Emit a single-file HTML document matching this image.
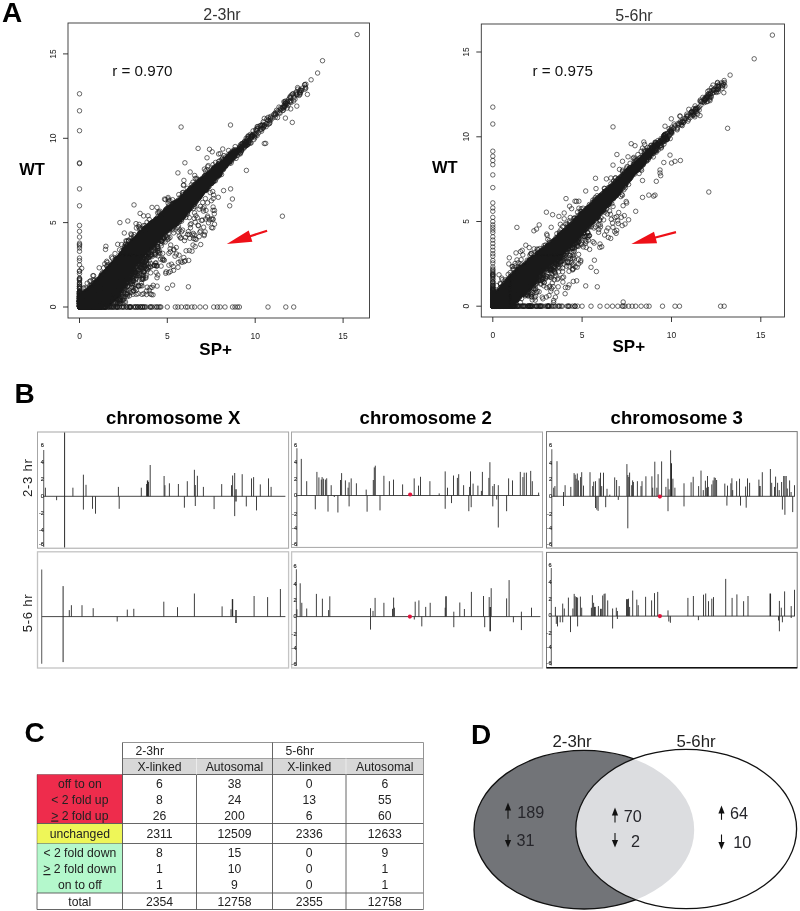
<!DOCTYPE html>
<html><head><meta charset="utf-8"><title>Figure</title>
<style>
html,body{margin:0;padding:0;background:#fff;}
svg{display:block;font-family:"Liberation Sans",sans-serif;}
.b{font-weight:bold;}
</style></head><body>
<svg width="800" height="911" viewBox="0 0 800 911">
<rect width="800" height="911" fill="#fff"/>
<g opacity="0.999">
<defs><marker id="m" markerUnits="userSpaceOnUse" markerWidth="6" markerHeight="6" refX="3" refY="3" overflow="visible"><circle cx="3" cy="3" r="2.25" fill="none" stroke="#1a1a1a" stroke-width="0.65"/></marker><clipPath id="cr"><ellipse cx="686.2" cy="829" rx="110.4" ry="79.6"/></clipPath></defs>
<text class="b" x="1.9" y="21.9" font-size="28" fill="#000">A</text>
<g id="plot-L">
<polygon fill="#080808" points="79.5,293.4 81.9,291.7 84.2,290.1 86.6,288.4 89.0,286.6 91.3,284.2 93.7,281.9 96.1,279.1 98.4,276.2 100.8,273.3 103.2,270.7 105.5,268.2 107.9,265.6 110.3,263.0 112.7,260.4 115.0,257.9 117.4,255.3 119.8,252.8 122.1,250.1 124.5,247.3 126.9,244.5 129.2,242.0 131.6,239.7 134.0,237.3 136.3,234.9 138.7,232.5 141.1,230.3 143.4,228.3 145.8,226.3 148.2,224.2 150.5,222.2 152.9,220.2 155.3,218.2 157.6,216.2 160.0,214.2 162.4,211.9 164.8,209.6 167.1,207.3 169.5,205.5 171.9,203.9 174.2,202.2 176.6,200.5 179.0,198.8 181.3,196.7 183.7,194.3 186.1,191.9 188.4,189.5 190.8,187.1 193.2,185.0 195.5,182.9 197.9,180.9 200.3,178.8 202.6,176.8 205.0,174.7 207.4,172.7 209.7,170.7 212.1,168.6 214.5,166.6 216.9,164.6 219.2,162.5 221.6,160.3 224.0,158.0 226.3,155.7 228.7,153.4 231.1,152.1 233.4,150.9 235.8,149.7 238.2,148.5 240.5,147.2 242.9,145.9 242.9,145.9 240.5,149.2 238.2,152.4 235.8,155.7 233.4,158.8 231.1,161.9 228.7,164.9 226.3,167.5 224.0,170.2 221.6,173.0 219.2,175.7 216.9,178.6 214.5,181.3 212.1,183.9 209.7,186.5 207.4,189.1 205.0,191.7 202.6,194.5 200.3,197.4 197.9,200.3 195.5,203.1 193.2,205.9 190.8,208.9 188.4,212.0 186.1,215.0 183.7,217.8 181.3,220.6 179.0,222.9 176.6,224.8 174.2,226.7 171.9,228.5 169.5,230.4 167.1,232.3 164.8,234.2 162.4,236.7 160.0,239.6 157.6,242.3 155.3,244.6 152.9,246.9 150.5,249.5 148.2,252.1 145.8,254.7 143.4,257.0 141.1,259.3 138.7,262.0 136.3,264.8 134.0,267.7 131.6,270.6 129.2,273.6 126.9,278.2 124.5,284.2 122.1,291.3 119.8,296.3 117.4,298.7 115.0,301.0 112.7,303.3 110.3,305.7 107.9,307.0 105.5,307.0 103.2,307.0 100.8,307.0 98.4,307.0 96.1,307.0 93.7,307.0 91.3,307.0 89.0,307.0 86.6,307.0 84.2,307.0 81.9,307.0 79.5,307.0"/>
<polyline fill="none" stroke="none" marker-start="url(#m)" marker-mid="url(#m)" marker-end="url(#m)" points="168.9,215.0 214.3,178.3 190.8,200.8 111.6,284.3 122.4,270.4 208.6,176.5 80.1,307.0 198.3,197.3 194.2,187.4 146.4,247.6 122.8,279.1 119.3,276.0 115.9,276.9 143.1,247.9 151.7,242.3 158.7,236.4 296.2,91.9 193.5,204.6 168.5,220.7 281.5,108.7 110.2,298.9 102.3,272.8 167.1,211.7 85.7,297.5 84.5,291.9 153.1,227.5 146.2,240.0 220.0,160.8 169.5,226.1 153.0,230.2 150.6,223.4 114.8,286.2 81.1,297.5 106.9,304.3 178.5,201.0 108.1,282.2 132.3,253.6 79.9,294.7 199.9,190.0 101.5,282.7 117.7,244.3 210.1,179.5 152.4,233.9 203.1,184.8 171.0,208.5 185.7,197.0 92.5,300.3 156.9,228.8 152.1,244.1 208.1,174.3 131.1,246.4 165.1,210.7 87.9,297.9 134.9,259.2 125.7,279.3 100.9,307.0 197.5,190.5 133.7,248.0 260.2,130.1 163.9,226.5 166.1,231.2 170.8,207.7 176.3,205.3 101.0,307.0 142.5,247.4 113.7,277.4 137.0,250.6 93.2,280.2 246.5,142.6 110.2,272.9 175.6,207.7 122.4,275.4 208.7,174.5 174.3,215.3 98.2,286.1 202.7,192.3 230.6,155.4 216.1,171.1 161.0,224.4 100.2,298.8 107.0,291.5 223.6,166.1 158.5,231.2 105.3,307.0 211.0,177.4 171.3,211.7 161.0,215.4 133.3,256.7 138.3,252.7 113.7,270.9 84.8,307.0 209.2,174.5 146.4,228.5 157.8,217.0 125.5,266.3 187.1,209.2 83.0,294.6 132.7,267.7 83.7,307.0 97.0,288.4 245.8,142.0 173.6,212.9 140.7,243.7 154.4,239.0 208.4,187.3 128.7,241.3 164.0,216.1 177.3,223.1 130.3,251.9 153.8,238.5 189.1,203.2 217.6,167.2 101.0,284.9 225.7,162.1 80.1,307.0 187.3,205.4 196.5,197.3 99.0,300.5 139.4,243.6 197.3,193.3 81.4,307.0 169.4,208.5 193.5,199.4 152.9,225.7 183.4,209.8 111.8,287.6 107.8,271.7 131.4,252.4 105.1,296.0 129.0,262.9 232.2,155.1 161.5,235.4 128.1,244.5 118.3,265.6 234.4,156.8 143.1,240.9 263.0,127.8 153.2,241.8 154.0,236.3 214.1,176.7 185.8,193.8 162.6,217.5 140.5,241.7 209.6,175.9 138.4,243.1 221.8,163.5 89.2,306.3 141.0,243.0 153.8,225.5 233.7,151.7 115.3,265.8 195.7,200.2 176.3,204.7 182.1,209.9 169.6,218.7 250.3,134.4 127.0,265.0 136.4,262.5 108.5,299.8 86.6,307.0 109.9,305.9 219.5,169.5 201.8,178.6 95.5,299.3 165.9,209.6 148.0,238.1 164.6,222.9 173.8,225.6 123.3,283.3 240.8,148.3 146.1,242.5 169.4,210.3 170.4,219.3 105.7,283.2 88.2,307.0 138.3,237.6 189.0,195.4 197.3,198.9 184.0,198.5 95.6,305.0 218.8,165.3 195.0,187.4 209.5,172.8 154.4,241.8 219.5,165.9 86.1,307.0 83.7,297.3 82.3,307.0 115.6,263.7 115.0,269.1 106.2,287.9 160.6,225.1 85.0,305.8 164.0,213.6 103.2,296.9 176.5,204.7 82.4,307.0 123.9,270.3 227.7,159.7 156.5,239.5 196.6,198.5 173.7,209.1 166.9,226.7 106.8,286.2 161.7,220.6 85.1,307.0 195.0,202.6 239.8,147.0 204.5,189.1 86.6,307.0 127.9,271.6 124.9,261.3 95.5,284.6 169.2,218.0 194.3,200.2 124.3,250.6 206.3,178.1 194.2,192.8 97.9,299.2 189.4,200.0 210.7,180.2 107.6,289.4 161.6,230.4 170.9,207.0 166.7,223.8 93.2,307.0 174.1,211.1 169.9,214.8 198.8,195.0 195.3,187.2 126.3,276.3 182.8,194.6 207.2,178.3 213.2,181.1 102.5,286.6 83.2,303.1 172.6,212.6 110.1,299.7 160.1,235.4 230.6,153.4 133.7,255.5 115.6,262.0 144.8,237.6 173.5,224.1 93.9,296.9 133.9,243.8 98.5,288.0 174.3,214.6 200.0,192.4 133.4,246.7 132.6,243.8 156.7,239.3 110.2,288.0 114.8,291.0 126.6,246.1 144.9,225.6 91.1,307.0 187.3,188.4 162.3,232.2 122.3,262.6 90.5,306.0 188.8,191.7 98.2,287.7 98.5,298.2 98.1,302.5 91.0,298.5 216.8,172.4 118.0,260.9 123.3,279.0 200.4,187.1 168.2,227.8 106.2,274.2 141.7,238.0 211.0,173.1 133.2,249.6 181.2,200.3 93.3,291.4 183.6,207.8 190.9,195.2 199.1,194.5 176.0,207.5 132.5,258.5 88.6,307.0 153.7,244.5 188.0,191.7 106.7,292.4 117.5,272.5 156.2,240.2 186.6,195.2 214.1,170.9 97.4,303.5 105.8,300.7 194.6,189.3 171.7,226.5 182.7,200.8 299.3,95.4 228.0,159.4 202.3,192.4 191.0,192.1 136.0,247.3 171.2,221.1 105.8,283.5 188.3,200.4 188.0,195.7 182.7,214.0 143.1,237.7 133.6,251.1 139.5,247.0 84.2,295.6 202.6,184.0 157.1,227.7 134.9,261.7 157.9,229.9 182.8,197.4 134.0,252.5 200.0,180.1 220.8,165.4 134.9,249.3 99.1,290.4 188.4,196.5 290.5,101.5 100.6,283.4 181.5,214.3 199.1,197.2 221.1,166.1 97.1,302.5 92.5,307.0 279.0,107.1 96.1,282.4 104.7,307.0 161.8,233.0 143.3,247.6 186.9,203.2 106.7,261.3 219.2,168.0 110.5,290.4 189.7,201.1 89.1,299.1 147.2,248.5 84.0,307.0 124.3,256.6 124.1,271.2 182.5,196.8 144.6,230.4 87.5,305.8 295.9,93.0 212.1,175.4 219.7,174.3 114.7,273.3 135.8,253.6 111.9,265.7 97.3,305.0 84.1,307.0 151.5,237.6 97.0,292.5 104.6,295.8 205.8,178.7 148.8,244.7 105.7,302.4 175.4,211.9 117.5,281.7 154.9,226.0 119.9,275.9 153.3,224.7 169.4,216.0 156.2,229.7 136.1,250.2 193.2,192.7 208.6,178.4 105.1,301.8 98.9,307.0 95.6,307.0 261.6,129.3 229.1,158.5 112.4,290.6 248.5,142.9 109.2,288.9 151.9,224.6 150.6,237.8 219.3,171.5 85.2,307.0 124.6,249.0 165.3,226.0 88.9,307.0 113.3,262.1 146.0,243.1 210.3,172.7 188.5,208.9 199.7,194.7 188.5,193.9 180.8,206.0 203.6,191.2 177.0,212.5 184.8,204.9 122.6,253.0 103.4,275.1 187.8,207.6 103.1,281.5 220.7,166.9 164.9,222.7 126.6,247.9 227.0,163.5 101.6,293.9 153.1,230.4 92.5,298.9 244.2,142.3 161.8,230.4 195.3,194.3 119.8,268.6 195.0,187.8 180.1,213.8 171.6,224.6 233.5,150.2 141.5,246.4 138.9,245.6 178.5,226.0 200.8,185.0 127.4,251.6 175.3,213.2 109.3,267.8 158.4,238.7 189.7,191.2 88.7,305.6 183.7,214.2 81.6,307.0 238.6,150.6 146.5,238.9 138.0,256.5 182.6,206.1 154.4,226.8 184.1,214.1 91.5,307.0 160.0,234.4 159.3,229.4 225.2,163.8 85.1,293.4 144.3,244.7 169.8,208.9 158.3,239.7 90.0,304.0 164.4,215.1 111.2,285.5 107.4,298.9 209.8,180.7 107.7,285.4 144.5,229.6 186.9,208.1 180.7,218.4 158.7,222.1 195.9,191.0 146.1,244.2 168.3,221.4 197.9,193.7 176.5,211.3 171.3,208.2 137.6,254.0 159.4,217.8 136.1,239.0 186.0,203.7 133.9,259.5 146.2,249.5 187.7,207.9 151.5,241.1 127.8,254.2 199.3,189.7 134.0,242.8 202.7,202.5 192.3,191.1 143.5,249.2 181.5,212.9 84.3,304.6 135.2,255.0 205.8,184.8 162.4,221.1 159.3,226.2 174.6,214.4 176.5,218.4 163.0,216.2 139.6,242.6 105.7,291.4 121.3,288.3 121.3,273.5 141.1,243.0 305.0,89.2 129.9,264.8 143.5,233.8 132.6,260.0 162.7,232.2 232.1,159.6 212.2,179.0 133.4,245.9 117.6,263.2 211.1,182.7 150.1,223.8 177.6,202.9 89.9,307.0 207.1,180.2 124.2,246.4 150.2,245.2 107.8,277.2 139.6,254.2 199.5,194.5 199.5,189.1 147.2,244.3 189.6,199.0 145.0,250.2 132.9,249.0 157.6,232.2 108.2,283.2 124.7,255.6 180.6,206.8 190.0,206.9 87.5,307.0 184.4,202.6 197.7,179.7 143.2,243.2 88.3,307.0 177.2,213.1 114.7,284.1 171.6,216.0 133.3,257.1 170.7,216.5 116.4,274.0 147.7,240.8 154.6,231.1 169.8,220.3 108.5,277.4 241.4,147.8 120.8,262.1 123.2,267.6 116.1,295.3 89.1,289.0 140.0,239.4 190.2,205.6 181.0,210.7 107.4,299.3 99.0,285.5 125.4,255.2 189.6,190.6 149.3,233.0 222.0,164.0 173.4,208.0 168.3,221.5 189.5,194.6 186.9,208.5 128.6,260.1 116.2,274.0 142.1,249.4 149.5,236.4 99.7,294.8 142.6,231.9 171.0,214.5 98.8,296.7 99.2,295.7 104.3,299.9 120.0,280.4 241.1,147.9 83.1,304.8 105.7,278.5 103.0,283.6 147.3,246.8 81.5,303.9 145.0,236.9 102.7,281.3 118.0,293.8 193.4,198.0 105.8,283.1 167.8,217.7 137.6,256.7 139.2,254.3 197.6,187.8 102.4,304.1 222.2,168.3 213.3,176.8 175.1,209.8 86.5,307.0 174.4,216.2 165.4,230.8 190.2,203.6 110.0,278.9 235.2,146.6 211.5,170.3 95.8,289.4 124.5,269.0 84.0,307.0 200.1,181.4 219.4,165.7 283.4,110.0 167.1,213.9 174.8,211.0 176.6,209.1 161.1,228.0 234.6,149.9 166.5,226.3 127.5,248.1 152.9,244.1 82.1,307.0 183.1,201.9 178.8,212.8 139.7,242.8 204.0,179.0 187.7,197.8 127.6,262.9 90.5,307.0 98.3,293.0 105.8,299.1 122.9,287.0 143.5,235.2 223.7,164.9 119.3,273.3 214.6,170.2 176.9,207.4 204.4,188.9 137.2,260.7 79.9,307.0 192.5,195.5 114.6,262.7 99.8,288.1 194.6,196.9 177.7,209.7 109.8,299.3 117.7,272.7 228.1,158.4 117.9,273.8 180.0,208.1 97.9,292.1 197.2,189.1 96.2,307.0 153.3,233.0 84.4,304.8 158.2,240.1 203.0,189.0 91.5,307.0 118.7,268.5 189.1,209.0 166.5,228.6 124.2,281.2 169.5,228.2 144.5,232.1 206.2,187.5 121.4,277.7 188.0,208.4 170.5,222.1 185.5,196.4 133.6,248.6 183.2,208.6 179.4,216.3 134.9,250.9 83.2,301.4 242.1,144.3 181.6,198.1 108.7,286.0 184.1,209.3 119.3,278.4 146.6,242.1 205.7,175.3 143.6,241.6 120.6,262.0 123.2,262.2 90.4,300.3 110.8,275.4 118.2,269.9 104.2,277.7 88.4,307.0 146.1,246.3 110.1,296.0 185.2,206.2 221.8,168.0 118.5,277.9 161.4,225.2 152.0,223.0 90.1,307.0 97.3,303.1 211.2,178.3 147.3,234.1 195.5,195.6 88.9,290.1 164.6,231.0 206.8,188.9 207.2,174.9 80.2,301.4 154.1,231.5 132.2,261.1 188.4,195.0 89.9,303.4 117.3,294.2 196.8,197.8 146.7,244.1 144.3,255.0 247.2,138.6 125.2,266.0 85.4,307.0 135.6,249.6 101.4,287.9 91.1,307.0 160.7,215.7 235.3,151.5 162.4,228.9 172.1,219.6 125.7,258.1 161.2,217.9 187.2,192.8 163.8,218.1 195.1,194.8 158.2,225.7 107.8,288.4 162.9,223.1 149.7,226.6 103.2,307.0 168.1,230.6 197.6,184.9 98.7,289.9 157.5,236.9 184.5,202.5 137.1,256.2 118.1,283.4 132.7,244.4 157.0,225.1 177.8,217.1 159.5,227.9 94.7,295.9 197.7,190.1 222.2,164.6 93.9,306.5 115.1,274.0 104.3,281.8 203.5,187.8 217.9,171.1 85.7,307.0 127.0,267.2 107.0,297.8 146.7,245.3 221.5,163.7 89.4,307.0 103.9,295.4 149.2,245.2 154.5,228.5 186.2,211.8 142.1,247.7 99.6,278.2 130.0,258.1 266.1,126.6 187.0,206.4 96.1,295.6 196.1,195.1 123.9,251.0 191.7,187.8 81.2,305.7 208.1,184.7 102.6,282.2 144.7,233.4 174.2,210.9 152.1,227.4 103.1,290.5 99.3,302.9 120.1,285.3 86.9,307.0 110.4,288.4 98.0,307.0 146.0,246.7 130.5,254.6 163.5,224.4 119.6,307.0 84.2,292.8 126.8,273.6 187.6,210.5 116.0,283.8 137.3,252.7 187.6,206.8 137.6,255.2 211.7,180.5 220.3,166.3 123.9,254.6 184.8,209.0 115.6,285.3 99.4,288.1 142.1,249.0 165.7,221.4 226.6,162.8 100.3,300.3 181.4,219.5 147.5,237.4 98.3,298.0 251.6,136.7 179.1,202.0 97.8,293.1 216.6,167.5 94.2,307.0 92.7,295.1 126.9,256.6 227.5,160.6 84.1,307.0 220.3,167.1 167.0,220.4 89.0,305.8 160.8,229.3 145.1,228.4 160.2,226.8 185.0,213.8 176.6,223.3 300.4,92.8 101.8,301.5 196.9,190.7 138.3,257.7 192.0,196.6 212.9,172.3 288.3,99.7 117.5,266.3 144.3,250.6 229.6,160.0 231.0,155.7 132.8,254.6 228.5,158.7 137.5,251.1 133.1,252.0 187.8,203.5 146.9,246.8 143.6,245.6 134.7,249.4 141.4,240.8 99.4,293.4 88.1,307.0 187.5,202.2 160.3,234.1 175.6,219.4 195.1,188.2 112.4,263.8 112.9,266.8 119.2,285.8 122.9,271.7 188.5,203.5 133.0,243.9 125.7,278.0 170.5,222.3 106.1,297.8 94.6,294.9 179.3,206.7 187.8,207.3 121.8,269.7 170.5,212.3 84.3,307.0 137.3,248.6 162.2,221.6 115.7,262.0 129.3,249.1 166.7,222.2 163.9,223.9 101.5,289.0 180.6,205.9 90.8,307.0 248.3,142.5 108.4,281.4 115.7,262.3 108.1,275.3 287.2,108.0 120.4,265.9 166.1,221.4 285.3,103.6 233.3,154.9 85.5,307.0 154.1,228.2 165.5,223.1 180.0,217.2 127.5,258.3 126.4,258.6 80.0,307.0 84.4,307.0 158.2,220.9 90.3,302.5 108.4,287.9 127.1,252.4 89.5,307.0 83.8,307.0 223.3,166.4 141.7,241.8 108.7,295.7 180.9,201.7 80.7,298.1 114.5,277.5 240.4,153.8 214.4,167.7 170.5,216.5 92.7,307.0 124.9,247.5 83.4,294.3 110.8,266.6 83.0,307.0 97.5,307.0 170.1,210.1 93.8,307.0 101.7,286.4 215.8,171.7 127.4,266.7 127.1,255.0 91.8,307.0 194.0,192.2 176.3,204.3 157.8,227.4 167.9,209.5 93.8,297.7 116.7,286.9 163.0,227.1 234.5,155.4 197.6,193.3 171.2,225.5 153.7,223.7 81.6,307.0 212.6,179.3 89.0,307.0 97.9,281.2 178.7,218.4 196.7,195.3 192.5,198.3 144.2,232.6 104.7,303.9 84.4,307.0 204.0,177.0 258.6,132.8 114.4,272.7 207.0,187.3 137.1,255.0 124.0,252.3 151.8,235.0 80.6,302.9 142.8,250.2 108.0,273.6 181.5,198.9 151.4,240.2 207.6,183.7 214.1,175.7 124.8,276.2 119.6,277.3 228.0,157.8 151.6,230.9 93.2,307.0 86.0,307.0 284.8,102.0 162.4,222.7 87.2,295.9 152.6,245.1 151.6,232.6 141.8,240.6 233.9,153.4 232.6,158.4 97.3,307.0 101.1,284.8 137.8,245.2 200.6,187.2 168.7,210.9 183.9,200.7 161.9,223.7 109.5,272.3 197.7,192.7 81.4,307.0 179.5,219.2 107.2,271.2 146.9,230.5 254.8,137.8 156.6,236.4 87.5,306.2 140.8,249.8 174.0,218.0 87.5,307.0 115.6,274.7 82.0,307.0 156.8,219.7 134.0,245.3 151.5,244.4 121.8,269.1 173.5,213.8 104.2,297.6 216.9,172.9 239.9,153.1 150.0,242.9 146.1,234.9 205.6,189.3 120.9,277.5 195.2,184.2 120.5,271.5 182.5,202.3 127.2,252.5 165.7,232.3 222.9,168.3 87.2,307.0 195.9,190.8 157.0,225.3 133.7,242.8 129.6,252.5 89.3,304.5 116.4,274.1 168.7,219.0 93.4,303.2 175.3,210.6 241.6,149.9 263.7,126.7 212.3,181.5 195.8,192.1 104.9,294.0 248.8,136.8 108.4,295.6 207.6,182.2 209.6,183.1 168.5,212.2 154.1,238.2 108.1,281.4 153.8,232.4 121.0,254.4 97.4,307.0 97.7,297.4 194.9,187.8 221.7,159.4 99.7,295.3 81.3,307.0 117.2,258.6 98.6,307.0 106.4,300.5 163.0,222.7 139.9,241.0 140.9,251.1 108.8,298.4 174.6,210.8 120.9,257.6 136.6,244.8 145.8,241.3 216.2,166.1 114.7,290.3 182.3,217.4 123.7,284.7 213.6,175.6 135.8,254.4 151.8,223.4 209.4,174.8 175.8,216.3 92.9,307.0 99.0,307.0 285.5,103.4 83.6,307.0 122.5,286.6 239.0,148.3 81.5,307.0 102.5,285.3 110.0,270.5 91.8,307.0 147.0,232.6 164.3,213.7 125.0,277.9 94.9,299.4 196.5,186.3 195.4,191.1 159.9,211.2 99.1,307.0 157.0,232.7 169.6,225.4 140.7,242.6 206.5,186.1 135.3,249.7 152.6,237.7 95.7,296.9 160.1,220.1 189.3,196.1 184.1,215.0 116.2,271.4 288.1,105.2 182.5,216.2 140.1,248.0 138.8,259.8 191.3,197.0 104.6,283.1 171.0,222.4 182.4,210.0 153.4,243.8 208.5,178.1 146.5,239.9 146.0,252.8 120.2,263.6 220.7,171.2 124.7,282.1 179.0,204.1 138.0,242.3 226.5,163.7 232.1,157.9 83.7,295.6 294.0,97.6 166.0,212.6 90.0,285.3 150.6,225.5 86.5,307.0 158.0,224.2 106.0,281.8 132.1,258.5 123.0,271.1 165.7,230.0 198.5,196.3 226.9,162.5 126.5,254.7 161.0,215.9 80.2,307.0 132.7,261.7 240.3,145.0 96.4,297.2 207.8,182.5 172.9,220.1 121.5,268.7 191.1,198.2 120.8,272.2 213.7,176.9 91.2,304.7 96.4,297.4 186.9,208.6 143.7,234.4 100.5,278.5 152.9,237.9 121.9,260.1 158.1,222.9 185.9,205.7 205.0,187.0 87.8,304.2 164.2,214.0 269.3,121.1 145.3,250.0 189.8,199.4 93.3,303.8 208.6,178.9 162.8,219.8 212.0,178.8 192.6,197.2 207.6,181.4 87.6,301.7 181.9,207.5 107.6,287.2 117.5,269.3 125.9,248.2 164.1,232.7 169.3,213.1 224.9,164.2 81.2,307.0 107.1,295.3 131.2,249.4 197.8,190.0 158.2,230.8 152.7,225.4 188.4,198.6 173.2,224.6 120.9,283.7 91.9,289.1 145.6,238.7 210.1,175.3 165.1,218.5 87.0,307.0 142.4,251.6 134.5,270.1 162.8,221.6 163.5,231.6 234.0,151.2 127.8,254.1 137.8,248.8 167.3,225.7 211.6,176.2 180.5,210.3 146.8,241.2 197.2,190.1 148.9,239.8 242.6,143.4 119.9,267.5 97.6,288.1 200.0,180.3 122.0,260.2 203.2,182.6 166.7,225.8 152.3,233.8 91.9,295.6 192.4,186.6 88.8,299.2 244.0,147.3 209.4,177.0 122.8,283.9 97.7,302.1 211.4,177.5 148.1,234.3 97.3,292.4 150.8,238.5 114.7,265.7 137.8,257.1 171.1,222.6 219.4,171.5 194.8,202.8 102.5,283.8 147.8,234.8 149.9,238.7 282.7,108.1 91.8,307.0 152.6,234.9 219.1,166.4 136.5,258.6 116.9,279.6 159.0,232.0 125.2,266.2 223.3,162.5 91.5,307.0 109.0,278.7 91.4,307.0 181.4,202.3 121.4,277.0 215.1,172.9 213.4,175.6 226.9,158.6 116.1,274.3 79.5,302.5 134.9,254.7 241.8,147.9 188.9,200.8 87.9,302.1 180.0,202.5 220.0,169.9 246.3,145.2 182.0,207.3 206.3,184.4 202.1,193.5 130.7,257.7 93.6,306.8 183.6,205.6 99.0,301.9 134.4,259.4 296.8,94.5 159.6,227.6 154.1,243.8 232.1,155.8 120.1,286.7 305.9,84.2 218.4,173.2 131.5,268.4 126.3,270.8 97.5,298.5 219.5,167.6 106.0,292.5 80.7,296.9 212.5,172.3 165.1,229.9 175.6,219.5 184.4,213.8 85.5,307.0 92.5,303.3 151.0,234.8 86.6,307.0 151.6,225.3 184.9,202.4 173.6,232.9 167.7,214.7 86.0,306.3 113.3,288.6 214.4,180.6 97.0,301.7 155.8,220.9 86.6,307.0 228.0,157.1 104.0,293.3 138.1,259.6 157.7,233.2 182.3,202.0 227.3,157.6 184.9,209.0 129.1,264.3 90.2,307.0 180.7,202.5 251.4,135.5 81.8,307.0 190.6,196.6 104.6,298.6 145.3,235.9 154.3,234.4 167.4,212.2 282.8,110.5 177.9,218.5 135.6,252.0 181.8,209.7 146.2,239.9 138.6,258.7 131.8,260.8 150.1,232.2 119.7,268.6 114.1,272.0 100.7,304.6 142.5,248.5 121.4,282.2 201.2,180.6 203.3,182.8 128.6,249.6 168.1,228.3 215.6,173.7 130.8,248.1 158.9,221.6 142.9,251.7 172.5,223.0 239.6,149.0 99.2,307.0 244.2,143.9 174.8,219.8 194.0,194.4 170.4,211.0 207.9,174.1 126.1,270.6 180.8,217.6 117.2,263.5 152.3,235.6 177.0,201.2 108.2,287.3 88.1,293.3 193.2,194.0 196.2,198.0 174.8,214.8 125.4,262.7 173.7,211.7 91.4,300.3 174.3,223.2 161.9,232.5 167.8,229.3 143.4,245.0 111.6,272.0 183.4,212.0 145.9,230.6 186.2,201.6 131.6,259.7 92.0,307.0 157.1,230.0 168.6,226.3 221.5,174.5 211.9,176.2 87.6,307.0 190.2,200.8 116.8,283.4 179.3,208.2 133.8,253.7 125.5,265.7 149.3,242.1 155.4,239.6 178.9,219.0 170.8,211.2 176.6,214.3 134.4,255.0 176.4,212.1 128.9,259.3 166.4,228.5 145.2,233.8 160.0,230.7 81.9,307.0 150.8,243.4 110.9,275.2 134.7,259.3 90.0,290.4 173.5,215.4 213.3,177.7 130.2,269.8 94.4,307.0 168.2,216.3 97.6,307.0 212.8,175.0 96.9,282.4 131.2,249.0 150.3,248.0 96.3,307.0 125.0,250.0 118.8,286.0 181.6,202.4 275.2,113.1 131.4,265.1 193.2,197.1 99.5,286.0 162.5,232.6 141.4,249.3 120.7,262.8 198.4,185.9 186.3,195.0 98.6,291.0 121.3,273.5 198.0,190.4 289.3,101.3 167.0,213.1 208.2,177.5 270.5,116.5 185.5,196.8 171.8,208.5 111.1,283.4 132.5,267.9 168.7,221.3 223.1,163.6 122.6,264.4 136.0,255.3 82.6,299.5 179.2,207.7 142.9,236.5 194.3,194.8 112.9,280.4 173.9,216.5 175.8,213.8 145.9,227.2 106.4,277.7 137.1,254.8 186.1,196.4 106.5,270.9 92.3,288.6 145.7,238.8 113.0,285.5 194.8,200.6 197.6,195.2 230.8,155.4 201.7,183.0 172.1,220.2 106.2,302.3 198.6,189.9 183.7,209.7 186.4,209.1 179.3,211.3 199.9,194.5 122.1,275.3 175.7,206.0 153.5,229.5 127.8,260.3 126.2,257.8 101.7,307.0 149.8,236.0 132.2,259.0 139.8,255.7 204.0,186.8 177.0,207.3 176.8,213.8 270.1,118.9 110.6,284.5 152.1,241.4 92.6,300.1 135.7,258.3 233.4,152.5 91.7,302.7 188.0,199.9 206.8,186.7 152.3,230.5 194.3,195.8 142.6,235.0 130.0,245.9 151.8,234.0 107.3,301.0 123.4,266.9 123.1,277.6 280.2,110.1 127.4,251.9 112.2,281.6 228.3,155.1 99.2,290.4 244.6,144.0 204.3,189.6 172.1,216.6 140.7,254.6 107.6,305.9 94.6,296.5 94.2,282.8 129.4,266.5 137.7,236.3 222.2,163.1 156.2,225.7 285.3,105.1 182.7,211.2 100.3,298.9 158.7,218.4 102.2,280.9 85.0,305.1 230.1,155.4 127.8,250.9 106.5,285.3 94.0,299.3 172.8,217.8 145.5,247.0 81.1,307.0 181.8,202.0 116.2,292.6 191.5,197.7 149.4,247.3 156.1,227.8 144.9,239.5 176.2,217.7 284.0,105.6 194.3,195.6 89.3,296.7 150.3,249.1 112.9,270.5 94.1,305.8 107.3,286.0 114.9,287.5 239.6,146.9 186.1,197.4 204.3,183.7 179.5,219.8 124.6,269.4 135.4,244.2 142.5,246.7 121.4,280.0 139.8,247.7 190.1,199.5 90.2,294.0 119.0,279.0 148.0,231.0 176.3,214.2 171.9,214.6 183.2,211.2 94.5,298.1 105.3,298.0 123.6,255.4 119.7,285.6 187.7,200.0 291.3,95.2 177.3,215.6 84.1,300.6 122.0,282.3 195.2,191.9 222.4,163.4 164.6,212.6 129.4,246.0 130.3,260.3 170.1,207.8 206.6,184.8 128.2,266.3 106.7,282.9 79.8,307.0 99.1,280.5 203.9,189.3 168.9,218.4 285.3,101.1 89.3,307.0 131.8,240.9 194.0,185.3 174.1,210.2 88.9,291.1 136.9,248.4 170.7,217.7 177.9,210.9 144.1,250.5 106.3,303.0 244.7,144.0 146.2,231.8 182.2,210.0 156.0,223.4 90.9,292.3 113.3,295.6 88.4,307.0 106.7,280.1 108.1,282.9 138.8,241.4 125.5,279.7 131.3,255.6 197.6,183.8 82.4,307.0 94.2,304.9 196.0,196.3 155.9,233.5 142.3,251.7 117.7,273.5 157.1,238.4 111.1,276.5 205.4,185.4 198.8,182.5 125.5,275.1 82.9,307.0 211.9,183.3 122.2,279.6 173.5,214.2 205.3,182.1 194.4,196.3 206.2,187.4 149.5,228.6 202.2,192.7 145.5,235.6 117.2,290.2 148.3,227.1 127.4,260.7 189.4,200.1 200.2,190.5 99.6,297.1 102.9,277.4 134.3,256.6 145.8,242.9 237.1,151.7 229.1,159.4 245.7,145.9 183.9,211.7 176.4,214.5 118.1,278.6 132.8,253.0 79.8,306.3 200.4,182.7 118.9,269.3 90.7,307.0 124.6,260.5 125.7,250.6 183.1,215.9 80.2,307.0 112.3,278.2 214.1,167.2 204.7,175.7 169.5,210.6 159.5,235.7 111.3,283.4 208.9,180.3 188.5,191.9 152.9,242.5 102.5,290.6 110.3,303.1 133.7,245.8 126.8,260.0 88.1,293.6 137.6,261.4 143.7,237.5 120.5,267.7 134.4,252.8 127.0,258.3 133.4,254.1 168.1,203.1 150.6,232.0 107.7,297.4 193.9,194.0 152.9,231.3 145.1,230.3 181.6,208.6 187.2,210.0 203.5,178.6 196.6,200.9 175.2,221.5 182.7,213.4 101.9,280.1 179.6,208.7 115.8,277.0 116.3,288.7 96.6,307.0 136.2,250.8 82.2,307.0 173.5,223.7 186.6,197.6 190.7,197.3 97.8,307.0 171.2,210.2 201.4,188.3 84.5,306.0 107.1,302.7 117.7,260.6 145.6,246.2 104.0,285.3 156.6,230.9 128.7,267.9 173.2,204.7 155.5,230.6 177.7,201.6 114.7,265.3 180.7,212.0 184.6,203.7 182.8,217.3 89.2,297.9 231.2,159.2 162.0,220.3 118.4,263.3 141.6,245.1 153.5,235.9 153.6,235.2 114.9,279.8 117.3,272.8 131.5,265.3 191.6,203.1 142.1,252.5 84.9,298.5 144.2,228.8 108.2,283.5 81.2,307.0 257.5,128.3 121.5,287.0 156.4,234.6 130.7,260.3 87.0,306.8 215.3,172.4 226.6,161.9 106.1,307.0 139.3,242.3 132.9,267.0 103.3,286.2 174.2,206.7 191.8,190.6 188.3,192.1 176.1,209.7 81.9,299.0 112.3,286.2 153.1,231.1 180.1,208.9 134.7,253.3 143.7,243.7 201.9,182.9 82.8,307.0 117.9,263.0 120.9,281.6 290.1,97.9 112.0,288.6 86.1,296.2 139.0,248.9 172.4,207.8 101.4,275.0 201.7,181.7 107.5,269.0 180.3,213.2 102.6,296.8 210.5,179.0 108.2,299.3 184.2,199.3 201.5,193.9 115.9,267.2 92.7,302.5 163.4,215.0 150.9,232.5 148.1,226.7 191.6,196.7 145.7,247.8 150.6,225.1 149.2,238.2 144.5,232.6 137.5,245.8 102.4,301.7 121.7,290.4 117.3,264.5 114.9,273.1 191.9,198.0 95.7,299.3 108.8,274.5 154.8,238.5 124.2,269.5 113.8,296.9 132.9,239.8 151.3,242.2 176.0,202.3 251.1,142.9 204.2,181.3 141.0,252.0 144.1,242.2 138.9,260.6 113.6,274.7 234.2,157.4 89.2,293.9 108.7,272.9 174.2,207.7 163.8,232.7 119.3,259.8 227.1,160.4 138.0,237.8 164.8,212.5 92.4,307.0 212.7,177.0 94.1,300.9 135.8,247.6 211.4,180.9 230.7,155.4 216.1,170.8 199.5,189.1 112.8,296.3 83.9,298.7 144.1,242.1 88.4,307.0 240.2,152.7 80.6,307.0 126.0,267.0 108.5,273.1 81.3,307.0 150.9,227.4 90.3,296.4 215.0,173.8 177.9,219.8 132.4,253.3 202.1,187.6 194.2,187.4 126.2,262.6 203.1,183.7 224.2,165.2 168.2,212.2 129.8,248.7 215.2,169.4 229.7,156.7 129.1,271.8 91.7,293.4 207.3,178.6 174.6,218.3 112.6,278.6 160.6,230.6 123.5,260.2 220.7,170.2 128.4,260.4 107.5,275.3 85.6,297.2 128.5,271.3 282.6,107.3 110.7,277.8 145.0,243.3 250.9,138.0 80.3,307.0 121.7,264.7 198.3,181.4 93.1,307.0 223.8,167.5 200.7,194.3 99.9,291.9 164.2,225.8 159.0,226.6 178.8,218.2 123.3,272.1 134.4,254.4 113.9,292.1 121.2,276.0 104.6,289.4 216.2,178.4 211.8,177.0 131.0,256.6 178.7,206.3 149.6,232.8 119.6,276.0 129.5,262.1 244.0,148.1 128.3,272.0 162.3,222.1 230.7,155.0 122.0,269.0 196.2,194.1 95.7,299.3 184.4,199.6 195.8,196.0 201.3,185.0 254.7,136.5 181.2,212.6 257.8,126.7 119.3,269.0 154.1,222.2 110.1,267.0 91.4,307.0 142.3,261.2 182.5,205.2 191.2,197.0 81.8,307.0 229.4,155.8 114.8,267.5 121.2,263.2 200.3,183.1 213.5,177.7 184.9,201.9 127.1,248.9 145.7,237.9 200.7,182.5 130.6,252.4 195.6,186.3 191.8,195.4 146.5,245.3 214.1,172.9 134.5,248.9 186.8,197.9 171.0,219.2 126.8,253.6 155.6,236.0 166.2,229.2 156.3,219.3 95.2,284.6 287.1,102.0 245.3,144.8 84.8,307.0 230.3,159.7 155.5,234.8 97.4,293.7 198.2,188.3 141.4,255.0 181.6,206.9 199.4,186.0 156.5,218.6 86.5,307.0 198.5,187.9 178.8,208.6 217.9,173.4 118.1,279.1 192.3,193.9 208.5,180.3 130.3,253.6 138.1,247.6 127.2,275.0 80.2,307.0 112.6,287.0 126.9,259.5 94.9,304.5 189.2,199.0 140.6,239.3 160.8,236.9 120.2,293.5 131.0,269.6 187.4,195.9 146.7,232.1 164.8,211.6 139.9,250.8 159.2,230.0 214.3,175.9 117.7,258.6 153.7,231.5 177.8,214.5 91.8,297.1 241.4,151.5 150.8,230.2 114.5,274.1 188.4,231.6 197.3,188.3 169.7,222.3 219.7,170.6 92.1,307.0 155.0,231.2 185.8,194.0 219.9,168.9 171.3,206.5 165.7,210.8 135.0,244.0 161.3,218.5 158.9,222.4 216.4,171.9 199.4,184.0 185.0,198.4 222.2,170.4 88.9,300.5 189.8,208.7 145.8,235.6 187.1,197.6 121.8,267.0 146.3,243.1 198.9,198.1 84.4,306.4 121.1,254.6 149.4,234.1 204.0,187.1 118.1,273.1 198.7,192.1 114.4,269.5 122.8,285.7 158.7,231.5 173.1,226.7 210.1,173.3 209.9,180.8 115.2,268.1 186.2,206.5 170.4,220.8 134.7,252.0 190.8,197.1 214.4,178.1 148.0,232.8 219.7,170.8 97.7,296.2 103.2,297.6 189.0,190.1 123.2,261.7 163.2,232.5 150.6,237.1 100.3,300.4 187.5,197.4 185.6,198.7 100.2,295.7 116.6,271.4 194.8,204.3 218.5,174.4 207.8,186.8 151.3,238.6 132.0,244.4 143.2,247.4 104.7,287.8 150.4,227.7 112.5,297.8 102.6,297.4 133.9,256.3 88.5,304.7 146.8,241.2 179.1,221.8 172.7,212.4 254.9,135.1 211.4,179.8 170.2,208.0 214.4,177.2 143.1,244.6 194.5,196.7 120.1,274.2 154.8,238.0 262.1,125.7 165.2,214.4 152.0,236.4 192.6,191.9 124.1,282.9 200.1,192.9 82.0,307.0 113.5,269.3 104.8,298.4 116.3,270.9 230.9,155.1 82.8,307.0 122.2,297.2 161.7,227.9 180.1,201.8 190.5,194.2 134.3,258.4 110.9,292.1 204.1,187.4 96.9,307.0 88.7,307.0 112.6,266.5 150.0,230.7 229.3,162.3 183.8,207.1 160.2,229.1 154.1,226.6 178.7,202.2 169.1,224.5 127.6,251.8 92.7,307.0 108.2,280.7 191.9,201.1 170.3,218.7 194.2,200.7 85.8,295.1 215.2,175.0 134.1,256.6 223.0,162.4 164.6,219.4 157.8,237.4 197.8,197.6 169.0,217.4 176.0,221.2 102.0,277.6 166.0,224.2 130.5,257.9 90.2,287.5 98.5,289.3 148.1,234.0 117.0,296.1 189.2,197.4 96.9,296.4 81.4,304.5 299.8,90.7 124.2,262.4 152.4,222.5 109.5,287.4 109.3,287.3 137.0,247.6 193.0,187.6 85.0,307.0 201.3,183.8 284.5,106.5 159.5,224.8 131.0,261.8 112.9,296.8 105.6,296.4 125.7,277.8 204.0,181.5 79.9,307.0 192.4,191.1 175.0,224.6 82.1,307.0 89.3,288.2 184.7,208.3 175.8,223.2 124.3,255.7 206.0,186.2 109.5,276.7 140.5,254.6 95.9,296.5 171.9,215.9 91.9,303.4 105.1,299.2 189.3,189.7 151.1,242.7 174.2,215.3 184.5,201.2 166.3,220.9 107.7,289.4 179.5,219.8 96.0,303.0 118.0,273.9 143.6,232.6 95.8,285.1 94.6,307.0 172.8,220.2 185.7,199.3 132.5,246.6 135.2,263.8 109.1,277.0 154.1,224.6 162.5,237.4 225.8,166.1 85.2,305.1 217.4,168.7 285.3,103.1 129.0,247.4 183.4,204.5 199.0,183.3 172.7,205.0 120.8,282.6 168.6,221.6 209.3,181.6 94.7,284.0 148.1,245.2 82.6,304.8 202.7,191.3 191.2,193.6 86.0,303.8 186.2,203.7 178.5,208.1 97.5,296.6 154.6,234.4 178.1,211.9 127.4,247.6 151.6,239.2 255.9,129.4 170.5,224.4 151.3,229.2 88.8,297.1 96.7,283.2 203.8,177.4 185.8,194.5 200.8,187.2 162.2,220.0 161.9,224.4 155.4,220.8 184.7,201.1 126.7,268.1 150.5,241.8 146.7,242.0 174.2,220.5 110.4,270.0 83.0,307.0 92.1,307.0 105.1,284.5 205.1,175.4 182.1,203.0 186.9,201.0 143.0,232.3 94.1,296.7 146.0,237.1 206.3,182.9 152.3,249.8 169.9,216.4 133.0,252.3 100.9,300.5 169.2,211.6 148.9,226.9 128.9,264.5 116.4,274.0 179.1,214.7 124.9,252.3 161.9,222.2 116.6,307.0 187.4,201.4 133.1,259.1 147.9,234.1 223.5,167.0 182.3,203.4 184.9,207.0 128.0,249.1 201.8,186.7 134.6,257.8 280.0,113.2 213.9,174.9 173.8,221.4 200.2,189.6 157.3,239.9 184.4,206.5 97.3,307.0 280.6,107.9 194.7,190.5 99.8,304.5 114.1,279.4 161.8,227.6 188.8,193.7 100.7,302.2 240.3,148.5 128.9,250.0 295.0,99.1 187.2,197.8 148.9,248.7 131.3,268.7 93.2,286.4 92.0,286.0 169.6,218.4 190.4,198.6 217.1,172.9 131.7,261.3 227.4,163.5 121.9,280.7 228.3,156.3 220.5,168.7 101.6,304.8 205.9,189.0 180.2,206.6 180.0,216.1 201.8,188.2 156.3,224.3 152.0,246.4 132.0,243.6 206.8,179.3 215.3,167.9 102.4,293.9 190.2,199.0 118.9,294.5 105.7,276.4 107.6,277.7 161.5,218.5 119.5,300.1 114.1,291.6 93.5,294.9 125.9,263.5 190.5,195.8 82.5,307.0 148.5,243.3 165.7,211.5 86.5,296.9 121.5,279.2 216.8,171.3 293.6,101.0 203.7,186.0 103.7,307.0 189.0,203.9 144.0,232.5 103.8,290.9 148.3,242.5 221.9,165.8 209.4,180.8 135.5,260.6 88.5,295.7 215.2,176.7 275.3,114.8 152.6,229.3 111.7,279.1 157.3,236.1 179.1,207.5 148.5,242.8 129.9,254.6 114.9,271.7 121.9,287.8 86.5,291.2 115.9,273.7 235.0,151.8 80.5,299.5 183.6,216.4 192.9,182.2 137.4,252.5 164.7,227.8 111.0,306.7 175.1,202.9 180.8,203.2 184.6,202.3 149.8,238.1 249.1,142.9 207.0,169.9 161.4,234.9 177.1,207.1 118.8,282.4 230.0,154.7 171.8,219.3 213.7,169.8 120.7,261.8 266.7,119.1 94.5,289.1 155.4,222.3 95.2,307.0 106.6,303.8 189.0,201.8 88.9,307.0 134.2,252.1 106.8,277.9 203.7,182.4 91.2,307.0 127.6,270.3 204.9,181.3 177.8,214.9 180.1,204.8 286.5,104.3 82.7,307.0 174.6,214.1 186.1,204.0 186.6,202.4 181.7,201.9 89.7,303.8 91.4,307.0 190.3,201.6 167.0,222.6 117.0,282.6 80.7,307.0 155.8,233.7 92.3,291.9 186.6,192.5 128.2,252.5 195.9,201.5 93.1,307.0 150.2,228.5 93.7,297.3 191.5,197.0 159.6,219.1 113.0,273.0 242.1,145.9 177.1,216.8 127.6,277.1 204.7,185.1 133.8,245.4 229.5,159.3 122.0,253.8 270.8,120.1 88.3,296.4 184.6,202.5 121.1,264.7 140.1,247.8 170.5,213.6 85.9,304.2 111.4,274.9 94.3,303.8 185.4,209.9 111.1,288.8 150.8,225.8 126.4,260.6 113.2,288.8 226.4,164.8 152.1,236.3 172.6,213.3 180.3,209.4 198.3,192.3 117.1,278.0 90.6,303.1 146.3,247.5 103.7,283.7 82.3,307.0 220.8,167.9 169.2,214.7 138.7,256.6 98.9,287.4 188.5,210.6 155.7,227.5 104.4,283.7 266.4,123.6 233.7,152.0 223.4,168.0 199.3,183.4 155.5,234.0 122.4,274.6 172.8,207.6 101.1,278.7 167.8,222.9 88.8,294.8 81.3,307.0 181.9,200.5 128.5,255.9 179.3,200.6 191.4,184.8 200.9,180.3 167.6,225.3 203.0,181.5 173.8,218.0 223.4,166.2 214.2,175.5 85.6,302.9 117.7,269.4 135.1,243.8 115.5,280.8 104.7,292.9 208.6,179.5 83.0,307.0 105.4,288.3 188.4,205.5 111.4,280.9 116.4,291.2 246.1,140.8 188.8,204.0 143.7,244.8 98.9,285.7 117.9,279.0 264.4,125.6 193.2,203.2 89.4,307.0 180.6,213.0 133.3,247.4 182.5,212.2 121.7,259.3 98.0,294.3 82.2,307.0 121.7,274.1 205.8,185.2 212.8,170.3 177.3,208.3 186.5,197.2 107.3,286.0 130.1,269.9 214.8,168.7 275.3,117.2 142.9,233.2 190.8,207.7 225.7,161.5 299.8,93.0 121.8,266.6 173.1,208.5 135.3,264.3 146.0,241.0 145.6,242.4 119.3,269.9 82.1,301.2 189.3,201.8 179.1,208.0 201.9,187.0 101.3,307.0 113.3,293.1 164.8,221.0 227.0,163.1 147.0,246.5 108.2,269.3 164.6,227.6 237.9,155.2 207.4,178.6 214.7,170.5 138.2,250.9 117.0,276.1 207.9,178.6 192.7,195.8 204.0,180.7 135.4,243.4 120.4,260.7 113.8,281.7 207.9,177.0 220.7,171.3 132.0,241.7 208.8,176.4 134.0,260.0 143.6,237.7 160.5,217.3 111.1,300.4 117.7,267.6 117.6,278.5 116.6,275.1 153.2,235.9 93.8,293.7 191.5,198.8 104.4,292.3 143.0,232.5 171.3,217.1 99.2,307.0 138.0,239.6 160.1,224.0 158.2,232.8 213.1,177.7 192.2,203.4 96.7,300.7 200.5,192.8 158.1,224.6 176.5,202.6 102.3,300.5 147.0,245.7 179.7,214.2 194.3,187.0 195.7,199.6 110.5,292.2 200.4,182.3 160.8,226.0 175.2,212.1 204.0,186.8 137.5,239.6 220.8,168.5 210.3,175.3 196.0,199.7 133.8,251.6 155.1,237.5 104.2,284.6 188.3,207.9 212.7,175.9 102.4,296.2 186.1,211.6 178.8,204.3 84.6,302.5 219.9,166.0 148.0,240.4 117.9,291.5 83.7,307.0 191.7,198.2 127.8,255.6 152.9,235.6 107.3,277.4 166.3,223.6 136.3,247.1 195.8,195.6 174.8,213.8 182.8,199.8 115.4,272.1 88.5,307.0 210.0,176.0 226.6,159.0 171.6,223.6 221.5,164.3 180.6,199.9 166.2,209.1 139.4,238.9 130.3,271.9 149.5,245.1 111.3,283.6 140.7,257.0 152.1,239.7 83.9,303.0 135.8,247.2 120.1,256.7 170.2,221.7 196.7,193.4 167.4,215.1 174.5,219.9 167.3,225.2 116.1,259.1 133.3,257.6 202.6,179.5 231.2,153.5 105.3,273.8 80.9,307.0 240.9,149.0 205.6,189.7 166.4,216.6 197.6,193.8 164.5,226.0 216.3,166.3 114.2,281.4 143.0,249.0 175.5,205.3 110.3,272.6 181.8,216.9 117.0,284.4 181.1,198.3 195.4,193.0 140.2,246.7 284.1,106.6 169.8,210.5 187.8,202.0 82.3,295.3 95.5,307.0 181.3,212.1 229.8,161.5 169.4,229.1 218.7,163.7 87.9,307.0 212.9,176.5 209.4,178.0 169.5,228.2 140.9,232.7 180.4,217.7 114.3,285.5 175.0,220.6 178.8,203.7 156.7,223.2 116.6,260.9 79.7,307.0 107.4,275.9 200.6,188.4 109.8,300.4 90.0,300.7 114.7,271.4 153.8,229.0 163.4,227.6 209.4,174.7 204.6,185.6 247.3,144.9 211.1,173.8 143.9,243.9 99.7,285.4 236.7,151.3 112.2,282.6 168.5,206.1 117.3,288.9 197.6,185.2 108.1,296.2 139.7,241.5 110.9,267.8 205.8,187.1 168.1,225.5 169.8,222.2 124.4,257.4 104.7,283.5 205.1,181.1 189.0,206.0 184.6,201.6 300.2,89.9 159.5,228.3 105.0,289.7 166.7,219.7 120.5,262.1 152.9,234.7 145.2,239.4 160.1,220.9 221.4,166.3 196.4,199.9 138.9,241.6 197.6,188.1 205.8,186.0 190.5,194.7 158.4,236.4 214.8,174.3 149.9,229.3 94.6,280.3 118.4,262.9 173.6,212.4 133.7,236.8 140.0,232.6 137.0,253.5 106.9,300.8 92.8,298.7 86.4,305.6 175.7,207.9 125.8,248.5 144.8,242.5 226.4,162.3 169.2,210.0 196.5,197.2 188.7,197.8 235.4,154.3 89.0,307.0 134.4,246.7 233.0,157.0 145.9,239.7 232.1,156.7 105.9,286.3 88.0,307.0 213.8,176.4 138.3,244.8 152.2,228.7 226.8,161.4 110.8,283.9 246.8,145.2 136.2,256.8 114.8,270.3 112.9,268.0 153.7,244.8 146.3,249.6 211.5,183.3 86.7,307.0 85.7,307.0 101.3,275.7 166.2,218.5 191.7,190.5 148.1,232.1 167.3,227.0 171.4,214.3 82.1,307.0 114.7,269.3 301.7,90.5 126.8,256.9 231.5,161.1 149.9,235.1 111.3,285.2 79.7,307.0 110.6,279.3 125.4,254.9 142.3,233.2 143.4,240.6 157.9,231.9 147.3,229.8 84.1,307.0 117.6,265.9 241.4,150.0 83.3,307.0 184.5,195.9 147.6,243.7 180.7,211.3 127.0,272.7 132.4,241.2 153.4,228.4 217.7,167.5 126.4,261.2 91.7,307.0 84.9,307.0 210.4,176.4 124.3,270.3 96.5,303.4 164.8,226.2 202.7,184.6 165.3,224.6 101.1,275.3 137.5,241.2 117.6,274.5 81.8,307.0 244.5,141.4 145.2,240.9 98.7,285.6 211.2,180.6 272.5,118.0 197.4,196.7 115.7,277.7 106.7,266.1 154.6,236.0 163.0,227.8 209.7,181.3 245.9,143.4 217.9,171.5 128.4,255.8 163.3,228.8 97.1,293.5 153.7,236.2 89.5,307.0 95.3,307.0 96.9,307.0 122.6,281.9 123.8,270.1 180.4,197.3 90.3,307.0 95.3,295.8 173.4,216.7 175.8,212.5 181.2,200.0 182.6,217.1 174.4,213.6 158.6,231.0 185.6,193.2 91.1,297.7 109.7,278.5 185.6,209.2 107.0,279.9 155.4,223.3 116.7,293.1 141.2,228.8 200.7,191.1 174.0,207.2 143.2,232.2 118.6,265.7 195.5,197.8 173.5,212.3 142.4,243.7 207.7,180.3 178.6,209.1 263.3,121.8 174.6,219.7 215.0,175.5 158.2,236.5 181.1,210.6 202.2,189.6 92.3,301.0 147.3,241.2 166.1,220.1 87.7,302.7 192.9,203.5 181.9,203.5 226.8,159.8 132.7,264.7 146.6,230.3 218.4,169.7 138.3,249.4 200.7,191.4 139.8,246.3 127.8,268.6 119.1,284.8 110.0,293.3 141.2,251.2 102.5,277.1 199.5,188.0 253.8,139.6 93.3,306.6 87.2,307.0 79.9,307.0 225.2,164.2 90.0,302.8 176.8,207.0 122.9,255.1 107.8,278.4 114.7,266.7 178.2,204.7 82.0,307.0 206.7,186.8 160.7,231.9 113.1,282.8 109.2,287.2 173.2,219.4 169.5,214.8 125.0,264.1 127.2,273.7 145.8,238.6 218.0,165.8 156.5,234.1 201.8,189.1 171.2,213.6 159.9,226.8 149.5,245.0 176.9,212.2 149.8,248.0 183.4,204.4 105.5,306.8 125.6,248.4 208.5,178.7 136.0,257.3 202.3,187.7 227.5,157.7 162.3,224.2 94.0,287.9 187.9,205.3 174.8,216.4 121.0,263.4 206.3,185.0 148.5,238.0 87.6,302.3 89.1,306.5 112.1,269.4 166.8,219.0 197.3,197.3 93.6,307.0 82.6,307.0 168.6,222.0 138.0,238.8 142.7,252.8 198.2,188.3 220.6,170.1 245.9,143.9 191.3,202.9 79.9,306.2 100.9,294.6 163.5,219.0 236.4,150.7 91.1,288.9 153.2,231.1 136.2,259.6 137.7,254.1 117.9,289.3 118.2,265.9 113.5,290.9 94.2,299.3 158.8,229.8 143.3,246.3 181.5,200.3 171.1,216.5 234.8,155.0 128.0,269.0 210.6,180.6 134.5,248.0 174.0,210.8 195.5,190.2 136.2,247.3 143.3,237.1 169.8,212.0 95.3,297.5 155.6,238.3 93.0,297.4 111.6,279.2 168.6,227.0 251.0,136.2 305.8,88.1 116.7,298.3 100.3,301.2 153.7,230.8 142.6,237.7 133.7,252.4 189.6,190.1 181.1,206.5 159.9,218.2 168.4,226.4 162.7,230.0 176.4,206.5 223.6,169.3 231.5,154.6 261.5,131.2 205.6,179.6 94.4,307.0 144.1,234.7 191.7,203.5 121.6,244.6 166.3,230.9 87.3,307.0 108.6,271.5 136.7,260.6 89.4,295.8 140.2,246.0 112.4,278.2 206.1,175.6 125.1,264.2 133.9,241.0 195.0,196.0 159.6,229.6 86.6,307.0 110.6,273.1 166.9,219.5 107.9,296.3 115.0,293.3 168.6,224.1 150.2,235.0 117.9,271.0 159.5,230.3 170.2,210.5 85.0,307.0 118.6,281.6 123.5,252.3 209.8,180.0 86.7,303.2 129.1,247.3 107.3,305.2 179.0,210.5 196.6,190.4 87.6,307.0 206.4,185.4 179.1,218.0 110.5,295.3 219.6,171.1 121.4,278.2 192.8,193.0 90.1,305.7 144.7,239.2 151.8,237.1 214.1,170.7 201.1,185.1 157.7,223.9 86.8,306.9 141.0,250.5 133.2,257.8 296.2,94.0 176.9,215.1 137.4,248.3 131.6,245.5 189.5,191.0 93.1,287.1 197.6,186.3 175.5,210.7 141.7,248.2 181.1,213.1 136.4,228.0 99.9,299.1 139.1,238.1 86.7,307.0 91.9,307.0 142.3,238.6 199.0,194.1 108.6,295.8 151.1,244.6 260.6,128.9 199.4,185.6 215.5,172.6 176.1,224.0 163.8,217.0 162.7,213.2 165.5,221.9 146.0,246.7 131.0,268.8 113.6,281.9 88.7,307.0 132.3,264.3 189.9,196.3 158.6,236.1 102.9,275.3 197.1,196.3 85.3,307.0 224.8,166.0 172.8,220.3 159.1,230.4 138.5,247.3 199.0,195.8 80.4,300.5 81.7,307.0 153.9,230.9 121.9,277.3 136.9,240.2 156.3,227.7 85.7,300.9 268.0,124.4 176.5,211.2 93.6,307.0 185.2,214.3 155.7,242.2 177.8,208.7 185.1,199.7 286.9,103.9 96.3,307.0 297.9,89.1 147.7,230.8 108.2,289.4 132.9,244.7 131.6,262.7 213.8,175.0 154.5,233.2 88.9,307.0 181.8,207.9 150.7,232.3 197.2,194.5 86.0,300.8 206.7,183.7 213.2,169.5 80.6,307.0 147.7,236.6 96.8,304.1 155.2,232.6 92.2,307.0 211.7,179.0 105.7,279.4 175.1,209.1 173.0,209.0 125.3,277.0 110.1,307.0 219.4,168.5 85.1,304.6 115.8,266.1 126.2,262.6 163.1,221.8 132.3,249.9 95.3,300.8 161.1,217.6 183.1,198.8 180.4,204.0 149.5,234.6 123.3,268.4 80.9,307.0 155.7,237.3 169.4,225.7 142.6,244.7 239.2,150.9 108.4,277.6 197.1,192.4 182.4,203.1 214.8,175.6 222.5,160.9 113.3,281.0 221.5,165.4 137.2,244.0 176.7,207.9 234.9,154.7 164.7,224.4 162.9,219.8 89.5,307.0 164.9,215.4 113.9,269.4 135.0,246.1 133.5,246.7 252.4,135.7 170.8,220.7 183.2,206.2 104.1,279.7 123.0,264.9 209.5,176.4 96.6,296.9 235.0,153.7 140.6,237.1 135.2,244.4 153.1,233.3 142.9,235.6 146.8,247.3 140.1,234.0 179.9,210.1 119.0,282.3 103.2,273.1 141.6,243.5 92.0,306.8 143.5,246.1 150.2,237.9 192.1,203.7 95.0,289.4 136.2,248.9 191.5,207.2 127.8,265.2 201.0,190.2 182.3,215.1 85.4,307.0 134.6,246.3 189.3,199.6 154.8,235.9 175.8,219.2 283.9,101.8 176.1,218.9 157.6,234.4 202.9,188.2 141.0,237.3 80.9,307.0 118.4,274.0 164.6,224.8 232.3,152.1 166.4,221.4 120.0,287.2 291.0,102.5 136.7,237.3 112.0,282.8 158.6,237.0 128.7,266.9 95.4,307.0 181.5,199.4 178.4,211.8 251.0,137.3 99.0,284.2 218.0,166.7 194.2,195.6 115.6,271.9 148.0,249.7 169.7,209.4 124.5,251.2 94.8,307.0 201.2,184.0 103.0,300.3 149.7,230.3 142.1,253.3 215.8,168.2 159.5,218.9 140.2,235.1 257.2,126.6 129.9,245.0 183.5,215.3 112.9,288.5 187.9,191.4 187.0,193.0 199.6,185.5 148.8,241.8 111.2,274.9 169.9,210.1 217.9,167.9 123.8,254.7 82.3,307.0 105.9,303.5 225.5,162.0 80.3,307.0 87.1,307.0 93.5,290.3 212.9,169.8 134.3,260.1 178.5,201.9 180.5,202.1 141.6,244.3 184.3,206.4 145.5,229.9 157.0,222.1 123.3,256.0 79.7,303.6 164.4,213.6 117.4,275.9 118.8,274.9 209.8,183.5 131.2,270.3 94.0,303.4 169.7,228.5 156.5,237.2 87.6,307.0 129.4,259.5 166.9,216.5 119.5,275.9 275.0,113.3 194.5,191.4 151.6,237.8 219.5,165.5 84.4,294.2 111.6,289.9 219.3,169.6 152.3,227.3 103.8,286.1 161.1,217.6 184.0,205.1 165.8,220.0 86.0,288.0 84.6,305.6 137.7,246.6 81.7,268.3 91.4,304.1 171.4,216.4 142.2,241.5 91.6,307.0 209.2,175.7 132.2,251.1 210.8,179.6 166.7,224.7 168.3,210.0 140.1,244.0 175.7,203.3 114.3,277.9 116.3,260.6 208.9,175.8 108.6,270.6 134.7,257.4 186.1,192.8 126.7,268.0 131.8,261.0 217.6,169.3 109.0,282.1 113.9,266.1 211.6,183.2 118.8,295.3 126.7,260.0 210.5,176.9 125.4,260.4 299.8,92.2 198.3,198.8 203.0,185.7 111.7,272.8 110.5,283.2 187.2,202.8 199.3,184.9 111.6,288.4 108.9,303.6 114.3,291.5 99.1,292.9 139.7,238.5 151.4,236.5 169.4,213.6 87.3,293.7 106.9,278.3 96.2,307.0 118.1,285.5 106.0,300.7 226.8,162.0 132.9,259.5 99.3,298.0 174.9,202.3 251.9,136.7 193.8,203.0 172.2,218.8 133.6,266.1 137.2,251.7 122.7,271.9 195.7,196.3 195.2,192.3 149.5,229.5 206.1,177.5 172.8,220.7 177.6,209.1 117.9,283.0 114.0,290.3 112.0,281.9 218.6,173.4 194.7,195.8 214.8,176.4 198.6,184.4 195.5,189.9 141.9,233.1 189.2,206.2 103.3,279.0 173.3,211.2 85.5,307.0 244.6,143.1 209.9,173.4 103.0,294.4 189.7,206.3 198.8,196.3 85.4,307.0 160.5,231.5 139.6,256.2 168.0,216.1 211.6,178.2 183.0,212.0 109.6,277.8 158.9,230.0 159.9,221.2 81.0,307.0 98.3,298.9 130.9,233.9 104.9,295.2 113.4,270.6 176.2,208.4 240.8,148.7 145.0,254.3 171.9,222.8 188.6,205.7 175.8,219.7 173.5,210.5 79.6,307.0 207.8,186.1 102.5,296.8 105.2,290.4 152.4,243.3 163.5,220.0 187.7,198.2 121.3,284.9 230.8,158.6 169.4,223.6 202.5,187.6 147.7,236.9 89.6,307.0 81.1,307.0 171.1,216.9 140.4,251.5 142.5,242.2 126.1,276.8 104.9,287.8 147.2,234.7 115.9,260.0 213.1,178.8 105.0,276.6 246.3,143.0 205.8,190.1 134.3,244.8 190.3,188.8 162.6,224.1 146.1,235.7 196.7,188.1 200.0,180.4 108.3,291.6 216.7,176.5 84.0,307.0 80.2,307.0 148.7,246.0 122.6,253.4 139.9,232.9 148.0,236.7 146.5,240.0 217.2,176.0 220.3,173.7 129.0,260.3 120.6,277.1 173.1,216.9 107.8,264.8 136.8,259.9 182.2,211.0 80.2,306.8 190.2,201.9 184.5,207.1 134.9,259.5 114.9,279.2 156.8,236.2 121.7,270.8 198.3,193.2 164.0,223.4 123.3,271.2 196.0,194.0 166.4,220.0 98.3,288.6 138.7,250.4 149.5,235.4 230.5,157.8 125.3,252.2 143.6,240.2 257.2,135.4 140.4,234.3 199.4,197.2 93.3,289.5 135.8,245.5 105.7,287.7 211.0,174.2 158.6,227.5 110.7,276.0 92.6,304.8 139.7,229.3 93.2,299.9 148.9,238.5 183.8,207.6 123.9,283.8 103.4,307.0 131.2,256.0 103.2,305.8 202.5,182.6 93.2,307.0 185.5,204.5 127.2,259.6 183.7,195.8 190.0,192.0 98.7,289.2 187.8,197.7 231.0,163.1 160.6,226.3 171.8,219.0 125.6,274.4 104.4,282.5 186.0,207.1 198.2,198.6 108.9,289.9 95.6,307.0 129.9,258.1 169.1,213.9 131.7,266.3 243.0,143.4 193.3,197.5 219.7,166.4 165.3,218.1 187.7,196.7 233.8,152.8 84.5,301.7 161.7,220.4 106.2,293.4 193.9,198.7 112.7,268.7 185.6,205.8 127.0,249.3 172.7,204.2 176.7,222.9 217.5,171.2 208.3,179.0 142.1,241.1 178.1,200.3 105.5,279.1 93.4,290.8 181.7,214.8 216.9,173.6 186.4,200.2 153.4,221.8 169.6,221.1 184.0,197.5 160.9,225.4 131.4,253.9 203.8,187.6 132.3,244.0 216.0,176.5 194.6,197.6 193.5,197.4 200.6,183.4 276.5,110.3 283.6,108.0 151.2,228.4 133.4,263.1 184.4,206.3 246.5,141.3 169.7,225.6 83.1,307.0 84.9,307.0 145.9,248.0 192.7,201.4 211.8,177.7 133.1,257.9 153.5,244.9 152.9,225.8 92.9,298.1 79.5,307.0 154.4,232.1 151.6,242.9 206.4,186.2 105.4,281.4 204.2,182.8 118.2,258.0 156.6,236.3 180.7,203.5 100.2,279.1 231.4,155.8 238.2,150.4 248.6,140.6 79.7,307.0 171.6,219.6 175.5,211.6 210.0,181.5 108.2,283.0 97.2,300.9 196.3,191.4 116.9,286.7 88.8,289.5 92.6,290.0 171.8,226.9 156.2,240.4 186.6,199.8 195.9,186.4 79.8,295.5 225.5,159.2 210.0,178.7 225.6,157.0 189.7,197.1 134.4,252.5 114.9,298.0 218.6,169.6 139.6,246.2 149.3,233.1 179.4,210.2 178.0,209.6 178.7,210.9 168.7,218.8 152.3,246.3 189.4,194.9 136.1,263.1 117.0,270.9 217.5,175.3 202.9,187.2 182.2,199.0 103.5,293.0 85.9,294.7 221.7,166.6 229.7,158.6 118.4,263.7 169.6,214.4 82.0,307.0 135.8,239.8 180.2,204.9 131.1,257.8 195.9,197.2 218.7,163.9 99.0,307.0 178.0,205.5 133.3,240.7 104.4,293.1 129.4,247.3 148.4,226.6 213.9,168.2 189.2,202.1 80.1,307.0 87.5,305.6 292.5,94.4 159.1,229.4 166.8,218.2 129.9,247.7 200.2,187.4 159.2,231.6 164.3,223.8 115.1,266.0 190.9,195.1 110.1,295.8 99.0,303.6 165.0,220.3 200.3,195.2 121.4,264.5 122.7,258.9 100.8,286.1 165.8,222.7 190.0,195.1 97.4,279.5 156.1,222.4 156.7,226.7 94.7,299.3 155.4,225.4 118.3,281.9 107.9,282.0 273.5,114.7 92.3,307.0 128.6,273.1 168.0,208.6 137.4,249.2 81.9,307.0 207.0,179.1 113.7,277.8 138.4,241.8 217.4,167.2 248.2,135.8 219.3,175.2 138.3,248.2 186.0,203.1 203.4,188.9 107.6,280.4 248.1,136.5 93.9,300.8 173.6,225.1 113.6,299.9 110.2,303.2 99.0,285.2 229.3,158.2 97.8,295.6 218.6,171.1 103.1,276.1 126.6,246.4 109.7,287.3 279.1,112.7 92.7,286.1 205.9,186.8 122.4,262.9 234.5,155.6 186.9,212.9 117.2,289.7 152.4,240.8 102.5,297.2 137.7,248.9 83.2,303.4 177.0,213.2 164.4,224.4 118.3,295.0 81.3,307.0 228.0,160.7 97.3,287.6 126.3,269.5 83.0,294.7 134.3,260.0 136.9,240.9 155.8,233.8 125.8,267.8 115.2,285.8 192.4,190.3 119.3,284.5 127.0,268.0 149.7,237.6 118.6,278.0 183.5,216.8 91.4,305.3 125.7,253.1 139.7,239.3 116.4,293.1 201.7,187.3 130.1,253.1 139.6,242.7 146.5,251.6 199.9,191.8 110.7,283.5 199.7,185.5 232.4,154.6 117.5,258.8 103.6,294.2 192.8,202.8 124.2,276.7 112.0,278.2 90.6,307.0 167.3,208.2 227.1,158.7 210.3,177.0 163.7,231.8 142.2,237.0 256.6,131.0 174.0,205.1 237.0,155.2 178.0,211.9 179.2,205.6 179.8,214.6 97.4,296.4 115.6,294.9 88.8,307.0 225.3,164.7 294.0,96.2 166.1,210.6 101.7,303.9 97.2,293.9 143.3,242.8 135.4,239.8 107.4,301.4 92.2,307.0 172.1,212.1 193.4,196.6 88.4,307.0 123.7,275.6 122.4,267.2 157.1,226.9 166.0,222.7 138.2,246.0 206.9,188.2 135.4,248.3 122.8,279.0 189.4,199.0 202.1,184.2 209.5,183.8 103.6,277.8 107.6,274.2 145.7,239.6 246.2,142.6 168.3,220.0 168.7,223.5 126.2,253.4 285.0,106.5 105.5,280.3 159.5,227.2 176.1,213.3 196.4,190.6 197.0,185.0 134.8,249.2 118.2,280.0 261.9,125.2 158.6,221.5 119.8,262.7 99.2,267.8 195.2,184.4 203.4,185.5 161.0,223.3 134.4,239.5 173.9,203.3 262.5,124.3 162.2,214.2 192.6,195.3 210.5,177.6 187.9,209.4 149.1,233.7 104.9,273.6 179.2,210.0 200.2,188.1 242.1,147.0 101.2,290.5 95.7,302.7 170.5,218.2 199.4,188.8 90.3,305.3 167.4,212.7 117.5,279.0 305.4,87.1 131.2,244.8 91.1,304.0 191.9,198.7 122.5,255.1 139.4,252.6 98.1,295.1 126.8,268.8 98.5,279.8 116.3,274.5 162.3,229.3 122.2,265.9 175.0,214.5 215.3,171.5 162.0,220.7 83.5,307.0 239.6,149.3 107.7,287.2 129.0,249.6 154.8,239.2 168.0,211.3 128.4,252.3 142.5,246.3 169.2,207.2 144.9,239.1 120.0,273.9 138.2,246.9 134.5,256.4 121.2,271.5 165.4,230.6 152.8,231.1 138.3,252.0 181.0,213.4 196.8,193.1 172.3,215.6 128.3,251.8 227.0,162.5 94.3,302.4 195.6,188.4 139.7,241.1 136.2,250.7 202.4,182.1 173.3,205.2 253.1,130.9 209.6,176.8 96.0,307.0 151.5,238.8 189.5,192.6 91.2,307.0 157.1,236.9 290.1,97.5 113.6,278.0 96.1,282.3 120.8,254.2 128.7,245.8 120.3,262.7 141.3,246.0 200.5,191.6 153.5,224.0 163.8,221.9 95.0,292.7 88.7,307.0 233.8,157.1 129.1,256.2 231.8,156.6 127.5,275.2 171.0,222.8 174.2,210.9 92.3,307.0 89.5,296.8 142.7,253.2 97.6,287.1 121.8,268.7 107.4,295.4 124.2,250.5 144.7,231.4 124.0,278.9 127.4,269.3 149.0,225.4 177.2,216.9 85.4,307.0 301.1,90.4 141.1,241.0 221.9,168.2 80.4,307.0 87.6,307.0 93.6,300.7 218.6,174.6 138.4,234.8 203.0,185.3 178.9,207.0 92.0,302.4 131.2,262.8 126.9,276.2 144.3,238.8 187.4,214.3 91.4,289.7 223.1,164.5 147.7,235.7 131.8,243.9 179.3,220.1 119.0,284.0 181.5,204.2 139.0,258.1 147.9,247.1 106.5,276.7 108.5,270.1 206.0,183.0 162.0,224.7 139.9,255.0 190.6,198.8 218.4,175.2 102.1,294.1 302.3,88.2 81.4,303.2 167.3,211.3 117.2,293.6 115.5,287.1 150.3,228.5 165.9,223.3 142.0,243.4 181.7,199.9 233.4,154.5 103.6,283.3 113.4,268.3 166.7,225.8 138.2,261.0 124.6,272.3 151.7,225.0 179.2,217.8 217.4,175.3 228.8,158.2 198.0,191.7 129.0,259.0 211.0,176.1 181.1,206.1 104.4,294.0 235.1,154.3 114.8,273.0 177.1,208.4 178.9,203.4 217.3,173.5 174.9,209.1 268.2,120.4 87.9,300.9 84.8,306.6 107.4,271.3 161.8,223.4 140.1,246.0 91.2,296.7 108.3,293.8 162.4,232.6 137.0,248.2 188.9,207.5 146.3,252.6 209.5,176.5 188.2,205.1 150.2,228.2 130.7,252.1 110.0,277.5 121.2,267.8 130.3,259.6 131.1,264.4 105.0,292.5 147.2,227.6 95.4,285.2 207.5,183.3 158.2,225.9 93.0,295.8 126.3,250.1 116.0,281.8 101.8,279.0 148.2,242.6 105.6,296.8 101.1,300.5 180.0,206.1 140.9,236.3 175.7,213.1 146.7,228.0 151.6,237.3 123.9,279.2 140.5,232.6 148.3,236.5 128.4,247.4 199.2,196.0 114.7,271.6 111.0,290.4 128.7,249.6 192.3,198.9 203.2,189.2 160.3,215.5 131.1,253.8 172.3,212.4 199.3,194.3 114.2,269.0 175.0,215.4 181.1,206.0 135.3,252.1 100.1,303.9 166.4,220.7 109.5,293.6 132.1,257.0 157.4,231.0 241.9,150.0 100.4,293.9 89.9,307.0 156.6,241.1 229.8,159.6 86.0,292.6 171.4,225.7 83.3,307.0 158.3,224.3 96.5,305.5 173.8,218.1 131.1,246.9 173.2,207.9 116.4,289.2 90.1,296.0 105.4,302.9 118.6,288.4 103.0,301.6 107.8,282.1 157.3,225.9 142.1,256.1 199.1,191.8 150.7,244.1 156.7,232.1 181.1,206.3 204.4,169.1 163.2,219.5 84.7,299.9 145.2,228.3 84.0,303.9 166.0,228.8 88.7,300.9 156.7,232.3 100.9,296.4 204.8,188.4 92.9,307.0 173.9,203.9 180.2,205.8 118.8,290.2 164.3,228.0 126.6,264.7 116.5,261.4 116.6,268.2 81.7,307.0 175.8,208.2 89.7,293.3 107.6,272.2 91.8,285.1 195.4,189.3 155.2,225.8 146.3,227.1 163.0,219.2 196.1,194.5 168.8,214.5 152.9,229.8 124.2,285.1 153.4,235.8 277.5,117.6 161.0,225.6 147.7,234.3 212.0,173.6 87.2,283.2 88.4,307.0 192.9,198.0 229.3,163.4 86.7,307.0 82.8,293.7 80.8,295.5 162.0,224.4 99.1,304.0 159.8,234.1 174.5,214.7 81.6,296.3 207.8,186.7 115.6,278.4 158.7,218.8 130.1,260.1 128.6,260.5 137.2,248.6 79.9,307.0 140.8,257.2 117.4,291.3 130.6,269.2 102.7,290.1 127.4,253.6 179.6,202.7 269.5,123.6 107.6,294.2 207.1,185.5 167.5,216.7 93.9,307.0 81.5,307.0 211.0,181.7 112.9,285.9 94.6,287.8 173.3,225.0 180.6,207.5 213.7,168.7 151.1,235.7 124.1,257.6 125.0,266.1 108.7,285.8 170.4,225.5 229.4,159.5 91.5,300.5 134.8,248.6 129.8,265.9 90.9,307.0 164.6,232.0 267.9,120.1 119.0,276.3 183.6,209.4 215.2,173.4 118.2,292.3 220.6,169.0 186.6,206.4 171.9,220.8 107.2,298.7 119.1,260.5 93.9,290.9 213.9,175.4 196.2,196.8 91.8,307.0 155.5,241.4 109.9,272.4 189.2,197.0 161.5,224.2 230.9,158.4 183.6,205.3 93.8,307.0 132.8,263.2 161.9,232.2 218.4,164.5 132.5,252.2 106.3,296.7 120.0,269.2 114.9,269.0 101.5,295.7 128.7,264.8 115.1,290.1 152.5,237.1 213.5,181.5 235.8,149.9 102.2,288.2 161.0,219.9 175.9,220.4 101.2,299.8 155.6,231.6 108.0,298.6 131.5,261.1 125.8,257.1 197.2,184.7 112.9,288.4 156.8,234.9 163.3,220.1 126.6,246.4 224.2,166.1 127.0,261.5 126.1,276.5 178.6,212.7 149.3,235.0 183.2,211.4 101.3,282.1 100.6,297.4 184.8,212.1 135.0,259.0 205.1,190.1 112.8,289.0 113.8,294.9 206.4,175.9 131.2,264.5 95.1,305.0 110.9,285.9 189.8,206.0 117.4,265.6 159.0,228.5 200.8,189.2 166.8,231.0 187.3,212.2 257.4,128.8 122.3,268.2 209.2,180.5 158.3,218.5 108.2,276.6 98.3,284.5 126.4,262.6 99.1,282.0 190.1,192.5 159.2,218.4 85.7,299.7 209.7,183.3 164.8,225.3 142.8,237.8 99.6,295.2 146.7,239.4 220.1,166.0 163.1,219.0 145.2,230.4 166.5,223.4 158.3,234.8 168.7,212.7 107.9,292.4 100.7,307.0 81.2,294.1 200.2,186.6 79.8,307.0 116.1,258.5 163.2,229.4 151.0,223.5 215.4,180.8 109.9,290.5 95.7,281.7 102.4,302.0 150.7,229.8 121.1,259.3 144.6,248.5 177.9,220.2 125.4,260.0 174.7,221.9 82.2,307.0 157.6,236.5 217.0,166.2 226.0,164.9 161.3,224.4 268.1,117.4 113.1,290.9 122.0,268.3 143.6,244.0 152.3,222.1 198.0,194.1 143.5,246.8 86.3,307.0 179.7,221.5 111.3,290.6 210.6,179.1 109.8,296.7 121.8,262.2 99.0,297.7 122.7,266.4 165.5,199.6 117.7,275.3 86.3,307.0 163.4,229.4 184.7,196.4 95.0,307.0 140.2,233.3 89.2,301.5 81.8,303.6 133.0,255.1 120.4,273.2 209.0,184.7 81.3,307.0 172.0,217.9 184.5,198.1 139.1,248.1 151.1,245.8 114.8,263.6 115.5,281.2 87.0,295.2 216.6,173.6 83.5,307.0 99.0,290.6 183.1,199.9 144.9,241.4 152.7,238.5 121.6,272.1 102.5,281.9 194.5,189.7 97.1,281.2 121.8,250.7 187.1,197.2 122.1,276.3 234.0,153.7 104.5,272.4 155.0,231.8 156.5,235.0 151.1,227.5 190.6,197.5 86.0,302.9 157.6,227.3 193.0,189.0 86.6,302.1 157.7,237.8 142.5,255.4 137.3,237.6 156.4,219.4 168.9,221.0 180.2,203.2 214.6,171.7 173.4,206.5 304.7,84.8 174.6,219.6 117.9,284.4 100.5,300.2 89.5,299.4 117.8,284.1 96.5,298.1 177.3,206.8 178.2,203.2 167.1,225.1 134.2,261.9 145.8,248.9 116.6,277.0 220.5,169.4 81.7,307.0 125.3,271.9 161.4,214.1 105.3,276.3 204.5,183.0 148.2,232.8 132.5,259.5 88.4,306.0 119.7,270.0 163.9,221.8 119.7,284.8 85.9,297.0 162.4,220.6 122.9,254.0 203.0,185.7 178.5,211.2 182.7,199.9 212.5,170.9 196.4,189.3 126.6,270.7 160.9,217.8 116.5,291.4 108.3,275.5 108.9,291.1 95.3,296.8 113.6,267.0 111.6,266.1 175.7,212.9 115.4,280.5 86.1,292.3 139.8,237.5 108.2,290.9 178.1,205.5 111.1,277.9 159.2,228.7 104.6,303.8 148.5,244.9 207.2,182.6 122.8,284.8 154.9,233.1 142.2,250.8 89.4,307.0 82.3,307.0 202.2,185.6 128.1,259.2 177.7,212.9 138.5,253.7 201.4,188.0 107.3,300.3 148.7,225.4 157.9,227.9 193.6,197.3 83.6,307.0 131.3,248.0 147.5,231.4 163.7,230.3 99.7,303.1 157.3,230.5 178.7,209.1 184.4,195.9 111.5,279.3 142.5,239.7 122.1,257.8 134.9,256.0 131.4,264.7 230.7,154.9 81.3,307.0 232.0,157.6 84.1,305.4 90.5,295.6 108.9,304.2 120.5,259.2 205.2,179.8 202.0,179.5 226.1,162.3 135.2,258.5 81.7,307.0 169.0,207.6 214.8,172.1 94.8,303.7 199.5,190.5 79.6,304.0 184.3,203.5 150.1,242.4 217.3,171.3 208.9,172.3 86.0,307.0 150.8,235.6 114.1,296.2 142.3,253.0 88.9,300.1 131.0,259.6 137.9,243.7 79.9,307.0 147.4,231.4 213.6,174.8 88.1,307.0 230.6,152.9 149.5,225.6 109.6,278.8 247.7,139.0 147.2,239.9 142.0,247.9 133.3,243.3 210.4,180.7 98.0,307.0 109.5,300.4 120.0,289.8 88.3,307.0 202.5,183.9 149.4,235.3 165.6,218.0 211.3,181.5 150.3,241.5 119.0,290.5 155.5,221.3 151.1,238.9 122.2,265.5 112.6,282.3 130.6,250.5 184.7,203.3 103.1,291.5 297.6,87.6 113.1,271.4 118.4,291.1 97.0,302.6 135.5,260.8 132.7,243.2 177.1,214.9 214.0,169.6 114.9,285.8 196.3,183.5 123.6,257.9 137.7,255.7 97.8,307.0 213.1,177.8 132.9,257.4 179.8,206.4 83.2,296.2 179.3,216.3 111.8,278.4 144.1,255.4 175.9,215.9 103.8,299.1 154.9,237.3 201.0,186.8 102.8,289.5 146.4,240.2 105.8,273.9 99.9,307.0 149.6,237.0 144.8,240.5 171.6,220.5 205.2,182.1 180.6,210.6 127.6,252.5 149.0,231.5 175.9,215.4 201.5,187.1 177.2,213.9 151.4,233.4 98.5,287.7 207.4,180.8 119.7,284.8 137.4,238.0 211.1,183.6 109.1,282.1 219.0,174.5 112.2,284.7 91.9,300.0 153.0,243.2 193.9,191.5 137.0,255.6 202.3,190.8 136.2,254.6 197.2,183.4 95.5,282.2 120.0,259.5 96.9,285.6 185.3,212.9 146.7,240.1 173.3,214.2 113.5,273.5 184.6,202.9 290.1,96.6 90.7,307.0 125.1,249.4 207.7,180.1 204.0,181.2 208.3,178.2 111.8,272.7 160.1,225.9 91.7,307.0 141.1,236.4 161.9,220.2 116.4,269.4 139.9,259.2 131.8,252.6 91.5,291.9 89.2,291.0 191.6,193.9 79.8,307.0 274.9,115.0 214.3,170.1 277.6,111.3 192.3,199.4 79.7,300.0 96.0,299.8 125.0,271.6 105.4,291.6 88.0,295.4 219.9,173.5 217.9,176.7 189.4,208.6 115.6,277.0 204.1,179.1 198.0,197.1 125.7,274.1 97.7,306.4 98.8,287.7 138.0,241.3 200.3,186.7 90.3,297.1 140.9,257.3 130.2,265.1 213.0,181.7 101.3,289.8 173.3,221.8 125.7,256.4 172.0,210.4 198.5,184.4 198.9,191.4 202.8,191.1 121.3,283.6 118.9,267.9 97.0,302.9 116.0,281.2 96.5,305.2 192.1,187.5 86.2,307.0 106.8,284.1 193.1,197.4 189.6,207.5 252.6,135.8 134.3,243.1 85.8,306.9 196.1,195.4 120.4,276.8 190.4,197.7 82.2,296.6 84.4,307.0 165.1,226.0 177.4,203.4 159.9,227.1 155.6,238.9 164.9,225.2 98.1,288.0 88.5,303.6 129.4,261.3 157.9,235.1 115.0,285.3 105.0,291.6 143.3,230.4 138.1,254.4 117.9,271.3 223.3,167.8 229.7,161.4 86.1,294.2 148.2,227.0 113.4,279.7 127.5,269.8 83.5,306.3 90.9,299.1 84.2,303.1 97.4,307.0 172.4,219.5 90.6,294.5 211.5,178.3 195.1,194.7 118.0,279.1 178.5,219.2 234.3,153.0 96.0,282.8 159.6,235.6 146.1,233.1 123.8,268.9 120.6,264.0 91.8,307.0 172.1,221.8 107.7,279.9 139.9,254.3 223.7,167.6 129.3,262.5 124.7,278.2 225.3,165.3 163.0,232.6 161.1,222.2 111.2,283.9 171.2,214.4 133.7,247.2 157.3,223.4 136.4,263.8 91.0,295.7 209.5,174.3 178.5,211.5 238.5,152.4 123.3,278.3 119.7,258.4 98.8,288.6 123.2,265.1 126.0,273.0 105.7,292.2 117.3,266.9 121.5,268.6 205.3,184.7 143.3,252.6 198.1,187.6 86.5,307.0 106.4,278.0 234.8,154.7 86.6,300.2 89.3,296.2 153.6,233.9 120.9,271.7 107.2,279.5 166.6,214.4 166.6,225.2 106.3,294.5 156.6,233.5 144.5,247.2 203.0,191.3 89.2,307.0 112.8,285.6 160.3,230.2 84.2,307.0 202.8,190.7 246.8,141.4 126.4,250.9 190.6,195.2 115.1,291.7 232.2,154.6 109.7,300.7 80.2,307.0 89.2,307.0 145.1,235.1 84.9,307.0 263.0,128.3 169.8,213.9 160.9,239.6 169.1,228.0 139.3,259.9 211.4,175.5 181.5,202.1 141.0,235.1 120.1,271.7 100.1,294.0 124.5,265.0 130.0,251.5 90.9,307.0 222.6,169.1 116.3,259.0 156.8,225.0 88.9,307.0 158.5,227.0 171.9,211.9 90.8,293.1 255.5,133.6 102.8,280.5 117.0,266.2 184.9,201.4 127.6,273.5 209.3,179.2 113.5,282.2 124.4,255.7 178.6,219.9 205.7,182.7 210.9,180.0 120.7,274.3 155.5,219.4 138.2,240.3 176.2,204.3 112.0,269.1 201.6,194.1 181.6,203.5 104.4,274.1 124.4,257.1 127.5,267.6 224.4,166.2 144.7,237.5 167.7,216.1 224.7,165.1 136.2,252.5 231.2,158.0 121.2,276.8 81.2,298.7 94.1,303.3 178.6,201.8 134.0,245.0 200.6,191.1 155.7,232.5 177.6,204.9 129.9,244.6 163.5,218.5 179.4,209.7 133.4,253.1 149.7,239.1 202.4,184.3 224.1,163.0 129.6,253.5 89.0,307.0 202.2,188.2 143.5,249.1 247.9,144.5 188.8,202.6 132.1,264.1 203.7,186.6 157.9,229.8 181.6,221.1 211.2,171.6 162.5,227.3 231.8,158.4 136.5,251.5 133.6,246.9 171.1,218.6 137.4,252.5 180.7,209.3 155.5,227.8 185.7,210.3 199.1,191.6 160.7,223.4 219.1,175.3 191.6,201.8 205.1,184.2 82.2,307.0 81.6,307.0 170.3,225.8 127.1,272.1 208.5,184.6 135.5,239.2 186.0,204.9 114.6,271.4 169.6,211.8 215.2,173.3 206.1,187.1 131.9,252.7 148.4,237.7 156.1,225.0 128.7,264.3 148.7,250.1 243.5,145.7 210.0,183.2 124.4,280.7 177.4,214.9 232.4,153.4 131.3,268.0 203.4,181.2 194.2,199.6 211.6,172.9 91.5,307.0 221.9,166.8 264.1,125.8 114.0,296.3 170.1,228.5 92.3,307.0 165.7,210.6 180.9,212.2 186.2,205.7 205.1,181.5 121.4,291.8 96.0,296.0 197.6,194.2 83.1,307.0 112.8,276.0 113.3,274.5 190.7,206.4 142.7,245.0 201.3,191.9 175.1,218.2 202.3,189.4 192.4,198.4 210.1,178.2 118.9,283.4 130.3,270.2 169.4,221.2 162.9,225.8 191.1,194.0 196.1,188.9 123.1,272.5 96.7,291.9 185.6,195.6 177.8,210.7 119.1,278.1 87.5,298.4 82.7,307.0 114.9,262.5 118.6,279.3 109.1,296.7 86.6,307.0 103.8,307.0 129.5,251.8 92.6,297.8 109.0,292.7 142.1,248.7 203.3,185.5 208.1,180.9 137.4,254.1 97.4,307.0 118.0,268.9 176.1,217.3 137.7,244.6 161.1,218.9 184.9,198.9 173.8,211.4 205.6,185.0 91.7,307.0 121.9,259.0 84.3,296.0 154.0,221.4 167.4,213.7 115.8,294.7 87.3,307.0 145.8,249.6 103.4,283.0 107.3,299.7 134.0,244.9 230.7,157.6 131.0,247.6 181.0,211.1 132.7,263.6 137.4,243.3 99.5,285.9 105.8,272.4 190.0,200.7 140.9,254.7 120.3,255.7 277.1,112.8 209.6,174.6 117.3,273.2 141.6,235.7 160.6,232.9 103.2,295.5 140.6,246.1 120.1,260.6 196.4,188.4 92.9,295.9 287.1,101.8 113.1,264.2 126.8,275.5 90.2,302.8 218.7,172.6 199.6,181.5 89.1,300.6 155.1,234.1 135.3,251.8 166.2,230.3 127.5,265.3 237.1,151.5 110.6,299.8 198.1,185.5 117.7,282.6 172.4,216.6 140.7,248.2 154.7,228.1 154.2,221.9 169.1,212.4 89.1,307.0 87.9,305.5 249.6,141.0 115.6,279.0 130.5,268.2 113.7,274.3 171.9,213.8 269.8,122.7 137.1,248.7 125.4,248.7 129.5,261.8 83.3,301.1 92.3,307.0 86.3,293.1 125.8,268.7 270.8,117.7 99.6,298.5 158.0,230.7 109.1,295.3 84.7,305.2 201.2,190.4 97.6,286.4 98.7,300.7 197.6,187.6 114.3,285.0 107.9,268.7 229.8,159.9 107.2,286.8 200.2,196.0 123.3,262.8 160.4,220.3 123.9,260.2 128.0,256.6 225.3,160.8 217.2,169.3 104.4,307.0 183.2,211.8 99.4,287.1 122.3,280.6 89.5,306.5 172.2,215.0 183.5,208.3 186.3,200.8 190.6,202.0 135.9,263.3 104.8,279.6 80.0,307.0 142.5,245.3 225.6,166.3 143.7,232.1 167.6,213.3 219.9,172.6 206.2,184.5 185.4,195.2 164.2,220.1 112.6,269.0 186.7,201.8 139.2,252.1 180.6,208.4 111.4,290.2 228.7,162.0 102.9,290.9 193.2,205.1 212.5,180.8 101.2,307.0 206.7,179.2 171.7,217.7 165.9,224.0 115.8,270.2 126.4,260.2 113.1,267.2 142.6,242.1 172.2,224.5 183.8,184.8 180.5,202.1 129.1,257.1 127.5,250.5 188.9,208.8 253.1,136.1 111.1,276.4 138.5,238.4 118.9,271.0 254.1,133.8 81.7,303.5 213.0,172.3 189.5,209.3 126.9,264.7 176.9,220.7 132.3,262.1 170.6,224.8 140.3,251.6 219.3,166.5 144.9,242.6 196.8,194.5 161.9,215.8 132.7,256.8 245.4,146.1 107.4,286.4 217.3,171.4 264.6,125.0 203.5,187.2 166.8,228.4 168.6,227.9 223.8,159.9 141.4,245.9 198.9,193.7 190.6,190.2 205.4,183.1 142.5,246.6 172.9,203.9 92.6,307.0 89.7,307.0 94.8,286.6 184.7,204.2 130.3,263.5 217.3,167.8 90.7,288.3 104.1,297.1 201.1,188.8 139.3,236.0 111.0,286.6 191.6,198.9 113.0,272.7 252.6,134.7 118.8,268.7 205.4,190.2 148.1,236.5 226.4,162.7 121.8,265.6 222.7,158.1 122.8,265.1 143.6,243.3 170.0,212.9 158.8,229.7 175.5,213.2 179.1,209.5 117.8,280.8 80.6,307.0 183.0,196.7 165.4,219.7 160.1,217.0 150.4,234.1 223.8,164.1 121.9,267.5 218.4,167.4 103.4,285.5 178.9,211.8 229.1,156.5 101.5,306.6 189.9,190.9 118.5,283.3 87.8,294.1 141.2,233.7 179.5,208.9 120.0,288.0 233.4,155.1 79.7,307.0 117.7,285.1 128.3,249.0 132.5,257.4 122.3,269.5 82.4,307.0 109.5,301.0 116.9,276.7 175.7,208.6 133.4,241.4 182.9,197.8 142.8,249.9 128.2,269.9 102.2,293.4 112.1,286.1 215.4,167.9 144.6,247.9 124.3,233.0 110.7,279.2 209.3,186.2 180.3,218.5 178.9,212.8 195.5,188.5 114.0,280.4 184.1,198.4 89.6,307.0 174.6,207.2 125.5,266.1 174.2,206.3 111.9,297.1 130.0,255.8 175.4,222.8 228.2,160.1 128.2,263.3 103.6,289.2 97.2,295.7 175.6,211.9 213.5,177.6 81.8,294.5 128.8,255.8 103.6,295.2 236.0,158.4 98.3,289.9 89.2,303.2 189.6,206.5 304.7,84.6 190.5,188.3 95.8,293.6 137.8,254.0 153.9,234.3 214.7,174.0 187.4,196.6 88.0,299.5 144.3,244.4 191.2,190.6 157.2,238.4 174.9,203.4 246.1,138.3 260.1,126.0 201.2,182.7 161.3,245.8 123.4,250.4 102.3,298.9 103.4,304.5 171.1,218.4 190.3,198.0 205.4,184.9 219.0,171.9 120.6,290.9 127.3,260.1 107.5,300.1 157.3,221.7 231.5,154.8 188.0,200.0 142.0,232.4 102.2,298.4 202.3,179.2 214.0,175.9 189.6,193.4 121.2,273.4 135.3,262.5 163.0,219.4 220.2,165.7 114.2,299.0 139.5,250.6 88.0,301.5 79.8,305.2 114.2,268.1 196.2,188.3 176.1,215.4 147.7,233.0 138.1,245.4 117.3,296.3 189.3,199.2 149.3,235.3 89.4,307.0 169.2,217.7 290.9,100.7 89.8,281.3 300.0,94.3 93.6,304.8 123.5,266.1 256.7,134.2 250.9,138.1 105.8,297.0 182.6,203.1 167.2,217.9 136.4,257.7 192.0,196.2 170.3,224.5 111.6,276.9 149.6,245.1 181.0,219.4 168.4,216.5 157.2,225.6 185.0,194.4 98.7,296.6 85.5,298.2 84.1,307.0 168.3,208.1 141.6,236.8 201.0,180.1 250.3,143.1 95.4,307.0 133.7,251.6 139.5,234.5 157.7,224.9 217.7,170.3 165.3,216.1 123.1,259.7 174.4,212.4 126.5,262.8 158.9,224.1 93.5,307.0 160.2,231.4 147.9,233.2 171.9,223.9 160.6,237.0 161.4,225.4 185.0,200.9 98.5,307.0 187.1,203.8 168.7,224.3 178.0,207.8 136.6,243.4 91.6,292.9 221.6,166.2 199.3,189.9 256.1,130.1 145.3,240.2 211.2,175.9 208.1,178.7 158.2,231.3 215.2,177.6 197.2,183.5 94.1,294.9 98.6,289.3 137.7,244.8 155.7,230.2 172.9,214.7 160.2,236.7 209.2,183.4 194.8,195.6 94.1,297.2 128.0,248.2 211.9,174.6 187.6,205.4 81.6,307.0 169.2,220.2 97.5,282.6 151.5,232.5 293.1,93.6 90.2,295.8 198.7,193.9 148.7,242.5 260.3,125.5 205.6,178.4 88.7,307.0 171.5,220.6 205.8,180.0 119.4,279.5 180.4,212.1 115.8,279.3 108.8,275.6 127.0,259.5 121.4,266.5 241.7,143.7 113.1,269.8 140.2,252.1 149.0,233.6 178.4,217.0 248.6,140.8 167.3,221.5 205.8,190.6 98.2,281.6 174.1,223.3 104.1,299.9 208.1,177.3 164.7,223.6 98.9,290.4 203.7,185.7 154.6,243.9 149.0,229.7 91.0,307.0 216.9,171.9 153.0,241.0 206.6,182.6 90.2,305.4 176.8,210.9 133.2,246.9 156.3,230.6 168.8,217.6 199.1,194.3 222.0,165.4 103.3,299.1 205.6,184.4 96.1,291.1 80.9,307.0 122.5,273.1 120.2,271.6 190.0,198.3 159.7,232.5 135.0,248.2 193.1,198.8 226.6,159.4 171.3,211.8 172.9,215.1 206.0,185.6 121.3,264.1 297.1,94.9 104.6,295.6 85.9,307.0 198.7,193.0 104.4,284.5 127.4,256.4 152.9,225.6 95.3,304.7 140.1,249.2 130.1,253.2 91.7,307.0 165.8,213.7 144.0,228.6 102.3,307.0 192.7,196.5 138.1,241.8 83.1,307.0 209.9,175.6 138.0,240.2 92.5,296.1 120.8,292.4 115.9,293.4 85.7,299.5 126.8,244.6 103.5,298.8 110.0,265.6 176.0,223.0 102.1,280.7 82.5,307.0 105.0,296.9 121.7,281.2 103.0,276.5 165.0,222.7 210.0,182.7 200.0,196.1 146.8,229.9 192.3,197.1 193.1,192.5 170.3,216.1 195.1,184.9 133.6,262.6 186.6,196.0 154.3,221.0 185.2,206.2 185.3,197.1 88.8,301.7 200.6,195.6 84.6,303.8 140.6,250.9 164.1,217.4 198.7,184.5 87.6,307.0 175.6,224.6 128.8,270.6 85.3,307.0 127.0,255.9 171.2,213.1 91.3,307.0 203.3,183.1 85.5,307.0 113.6,287.7 126.6,271.3 88.6,304.8 222.8,168.3 245.0,144.8 216.4,172.4 107.9,289.7 200.5,180.5 127.8,265.9 120.8,263.7 178.2,204.6 91.6,285.7 80.2,302.6 224.7,161.6 130.1,267.7 193.8,191.9 140.4,240.5 92.7,307.0 147.4,240.4 103.9,280.1 91.0,304.3 82.1,302.5 136.8,252.7 116.4,286.0 127.5,255.3 241.1,146.6 199.8,192.4 180.5,213.4 114.3,282.3 186.8,208.0 179.4,203.6 155.0,238.0 113.6,283.3 109.2,269.9 139.5,227.2 119.0,259.3 211.2,176.6 79.5,293.6 79.5,300.6 79.5,301.4 79.5,278.6 79.5,303.5 79.5,303.2 79.5,305.2 79.5,293.3 79.5,298.2 79.5,297.7 79.5,298.8 79.5,305.9 79.5,301.5 79.5,302.9 79.5,300.7 79.5,300.3 79.5,306.1 79.5,298.2 79.5,306.2 79.5,296.0 79.5,292.0 79.5,291.4 79.5,298.2 79.5,293.1 79.5,296.8 79.5,305.6 79.5,303.0 79.5,306.8 79.5,292.5 79.5,292.8 79.5,303.4 79.5,301.8 79.5,296.3 79.5,286.5 79.5,297.1 79.5,297.1 79.5,306.5 79.5,299.6 79.5,303.9 79.5,303.8 79.5,291.5 79.5,300.5 79.5,306.8 79.5,303.2 79.5,301.3 79.5,303.1 79.5,306.3 79.5,301.7 79.5,304.8 79.5,300.2 79.5,298.5 79.5,301.8 79.5,300.5 79.5,300.6 79.5,302.0 79.5,306.9 79.5,283.2 79.5,299.2 79.5,301.7 79.5,301.6 79.5,298.0 79.5,303.9 79.5,298.1 79.5,301.1 79.5,291.6 79.5,295.1 79.5,295.3 79.5,291.8 79.5,294.6 79.5,301.4 79.5,288.5 79.5,303.1 79.5,305.2 79.5,294.6 79.5,293.5 79.5,306.0 79.5,303.0 79.5,302.6 79.5,306.5 79.5,298.5 79.5,299.3 79.5,306.4 79.5,295.6 79.5,292.6 79.5,298.3 79.5,301.9 79.5,299.7 79.5,280.7 79.5,305.0 79.5,305.6 79.5,301.2 79.5,294.6 79.5,301.4 79.5,301.6 79.5,300.2 79.5,297.7 79.5,300.9 79.5,305.0 79.5,293.5 79.5,296.8 79.5,305.8 79.5,305.8 79.5,300.2 79.5,303.1 79.5,296.7 79.5,297.8 79.5,296.4 79.5,304.4 79.5,304.8 79.5,296.4 79.5,284.3 79.5,279.8 79.5,286.0 79.5,288.5 79.5,270.9 79.5,286.2 79.5,278.1 79.5,282.9 79.5,288.0 79.5,279.1 79.5,264.9 79.5,273.5 79.5,271.3 98.6,307.0 92.6,307.0 95.2,307.0 134.8,307.0 81.2,307.0 99.4,307.0 109.1,307.0 105.9,307.0 133.3,307.0 142.9,307.0 130.8,307.0 105.5,307.0 99.1,307.0 87.4,307.0 105.2,307.0 89.5,307.0 96.4,307.0 85.7,307.0 101.3,307.0 89.7,307.0 81.5,307.0 113.3,307.0 98.4,307.0 89.1,307.0 115.9,307.0 140.4,307.0 117.6,307.0 95.5,307.0 93.4,307.0 129.4,307.0 100.4,307.0 87.1,307.0 79.9,307.0 126.6,307.0 95.4,307.0 107.8,307.0 87.9,307.0 95.3,307.0 80.5,307.0 97.1,307.0 130.4,307.0 85.7,307.0 96.7,307.0 112.6,307.0 85.1,307.0 88.3,307.0 83.3,307.0 79.6,307.0 83.8,307.0 86.1,307.0 99.6,307.0 82.8,307.0 80.3,307.0 104.3,307.0 80.1,307.0 98.3,307.0 100.3,307.0 81.0,307.0 100.5,307.0 135.7,307.0 100.1,307.0 113.7,307.0 104.6,307.0 92.4,307.0 123.8,307.0 92.7,307.0 84.4,307.0 93.4,307.0 103.0,307.0 81.8,307.0 90.5,307.0 94.2,307.0 92.2,307.0 97.8,307.0 86.7,307.0 111.4,307.0 101.5,307.0 79.7,307.0 85.5,307.0 85.5,307.0 84.7,307.0 114.3,307.0 100.7,307.0 107.9,307.0 105.6,307.0 122.2,307.0 97.0,307.0 80.9,307.0 92.6,307.0 82.1,307.0 150.1,307.0 142.4,307.0 111.7,307.0 128.9,307.0 150.0,307.0 121.8,307.0 137.5,307.0 127.2,307.0 116.8,307.0 156.7,307.0 117.2,307.0 137.7,307.0 138.1,307.0 144.6,307.0 140.4,307.0 143.0,307.0 160.1,307.0 160.9,307.0 140.7,307.0 126.3,307.0 154.7,307.0 146.4,307.0 157.0,307.0 123.7,307.0 109.2,307.0 129.8,307.0 130.6,307.0 135.5,307.0 158.9,307.0 151.3,307.0 152.1,307.0 144.9,307.0 117.6,307.0 119.3,307.0 133.6,290.9 126.6,289.7 141.5,263.0 126.4,283.3 118.1,302.0 136.7,268.1 145.6,261.1 135.4,272.1 129.7,279.4 132.9,280.9 124.9,289.5 135.1,273.0 131.1,283.7 168.6,233.1 159.4,250.8 128.1,277.5 128.0,282.4 135.2,288.6 157.8,242.8 125.5,302.0 157.4,251.6 137.3,269.3 136.4,270.1 139.3,286.1 128.3,279.4 117.6,302.8 148.4,257.9 141.4,283.2 160.7,259.2 157.6,246.7 159.9,253.4 130.4,281.1 132.2,287.4 133.3,281.2 129.3,274.4 140.3,261.8 142.6,279.3 150.8,263.6 122.9,299.7 130.7,278.1 119.7,299.5 128.1,291.0 123.0,300.4 146.2,268.8 119.7,303.3 170.3,251.7 124.0,302.0 127.7,292.8 152.0,287.4 147.5,269.6 154.8,247.5 128.9,275.1 124.8,285.6 143.7,262.3 130.0,275.4 141.7,269.7 122.8,303.6 128.2,278.7 127.6,281.0 134.1,275.7 127.4,281.2 131.9,270.8 129.4,295.8 150.7,254.7 149.2,255.8 125.0,296.4 157.4,243.2 137.9,270.5 141.8,263.2 121.9,297.0 133.7,270.5 120.4,300.2 136.7,275.8 142.2,262.2 138.9,265.3 126.0,293.7 155.4,263.3 151.5,254.5 172.4,228.8 143.3,265.1 145.3,266.8 127.7,294.8 143.4,261.3 140.9,260.5 128.5,278.5 147.0,266.2 135.7,272.1 141.6,279.6 127.3,296.6 168.7,238.5 120.2,298.6 154.6,254.6 156.7,246.4 148.7,252.9 146.5,256.2 120.4,301.0 128.1,281.8 145.9,277.1 151.9,255.2 142.1,261.6 126.0,282.0 123.7,297.1 142.8,259.3 127.0,279.3 147.2,258.2 136.2,274.9 136.4,265.9 162.7,237.1 126.2,294.2 140.0,267.6 155.6,253.7 129.6,275.5 149.3,257.0 129.5,276.6 132.5,272.1 139.0,273.6 142.4,260.5 130.0,282.2 162.7,258.6 133.3,270.0 148.7,267.9 174.0,227.3 153.6,247.5 121.8,294.5 144.4,264.8 128.3,276.0 134.3,269.0 132.1,273.8 143.6,270.9 137.6,273.4 163.7,238.1 133.5,278.6 164.0,237.5 142.0,264.4 149.2,261.1 126.3,282.6 126.2,287.8 131.1,275.6 149.9,266.8 142.5,278.7 148.6,253.3 149.2,252.2 146.6,258.2 132.4,277.1 138.6,270.2 130.1,277.3 142.0,285.9 150.4,256.1 132.3,283.7 123.6,288.0 147.5,257.7 136.3,277.8 148.4,254.3 156.0,262.8 135.8,282.7 146.7,255.9 139.0,269.0 126.6,283.0 134.4,274.2 132.0,271.2 134.8,272.1 130.0,276.1 133.3,276.4 158.0,250.7 133.5,290.7 124.3,298.6 127.5,279.5 163.3,238.8 129.6,273.6 138.0,275.6 162.8,242.1 143.4,275.1 132.8,285.2 144.3,262.4 146.7,268.7 140.7,267.0 127.0,283.8 135.4,275.6 151.0,250.6 123.7,292.7 151.2,251.7 137.9,263.5 114.1,302.7 165.2,235.9 127.3,286.4 125.3,286.0 143.4,266.8 129.9,274.9 144.1,268.0 124.8,288.1 132.2,292.1 156.2,265.4 117.8,298.9 167.5,236.9 141.5,266.1 118.4,300.2 133.7,268.7 131.2,274.8 153.8,250.5 131.7,271.2 115.7,302.9 126.1,283.9 113.5,304.0 131.2,281.7 121.9,294.0 146.5,260.4 138.1,275.6 152.0,256.6 144.0,257.9 155.6,249.2 120.5,303.6 123.6,289.0 146.4,263.4 133.2,278.4 115.7,302.6 146.2,259.7 143.3,277.1 144.8,256.1 136.1,279.0 158.9,252.7 150.2,287.8 142.9,264.7 127.2,279.9 127.8,278.9 145.8,278.1 131.5,287.1 173.1,229.9 142.2,267.7 139.3,265.0 119.5,303.3 146.3,261.0 138.9,270.0 135.5,280.0 170.0,237.5 136.2,294.3 161.9,240.5 114.6,301.9 140.8,264.0 144.6,262.4 158.0,255.9 143.1,269.3 154.9,252.6 161.8,241.4 139.8,275.1 136.5,289.9 130.4,292.5 118.9,297.8 141.2,267.8 165.2,242.0 127.3,294.0 144.8,257.0 133.9,272.4 119.6,301.4 131.0,277.6 127.9,276.6 137.5,264.9 127.5,278.3 148.3,264.0 116.5,304.3 161.1,241.0 127.7,286.3 133.3,280.5 145.1,265.5 189.2,234.3 185.2,260.7 193.0,245.0 192.7,235.1 156.1,272.4 150.2,293.8 157.1,286.1 149.3,290.3 195.2,246.6 141.7,275.0 161.1,266.1 133.1,294.3 153.2,285.3 134.6,285.0 183.8,257.5 190.5,227.8 195.2,222.2 213.6,195.0 212.8,219.1 212.7,191.5 170.1,248.8 157.0,277.7 146.2,275.4 175.0,256.2 173.2,266.5 213.0,210.3 189.9,238.3 157.0,265.7 205.1,231.9 173.9,249.9 138.2,293.7 194.2,218.4 205.4,198.6 166.1,271.8 162.7,253.4 168.9,265.2 133.2,287.4 189.4,250.5 214.5,224.2 184.5,240.6 178.3,262.4 196.1,239.5 151.5,294.6 186.1,250.8 150.6,272.8 160.9,243.7 158.1,248.5 204.2,235.6 154.9,265.4 207.6,216.1 136.9,267.2 182.6,230.1 200.7,244.5 194.5,212.9 146.5,294.5 176.3,247.5 143.8,272.0 157.8,246.5 154.2,265.3 171.4,264.2 201.5,220.4 143.1,271.9 173.8,249.3 178.3,231.9 142.0,294.4 181.5,231.7 203.5,211.1 176.4,254.0 138.0,285.9 178.0,267.3 168.9,253.3 190.2,224.8 188.7,260.4 164.3,260.3 210.2,192.6 157.6,248.6 193.6,238.5 173.6,270.3 179.7,229.9 147.2,287.2 170.7,245.0 157.8,275.0 180.5,238.1 184.3,261.6 156.7,266.3 194.7,206.5 214.5,210.4 140.8,285.6 206.0,210.4 177.8,227.6 182.0,262.4 180.5,261.2 213.2,198.5 146.4,291.2 179.3,236.1 211.4,218.9 212.8,227.9 166.7,237.4 193.3,233.4 204.0,207.1 199.2,236.6 194.7,235.0 165.7,273.3 148.3,267.4 167.7,239.6 205.7,219.0 192.0,251.2 208.5,222.8 179.1,255.2 203.6,227.2 187.5,234.4 185.8,217.4 193.4,208.5 153.0,294.8 197.3,217.7 195.2,239.0 199.1,209.2 153.8,265.3 142.1,277.9 185.5,237.4 189.3,217.6 150.7,267.0 213.1,207.0 143.7,279.0 163.6,259.7 162.6,260.1 144.7,271.4 168.6,272.7 198.1,225.3 200.5,206.4 143.8,293.6 211.5,227.6 209.8,219.9 155.6,255.0 161.5,240.8 207.5,202.8 203.0,208.8 191.0,223.7 143.8,272.2 199.8,232.1 195.9,215.7 138.6,286.0 170.4,271.4 181.1,237.8 164.4,237.7 198.5,225.8 214.3,213.8 149.3,219.5 93.6,275.7 224.0,155.6 103.6,267.9 152.0,207.4 115.0,253.5 168.1,199.0 126.0,240.7 220.3,153.6 128.6,240.7 131.5,234.9 158.8,211.8 125.5,244.0 111.5,257.1 134.1,234.6 169.9,200.5 230.5,125.0 194.7,175.5 215.5,162.5 228.6,150.5 90.8,280.8 168.8,201.1 168.1,197.5 183.9,180.4 218.6,161.4 136.0,223.6 218.6,154.0 104.8,263.8 183.4,185.4 83.9,287.7 195.3,178.4 205.5,170.9 182.4,192.7 207.0,157.8 92.9,275.7 222.7,149.0 131.0,238.3 128.6,240.1 83.6,288.9 208.2,165.6 105.5,249.4 139.2,224.4 143.4,225.7 107.2,262.5 196.7,178.3 172.6,199.7 178.8,194.6 138.5,226.8 159.3,212.9 119.6,249.8 183.3,192.4 147.0,222.2 157.6,212.8 164.5,199.1 126.6,241.4 213.1,164.6 148.1,215.8 157.0,207.4 207.7,166.8 112.4,258.4 357.1,34.5 322.5,60.7 317.6,73.0 311.1,79.8 307.4,94.4 296.8,106.1 290.7,108.9 285.4,118.1 292.3,122.4 264.3,118.4 264.3,143.5 282.4,216.2 181.1,127.0 198.1,148.4 209.5,149.3 212.2,151.8 184.9,162.8 177.9,172.9 190.2,172.0 134.0,204.9 140.1,213.4 143.6,215.9 119.9,222.6 127.8,221.0 105.9,246.3 265.7,143.4 246.4,170.4 230.6,188.9 232.4,199.0 229.7,205.8 207.8,217.6 202.5,220.1 213.0,219.3 200.7,231.1 204.2,234.5 188.4,286.8 172.6,285.1 167.3,288.4 211.3,200.7 218.3,197.3 223.6,190.6 200.0,307.0 205.5,307.0 213.7,307.0 217.4,307.0 220.1,307.0 225.0,307.0 232.5,307.0 235.0,307.0 237.5,307.0 239.4,307.0 268.0,307.0 285.8,307.0 293.7,307.0 167.3,307.0 175.3,307.0 177.9,307.0 181.4,307.0 185.8,307.0 187.6,307.0 191.9,307.0 194.6,307.0 79.5,93.8 79.5,110.8 79.5,130.7 79.5,162.9 79.5,163.6 79.5,188.9 79.5,205.8 79.5,225.5 79.5,231.3 79.5,237.0 79.5,243.2 79.5,244.6 79.5,245.9 79.5,248.0 79.5,251.3 79.5,258.1 79.5,260.6"/>
<rect x="68" y="23" width="301.5" height="295" fill="none" stroke="#333" stroke-width="0.9"/>
<line x1="79.5" y1="318" x2="79.5" y2="323" stroke="#222" stroke-width="0.9"/><text x="79.5" y="338.5" font-size="8.5" text-anchor="middle" fill="#222">0</text><line x1="63" y1="307.0" x2="68" y2="307.0" stroke="#222" stroke-width="0.9"/><text transform="translate(55.5,307.0) rotate(-90)" font-size="8.5" text-anchor="middle" fill="#222">0</text>
<line x1="167.3" y1="318" x2="167.3" y2="323" stroke="#222" stroke-width="0.9"/><text x="167.3" y="338.5" font-size="8.5" text-anchor="middle" fill="#222">5</text><line x1="63" y1="222.6" x2="68" y2="222.6" stroke="#222" stroke-width="0.9"/><text transform="translate(55.5,222.6) rotate(-90)" font-size="8.5" text-anchor="middle" fill="#222">5</text>
<line x1="255.2" y1="318" x2="255.2" y2="323" stroke="#222" stroke-width="0.9"/><text x="255.2" y="338.5" font-size="8.5" text-anchor="middle" fill="#222">10</text><line x1="63" y1="138.3" x2="68" y2="138.3" stroke="#222" stroke-width="0.9"/><text transform="translate(55.5,138.3) rotate(-90)" font-size="8.5" text-anchor="middle" fill="#222">10</text>
<line x1="343.1" y1="318" x2="343.1" y2="323" stroke="#222" stroke-width="0.9"/><text x="343.1" y="338.5" font-size="8.5" text-anchor="middle" fill="#222">15</text><line x1="63" y1="53.9" x2="68" y2="53.9" stroke="#222" stroke-width="0.9"/><text transform="translate(55.5,53.9) rotate(-90)" font-size="8.5" text-anchor="middle" fill="#222">15</text>
<text x="222" y="20" font-size="16" text-anchor="middle" fill="#333">2-3hr</text><text x="112.2" y="75.5" font-size="15.2" fill="#111">r = 0.970</text><text class="b" x="19.3" y="175.1" font-size="16.5" fill="#000">WT</text><text class="b" x="199.3" y="354.6" font-size="17" fill="#000">SP+</text>
<line x1="267.1" y1="230.7" x2="248.7" y2="236.7" stroke="#ee1018" stroke-width="2.2"/><polygon points="226.8,243.9 248.7,230.4 252.4,241.8" fill="#ee1018"/>
</g>
<g id="plot-R">
<polygon fill="#080808" points="492.8,294.0 495.2,291.7 497.6,289.5 500.0,287.2 502.4,284.8 504.8,281.9 507.2,279.0 509.6,276.1 512.0,273.5 514.4,271.3 516.8,269.0 519.2,266.8 521.7,264.8 524.1,262.9 526.5,261.0 528.9,259.0 531.3,257.1 533.7,255.2 536.1,253.3 538.5,251.4 540.9,249.6 543.3,247.8 545.7,245.9 548.1,244.1 550.6,242.2 553.0,240.3 555.4,238.1 557.8,235.9 560.2,233.6 562.6,231.3 565.0,229.0 567.4,226.7 569.8,224.4 572.2,222.1 574.6,219.8 577.0,217.3 579.5,214.9 581.9,212.5 584.3,210.1 586.7,207.8 589.1,205.5 591.5,203.1 593.9,200.8 596.3,198.4 598.7,196.1 601.1,193.9 603.5,191.7 606.0,189.5 608.4,187.4 610.8,185.2 613.2,183.0 615.6,180.8 618.0,178.6 620.4,176.4 622.8,174.1 625.2,171.7 627.6,169.3 630.0,166.9 632.4,164.6 634.9,162.2 637.3,160.0 639.7,157.7 642.1,155.3 644.5,153.0 646.9,151.5 649.3,150.1 651.7,148.6 654.1,147.1 656.5,145.5 658.9,143.8 658.9,143.8 656.5,146.6 654.1,149.6 651.7,152.7 649.3,156.1 646.9,160.3 644.5,164.7 642.1,167.9 639.7,170.2 637.3,172.6 634.9,175.0 632.4,177.4 630.0,179.9 627.6,182.9 625.2,185.8 622.8,188.7 620.4,191.6 618.0,194.3 615.6,197.1 613.2,199.8 610.8,202.6 608.4,205.4 606.0,208.3 603.5,211.2 601.1,214.1 598.7,216.8 596.3,219.2 593.9,221.7 591.5,224.1 589.1,226.6 586.7,229.0 584.3,231.4 581.9,233.9 579.5,236.4 577.0,239.0 574.6,241.5 572.2,244.0 569.8,246.6 567.4,248.9 565.0,251.2 562.6,253.5 560.2,255.7 557.8,258.0 555.4,260.3 553.0,262.3 550.6,264.4 548.1,266.4 545.7,268.4 543.3,270.6 540.9,273.1 538.5,276.1 536.1,280.3 533.7,284.5 531.3,288.1 528.9,290.4 526.5,292.7 524.1,295.1 521.7,297.4 519.2,299.7 516.8,302.0 514.4,304.3 512.0,306.2 509.6,306.2 507.2,306.2 504.8,306.2 502.4,306.2 500.0,306.2 497.6,306.2 495.2,306.2 492.8,306.2"/>
<polyline fill="none" stroke="none" marker-start="url(#m)" marker-mid="url(#m)" marker-end="url(#m)" points="511.2,282.7 564.7,240.9 579.5,224.4 496.8,306.2 514.0,303.5 643.7,158.3 502.8,285.6 511.4,286.2 653.6,150.9 582.4,213.1 545.9,252.4 566.5,235.2 588.4,214.2 532.4,260.4 512.6,289.8 608.1,190.7 589.4,225.3 566.6,234.9 613.4,194.7 571.9,229.9 697.0,108.6 522.2,278.9 572.6,228.2 562.5,248.0 543.7,252.0 578.1,218.4 526.6,276.8 610.7,199.1 624.5,183.7 511.2,303.2 560.1,249.5 532.7,273.1 504.6,287.7 632.4,167.1 554.7,249.9 514.0,276.7 589.9,209.9 521.8,290.1 634.0,169.2 524.0,269.3 497.4,306.2 521.6,267.3 542.6,268.5 560.4,239.1 635.5,170.9 593.4,215.4 541.6,257.8 495.1,302.7 515.7,275.1 718.4,87.2 559.0,246.0 592.4,215.9 500.5,306.2 497.5,297.9 619.5,187.6 577.5,227.8 537.2,263.0 538.5,260.7 505.5,292.3 517.6,277.5 496.2,305.7 618.0,188.5 560.0,252.1 511.0,301.1 599.8,206.8 520.9,276.9 501.6,287.0 579.1,224.3 632.3,169.0 496.5,305.9 611.2,193.6 520.1,285.0 506.0,306.2 495.2,306.2 534.9,266.5 597.9,208.2 563.9,245.4 621.1,179.0 524.0,269.3 538.2,255.9 529.9,272.7 692.7,115.2 649.6,152.5 541.8,265.8 555.6,240.7 538.0,255.9 601.0,205.0 498.4,306.2 502.4,300.1 551.0,244.8 528.0,289.1 619.4,181.4 600.2,201.5 571.5,238.4 588.2,214.6 592.6,219.5 606.8,191.2 643.4,159.5 514.3,274.2 583.1,218.3 513.4,288.6 556.6,240.2 607.8,197.0 632.0,174.9 603.1,200.4 497.7,306.2 544.5,256.2 516.2,284.7 722.5,86.0 513.4,290.7 527.9,276.5 544.2,255.6 501.4,306.2 625.3,182.3 584.5,229.3 515.7,291.2 564.6,235.9 504.0,302.3 580.9,227.1 526.1,273.5 498.2,306.2 509.3,305.8 572.8,229.3 584.6,219.8 539.5,261.1 585.6,228.5 543.5,264.4 511.5,281.4 538.2,269.2 549.7,250.0 637.7,170.1 509.3,285.6 505.1,305.2 573.7,235.3 664.5,139.4 635.9,169.2 593.8,216.8 502.3,293.4 611.4,189.5 591.3,209.7 513.4,299.0 559.8,237.5 499.8,290.7 610.6,199.0 596.6,208.7 611.1,197.2 603.3,200.0 531.2,267.2 608.4,204.6 528.6,264.5 512.5,276.6 549.0,257.1 564.5,235.9 533.9,283.0 580.1,225.0 579.6,233.6 527.3,289.4 582.5,229.8 544.2,258.7 599.1,212.5 534.6,262.3 610.0,194.5 552.6,255.3 572.5,228.5 589.9,217.1 567.5,237.3 529.8,266.9 694.5,115.1 506.5,296.5 539.6,260.7 571.9,236.8 496.8,306.2 515.0,276.4 610.1,193.5 607.3,196.0 584.6,223.9 634.2,169.3 602.5,197.8 535.8,278.0 585.8,212.5 541.7,262.5 601.6,200.3 548.2,252.7 514.8,273.3 626.9,177.6 592.4,207.6 600.7,210.2 573.5,226.3 607.2,203.0 557.3,248.9 574.3,228.3 501.7,306.2 572.8,231.6 613.0,206.5 594.6,214.6 610.8,192.4 564.3,235.0 628.2,175.2 508.3,306.2 626.7,168.1 546.3,254.6 505.8,302.8 582.1,221.6 558.3,248.1 554.5,251.6 620.9,180.3 512.5,283.4 581.7,222.1 552.4,241.8 568.9,237.5 564.8,233.8 512.0,290.6 566.6,230.4 623.3,184.3 517.4,280.3 494.3,306.2 502.4,291.7 559.0,238.0 685.6,118.5 499.0,301.1 711.1,97.3 570.0,237.8 510.0,306.2 553.1,259.6 522.6,272.7 595.9,205.0 570.8,232.8 534.2,271.6 529.5,287.5 624.5,172.2 604.3,188.3 555.6,248.1 551.2,251.4 599.6,200.6 677.2,129.8 504.1,301.3 515.6,300.5 545.0,259.4 566.0,235.4 502.9,295.9 500.4,306.2 524.3,274.0 548.4,254.0 599.8,203.8 580.7,215.4 496.8,306.2 499.1,306.2 557.9,246.9 626.5,179.1 638.6,163.5 545.4,259.2 629.9,177.3 644.1,156.0 551.4,248.9 600.9,203.7 545.4,262.4 514.8,298.9 575.7,222.3 505.1,287.2 588.4,227.0 612.0,194.0 638.7,165.8 557.3,250.6 509.6,292.1 634.4,171.6 625.3,181.9 669.9,131.3 578.4,221.6 589.9,205.8 546.5,263.0 519.1,284.3 534.8,260.9 596.9,212.4 539.6,268.0 592.5,202.4 565.2,246.7 557.5,250.2 669.9,134.6 516.6,294.5 563.0,244.7 515.7,296.0 647.9,152.5 563.2,232.8 540.6,255.4 516.9,289.3 578.4,235.7 550.3,252.6 511.0,287.0 497.3,296.1 549.1,256.6 576.9,226.7 567.6,230.8 633.6,170.4 637.4,162.6 647.3,155.3 610.2,196.5 561.6,252.8 568.3,235.0 550.0,256.4 550.3,247.3 498.6,304.6 610.0,192.3 528.2,275.0 496.9,299.2 560.0,238.5 596.5,206.8 555.6,252.6 545.2,265.2 587.7,210.0 516.2,272.6 494.3,306.2 578.2,236.2 569.2,243.4 624.2,173.7 552.7,253.0 607.7,199.8 495.2,306.2 496.6,301.4 579.1,226.3 525.3,264.1 502.3,294.6 511.1,297.7 546.8,250.6 541.3,251.3 574.1,231.6 629.9,174.7 545.4,264.5 519.2,284.8 576.1,224.2 492.9,306.2 548.2,250.2 538.4,269.7 548.6,252.6 500.0,306.2 572.7,234.6 582.8,221.4 601.5,194.6 659.5,146.4 543.9,257.7 587.4,212.2 556.5,248.2 523.7,277.2 630.4,167.7 600.9,197.3 650.5,152.0 614.4,190.6 639.5,160.6 511.1,284.2 494.9,306.2 521.3,289.2 552.2,253.8 591.9,217.2 556.0,250.4 566.8,233.3 603.4,196.3 502.8,296.2 590.6,213.5 499.7,306.2 528.5,269.4 597.2,217.2 591.3,217.3 551.2,251.9 535.2,273.6 615.7,177.7 532.3,275.8 497.1,301.6 528.3,266.0 495.7,303.7 612.3,197.8 510.3,303.5 684.6,120.8 523.4,275.2 536.8,265.1 577.1,218.7 537.1,253.4 547.4,256.8 507.7,301.6 548.8,249.5 496.3,306.2 525.0,283.5 636.7,160.0 533.2,283.6 531.8,272.1 590.7,212.3 628.6,184.4 535.4,259.3 547.0,252.0 596.0,206.6 608.8,204.0 581.3,221.8 518.5,288.0 518.7,287.1 602.9,205.7 594.8,213.3 632.5,173.0 606.6,194.6 553.5,253.7 511.9,280.3 630.7,175.7 593.1,217.7 575.9,239.3 591.1,215.5 548.3,247.4 542.2,258.7 575.7,231.0 562.4,247.2 595.1,201.9 647.2,151.0 619.8,180.9 548.6,255.2 546.4,266.5 643.1,157.6 549.6,261.8 610.3,194.4 506.0,301.7 557.8,246.0 567.2,236.8 611.9,189.2 627.2,172.4 514.7,285.7 581.8,227.9 583.5,220.7 514.5,285.9 616.9,194.3 572.6,241.7 662.9,141.9 519.5,287.3 568.4,247.8 539.3,258.0 585.4,229.8 580.5,222.0 566.6,240.1 539.5,258.2 565.4,236.6 546.4,266.7 630.8,177.7 559.3,242.3 561.3,242.3 530.0,264.7 529.3,277.4 657.0,149.2 538.0,268.4 624.8,180.7 578.5,235.2 696.3,111.2 516.3,290.7 649.9,155.9 605.3,197.0 574.7,233.6 595.1,201.8 597.2,202.6 557.4,243.8 584.3,223.7 525.6,276.3 495.7,298.4 590.3,222.5 561.2,238.2 635.4,169.1 530.8,266.1 613.7,198.0 705.1,99.9 633.0,172.2 665.5,134.9 515.6,272.2 516.5,298.6 525.6,289.7 544.8,259.3 509.3,280.6 514.4,292.3 495.3,306.2 645.9,155.3 544.8,256.2 583.0,215.7 558.3,247.5 600.4,198.8 611.4,188.5 547.9,259.0 569.9,237.8 506.7,287.8 533.9,269.6 524.8,281.5 537.2,266.5 539.5,252.7 575.7,223.2 540.7,254.5 539.8,265.4 616.4,188.4 494.4,305.9 493.4,306.2 500.9,289.9 624.1,182.2 584.2,221.2 598.0,203.6 659.7,141.6 524.1,265.5 640.4,166.1 527.7,273.4 567.6,240.5 591.0,212.1 609.7,199.9 528.5,279.7 561.5,253.4 499.2,301.3 534.2,280.8 697.0,111.2 635.2,164.9 576.7,228.4 607.8,200.5 634.3,167.3 540.6,261.0 696.3,108.0 557.4,248.0 515.6,281.1 569.2,235.7 578.4,225.3 592.7,210.2 589.5,219.9 498.6,293.5 584.9,223.0 641.0,169.1 589.4,204.5 687.1,116.5 566.5,237.0 612.2,186.0 512.9,290.4 632.2,175.6 555.7,248.5 626.9,171.6 539.0,254.4 582.8,225.4 619.7,184.3 595.5,212.7 582.2,231.2 677.0,128.7 505.3,302.7 507.4,285.2 572.3,223.0 657.6,143.8 591.8,211.0 537.4,271.6 508.2,302.1 557.4,246.5 562.0,249.2 560.3,239.0 582.1,225.3 532.0,261.2 627.9,169.8 534.3,268.8 508.1,290.9 543.0,255.0 647.0,153.5 515.7,279.3 532.7,283.5 643.0,157.1 542.9,268.2 618.9,186.1 499.2,305.4 630.2,169.5 526.9,275.6 518.7,280.1 600.3,204.9 709.2,94.5 660.9,145.0 602.0,200.1 638.3,159.4 706.1,97.5 572.5,229.7 513.5,275.8 620.3,188.4 549.8,253.2 537.8,254.2 565.0,247.4 497.7,306.2 495.3,294.3 530.8,259.5 578.7,229.6 601.5,197.5 659.3,141.9 613.7,193.2 649.7,151.8 584.5,225.7 599.0,205.9 577.5,221.4 504.4,297.6 501.6,306.2 603.3,206.1 521.9,283.6 608.4,193.4 559.7,250.1 493.6,306.2 573.7,239.1 556.6,253.2 503.3,291.4 530.3,262.2 536.9,265.5 542.6,270.1 594.8,201.6 516.8,293.9 556.7,250.4 580.3,219.2 652.5,147.0 509.2,280.2 504.1,297.7 520.3,271.6 524.5,285.3 516.1,284.6 503.6,301.2 522.9,288.9 524.9,274.2 561.9,245.8 586.2,219.8 545.2,257.2 516.9,270.7 506.3,287.6 530.6,277.9 517.3,292.7 562.1,243.8 625.5,178.5 596.3,201.0 522.0,292.1 497.8,293.2 502.4,296.3 555.6,253.0 545.1,265.0 591.2,219.6 504.7,303.0 529.4,272.5 591.7,209.9 574.7,229.7 567.3,239.6 634.1,164.4 509.0,302.4 520.9,294.0 574.3,234.0 574.3,231.9 695.6,109.0 691.1,112.5 577.4,232.9 603.0,200.9 593.4,207.3 511.8,288.6 579.6,228.6 536.8,275.2 544.5,250.8 515.2,286.4 493.8,303.0 621.3,186.5 596.4,212.7 601.9,207.3 534.2,276.9 552.9,256.5 518.1,288.1 579.6,218.6 618.1,192.2 606.5,205.6 646.2,156.6 530.2,261.7 594.0,206.7 510.9,287.1 570.1,241.7 508.6,291.4 570.7,240.4 570.9,232.6 542.7,254.2 543.1,266.9 595.4,208.8 562.1,245.4 551.5,252.2 508.9,299.2 533.4,268.7 619.8,182.1 680.2,121.8 546.5,258.7 625.4,181.8 626.2,174.2 524.1,289.3 532.2,281.9 593.2,210.1 536.8,257.3 658.0,140.5 545.4,261.1 598.4,214.2 594.9,215.9 523.5,286.4 624.2,175.5 540.1,262.8 508.5,292.6 499.9,306.2 557.9,241.2 584.0,217.8 531.8,277.9 618.6,190.8 531.3,259.0 619.9,189.5 497.4,291.1 530.6,268.3 515.7,301.2 557.3,250.2 543.3,256.3 549.6,242.4 620.8,178.5 576.3,228.6 580.1,228.7 549.0,250.0 611.8,196.4 565.1,241.8 600.9,196.6 638.3,165.8 581.0,214.2 555.5,244.4 530.7,279.5 637.5,165.2 604.1,205.3 610.2,191.2 524.6,271.9 555.7,253.9 628.8,176.3 528.2,278.8 612.9,188.2 570.4,225.4 524.2,283.1 546.9,250.5 503.6,298.5 589.8,224.2 597.9,204.3 496.8,294.2 536.2,273.3 604.7,199.4 521.6,270.9 570.2,236.4 611.4,198.5 574.9,221.7 510.3,300.7 636.6,167.5 601.0,201.5 574.2,230.8 540.7,268.4 576.7,224.3 549.2,254.8 509.8,281.6 510.3,301.2 499.2,294.7 517.2,290.2 528.1,283.9 584.4,215.4 576.4,228.9 577.9,218.3 614.5,185.1 506.4,299.5 548.8,255.6 504.1,288.2 553.1,252.4 504.0,306.2 502.2,292.8 507.7,280.6 548.9,255.7 603.8,202.0 533.3,276.3 600.2,212.9 526.3,288.8 534.1,273.3 560.7,237.9 503.5,298.2 557.5,239.9 576.9,226.8 615.0,193.6 500.7,299.2 610.2,194.8 574.9,238.0 576.2,221.3 500.0,302.6 627.8,174.0 532.7,276.2 571.6,236.2 570.4,235.6 636.9,165.8 579.5,217.9 711.6,87.7 526.2,284.0 588.3,213.1 575.9,238.2 566.8,239.5 583.3,217.2 572.1,225.7 541.3,254.2 585.3,221.8 504.7,286.9 561.8,245.9 558.0,248.8 523.4,273.5 574.7,237.2 589.4,215.2 510.7,290.3 535.5,258.7 501.6,293.6 578.9,223.2 504.4,283.9 525.8,290.4 557.3,248.3 557.9,245.8 497.4,304.1 653.0,152.0 525.9,286.5 580.7,233.1 524.7,291.1 578.7,224.1 543.6,255.1 538.6,269.0 561.1,253.3 577.3,218.3 579.0,225.3 592.1,212.9 531.4,285.3 505.9,306.2 529.2,284.6 539.8,256.9 580.3,219.8 552.5,250.3 537.6,258.8 506.8,306.2 578.8,228.8 508.5,292.6 567.3,227.9 592.1,207.2 582.6,220.9 515.7,288.4 544.0,258.1 649.6,147.6 505.7,286.5 590.7,221.2 555.7,243.4 581.2,225.1 549.5,261.3 510.5,290.5 573.9,222.3 493.5,306.2 623.7,174.4 610.0,191.3 546.6,256.8 570.2,230.9 568.8,233.1 694.9,111.3 498.9,306.2 535.6,269.8 551.4,256.0 608.0,197.7 598.4,216.2 553.8,249.8 494.3,306.2 586.2,213.0 551.4,255.4 509.5,281.9 583.8,216.7 556.9,233.6 536.9,268.1 531.5,269.0 567.8,235.5 528.4,278.4 549.4,240.7 650.1,154.7 561.6,233.1 529.2,261.5 567.9,244.5 639.4,163.9 624.3,178.7 590.4,218.7 633.3,166.3 602.7,198.9 590.9,217.4 554.5,251.5 514.2,291.6 598.7,197.1 584.2,219.9 670.4,133.2 539.0,272.6 627.0,178.5 524.2,270.8 652.4,151.1 717.4,85.9 499.4,306.2 539.5,259.3 721.5,82.9 671.4,132.6 589.5,208.3 512.1,279.0 493.6,306.2 528.6,277.2 651.4,149.6 611.2,187.4 554.5,255.8 603.4,201.1 634.3,169.1 535.9,251.8 626.3,183.5 531.6,262.4 540.1,262.6 499.1,305.8 515.8,286.0 572.2,232.4 496.1,297.6 571.5,239.3 517.2,280.3 601.4,207.8 511.1,285.5 522.5,293.6 531.5,270.2 576.8,235.1 611.8,194.9 602.1,206.5 600.2,201.4 591.1,213.5 571.1,227.0 542.1,269.9 518.6,287.9 623.7,179.0 551.7,254.1 586.5,210.3 502.5,306.2 544.8,266.2 507.1,284.1 543.8,252.2 598.9,209.1 541.9,254.2 591.2,219.5 510.4,288.4 548.2,253.0 551.9,247.6 566.1,236.2 525.6,290.7 593.6,208.8 628.5,170.6 612.6,188.0 497.1,296.7 563.1,244.5 542.3,250.5 575.4,220.0 504.7,302.8 598.3,208.2 552.8,251.3 651.1,155.8 495.4,306.2 553.0,246.1 562.9,232.3 616.3,184.1 602.6,193.6 518.9,295.0 537.1,266.1 599.3,219.7 553.2,254.0 530.6,271.8 644.8,155.0 618.9,179.9 544.0,268.5 572.0,224.2 644.1,160.1 523.9,291.1 636.5,163.1 629.0,179.4 597.8,213.8 591.7,215.6 591.6,214.9 571.2,237.9 576.7,234.2 521.1,272.9 573.9,232.9 589.8,214.5 562.8,250.3 590.7,220.4 558.8,243.0 610.9,183.8 596.9,202.8 505.5,287.2 604.8,191.4 533.8,263.2 504.4,305.0 510.1,297.0 539.4,256.4 568.4,235.7 540.3,253.6 522.0,282.5 604.8,191.4 546.6,254.4 626.2,178.4 527.9,268.5 592.3,205.8 544.3,250.1 620.4,185.5 586.0,225.7 590.6,211.1 506.0,293.4 601.8,206.5 543.8,254.9 600.0,203.4 619.4,188.6 510.3,306.2 494.8,296.9 602.9,210.9 671.9,133.3 633.7,173.1 555.5,252.6 616.9,185.3 496.0,306.2 501.1,305.0 576.6,225.9 568.8,237.4 615.1,195.1 526.3,272.7 559.5,235.8 709.3,90.4 536.4,270.6 551.0,249.6 580.4,211.3 716.4,89.5 519.0,286.2 592.4,208.3 552.5,248.2 550.5,254.9 529.7,288.4 559.8,242.4 575.6,237.1 549.3,255.0 565.7,237.2 584.5,216.1 620.8,180.3 573.7,237.3 547.9,249.1 662.7,139.2 517.5,281.2 499.2,306.2 636.3,165.9 531.0,281.7 514.5,290.7 548.3,260.1 542.2,269.2 543.9,265.4 620.7,181.4 534.6,276.4 511.8,293.9 523.8,282.9 654.4,151.9 554.6,241.1 544.7,253.2 606.2,194.2 647.0,152.4 566.3,238.5 613.0,187.7 530.8,276.5 543.2,248.2 575.9,221.8 526.8,274.6 532.4,263.7 519.7,278.9 530.5,284.7 618.1,187.1 609.3,199.9 509.1,291.6 543.0,263.9 597.2,217.7 622.7,179.5 573.5,226.2 597.8,208.5 526.9,283.2 607.0,194.4 614.3,194.1 551.4,262.0 526.7,276.8 497.4,296.4 583.6,217.6 584.0,216.6 492.8,295.5 567.8,238.6 648.4,151.6 496.8,304.8 512.5,299.0 501.0,306.2 555.7,255.9 548.2,259.2 625.3,184.8 502.2,294.7 521.6,267.8 648.1,159.8 495.4,306.2 530.1,276.9 549.6,261.7 492.8,306.2 534.1,258.9 579.7,226.9 581.5,214.5 580.5,225.2 586.6,212.1 581.4,220.2 497.6,291.2 587.2,223.6 576.9,233.8 524.1,283.6 553.2,260.7 527.0,277.1 624.7,177.4 532.9,277.7 516.2,285.6 609.6,197.7 603.4,199.7 620.9,181.5 590.5,219.2 552.8,250.4 561.3,244.8 572.8,248.2 578.7,232.3 651.8,148.2 531.0,265.0 604.7,195.3 495.1,300.2 520.1,290.9 651.4,145.4 528.9,278.9 566.4,239.4 639.1,173.5 587.2,219.0 563.2,234.8 594.0,214.5 692.8,113.3 649.7,152.0 518.8,269.4 512.9,287.9 534.2,269.2 513.6,294.4 603.9,209.2 616.9,189.7 513.0,290.1 503.2,306.2 539.4,255.7 591.8,217.6 605.0,197.1 559.2,236.6 584.9,219.5 639.5,167.5 627.9,175.7 509.6,280.0 595.8,207.2 606.1,197.7 635.9,168.5 553.0,257.4 515.2,283.4 561.1,235.5 546.1,255.4 549.5,258.1 610.8,186.4 586.8,213.8 590.9,218.5 586.9,215.4 513.1,284.6 501.1,291.6 549.7,260.3 620.4,188.0 586.3,214.8 608.7,200.5 582.5,221.0 607.4,203.8 718.0,89.7 595.8,204.0 623.2,178.2 682.3,125.6 600.1,203.3 612.7,191.8 504.0,301.7 497.9,304.4 641.7,162.6 527.0,284.8 536.7,269.3 512.2,295.5 584.3,214.1 496.9,306.2 610.1,198.0 535.7,279.5 600.6,206.7 637.1,160.4 592.3,218.1 553.9,243.7 582.9,230.9 621.6,176.7 595.5,209.8 529.1,273.2 493.7,306.2 627.8,174.2 582.7,226.1 501.8,287.5 572.2,229.3 577.7,227.6 535.0,275.1 629.5,170.9 527.3,275.6 513.4,306.2 537.3,275.1 541.5,261.3 628.9,178.8 587.5,213.4 510.2,303.2 549.5,260.1 507.5,294.1 594.6,206.0 621.6,181.5 506.1,281.5 564.8,239.9 528.0,261.4 533.8,277.2 601.1,200.3 690.4,117.4 532.9,279.2 571.0,225.7 537.4,259.7 501.6,306.2 579.6,231.3 515.1,291.8 592.0,221.2 601.1,208.8 513.2,285.5 578.7,230.0 522.7,272.6 603.8,192.7 533.9,262.6 592.2,207.6 586.2,227.8 575.7,226.8 524.1,282.2 617.0,193.3 543.9,253.3 605.0,203.9 561.2,248.0 557.3,247.5 595.6,208.7 541.9,251.2 603.8,209.7 556.9,243.7 600.0,201.2 593.4,208.0 651.9,147.2 551.6,251.3 543.0,263.1 716.0,91.7 567.2,244.5 553.1,257.0 593.9,210.9 528.8,276.0 659.7,141.6 602.2,201.0 586.4,210.1 534.8,261.3 612.0,189.8 640.1,163.4 608.7,192.3 637.6,163.2 505.9,294.8 600.2,204.8 624.3,178.3 561.4,249.3 504.2,306.2 571.0,242.4 527.7,277.1 497.3,306.2 647.1,155.2 616.6,188.8 584.3,223.9 601.3,207.4 589.6,209.6 559.5,242.3 510.1,296.3 534.3,280.5 565.7,243.3 576.7,223.7 536.2,272.3 511.0,283.0 542.1,255.4 519.4,282.0 644.7,159.1 524.5,283.8 549.5,246.7 570.9,231.5 529.1,272.6 564.1,248.4 572.5,234.3 499.7,306.2 653.1,145.4 570.3,238.2 513.7,275.4 699.3,107.0 516.9,284.6 598.0,212.2 562.3,243.1 529.8,281.5 547.5,251.9 562.1,233.9 546.2,254.7 528.3,283.0 552.7,249.2 555.6,241.2 592.0,221.5 521.2,279.9 499.2,297.7 616.9,193.8 502.6,301.1 583.8,228.8 571.9,242.1 686.8,114.2 520.1,272.8 629.9,167.6 511.4,293.4 517.4,299.7 587.1,218.9 516.6,294.4 577.3,223.4 590.1,216.0 510.7,292.6 608.5,196.3 553.7,251.5 669.0,135.6 494.3,306.2 504.0,295.8 582.2,231.0 529.8,284.6 550.8,261.4 636.5,170.7 542.3,257.6 500.0,306.2 513.3,289.8 572.9,234.1 605.7,203.8 602.9,203.5 560.7,238.5 527.2,283.2 511.2,287.3 524.9,274.4 521.6,271.2 636.0,164.5 551.5,252.7 509.5,300.8 584.8,213.6 558.7,246.9 496.8,295.1 695.1,105.9 652.4,148.8 530.6,270.3 616.7,189.2 558.4,249.8 589.9,226.7 587.0,227.9 598.7,216.0 556.2,245.1 513.8,290.2 611.1,195.7 556.2,254.2 556.5,241.1 603.1,206.8 591.6,213.9 708.6,93.8 548.7,258.2 584.3,222.4 504.7,296.4 508.9,302.1 529.4,283.4 533.1,263.3 557.1,252.3 525.7,288.7 647.2,156.2 554.4,259.4 547.9,262.9 634.2,164.2 609.5,187.8 605.0,201.5 638.3,163.2 599.4,204.0 536.8,265.0 662.6,141.8 496.6,303.8 632.7,169.4 553.2,252.7 541.4,269.6 561.2,251.6 550.4,262.0 622.9,174.8 611.4,189.2 601.0,208.0 526.2,289.5 556.2,252.8 503.5,294.4 600.4,197.9 498.7,306.2 549.8,248.0 514.5,272.4 620.9,178.0 639.9,164.6 534.4,279.1 625.8,178.1 518.3,295.6 595.4,211.0 528.8,268.1 557.0,237.9 580.9,214.5 543.3,251.7 521.2,276.5 577.5,220.1 609.1,190.9 717.5,89.1 539.2,265.9 529.8,271.8 503.7,305.8 522.2,279.3 496.4,300.2 528.7,268.2 597.7,198.2 509.2,288.5 586.0,229.1 535.2,265.7 525.7,287.0 562.5,251.4 555.6,257.2 557.2,254.5 509.6,293.0 574.2,227.0 634.3,170.6 494.0,306.2 504.3,305.0 577.3,236.3 538.6,254.3 529.0,284.5 707.3,94.9 537.1,266.9 640.7,159.0 581.7,228.9 497.0,306.2 531.0,281.8 503.6,299.4 570.3,241.0 636.3,165.9 500.2,306.1 496.7,306.2 496.9,306.2 532.1,276.4 516.6,293.1 671.3,130.8 605.8,195.0 648.8,151.5 576.4,237.3 614.3,193.3 595.1,214.4 534.8,278.5 586.9,223.2 534.4,259.4 559.7,237.2 614.6,190.4 524.5,287.1 517.9,270.0 620.8,181.6 559.5,247.5 517.7,278.4 538.5,265.3 533.2,269.1 632.4,168.9 560.9,248.5 640.5,163.4 560.6,235.7 648.8,155.6 639.1,164.5 574.6,232.4 607.8,202.8 534.1,248.8 509.3,257.8 579.9,225.7 500.6,302.3 560.1,248.7 582.2,222.4 604.5,201.7 632.6,170.2 522.1,275.0 624.1,178.9 564.3,236.6 582.6,221.4 559.4,240.0 619.9,184.2 536.0,265.7 493.8,306.2 615.9,195.9 588.2,213.5 596.3,218.6 510.6,293.3 522.4,269.9 583.0,224.3 601.1,207.6 588.1,212.0 578.7,231.4 587.2,222.7 514.0,291.6 557.7,257.1 540.2,262.4 599.3,200.6 567.4,245.0 596.8,215.1 593.0,208.7 635.2,166.9 621.9,189.1 500.1,301.1 589.1,214.0 546.6,257.6 507.2,301.1 561.7,242.4 618.9,186.7 609.6,198.8 507.9,283.6 521.9,286.1 593.0,214.0 671.1,131.3 503.8,293.2 505.4,299.9 593.1,215.6 581.6,228.9 612.3,196.7 521.3,286.0 564.0,236.1 610.4,190.9 547.9,262.5 550.3,258.3 497.4,305.3 609.8,188.2 557.1,238.6 547.2,246.6 587.3,218.1 621.1,178.0 624.3,180.0 542.1,270.0 580.5,226.4 548.6,256.2 618.0,187.0 609.1,197.7 588.2,217.4 614.8,194.6 566.3,236.1 575.1,222.4 516.1,297.6 595.0,213.8 534.2,280.2 573.8,218.2 492.9,306.2 550.0,245.5 581.6,220.6 583.7,220.5 574.0,223.9 529.0,274.8 587.1,210.4 588.1,214.9 577.8,227.1 547.1,251.1 514.6,283.0 573.0,240.0 500.1,297.2 639.0,162.4 543.6,263.3 533.5,257.5 557.7,251.6 507.6,306.2 629.0,174.2 694.8,116.8 614.7,182.6 575.5,231.3 649.5,150.1 540.4,267.1 559.8,250.6 517.4,288.6 554.0,246.6 643.4,161.3 588.4,212.2 571.4,240.9 570.0,232.4 584.3,215.4 580.7,221.0 558.0,241.8 566.4,247.1 507.3,282.1 556.7,245.7 590.1,219.7 524.9,274.6 532.6,270.4 611.2,186.3 512.3,284.7 520.9,267.3 613.8,196.7 510.1,295.7 536.0,279.0 637.0,167.9 552.3,245.1 613.6,188.0 604.0,195.0 495.5,306.2 524.3,272.3 637.5,164.0 539.0,264.2 551.0,249.1 646.6,158.2 508.5,279.0 679.4,123.9 586.0,209.5 583.4,226.7 492.8,306.2 583.7,219.5 614.5,191.7 549.5,257.3 503.2,296.5 511.7,297.4 503.8,306.2 552.6,253.3 613.5,196.3 501.1,304.2 551.2,249.2 550.5,244.9 550.1,259.9 568.7,227.1 569.9,230.3 522.1,266.9 609.2,200.3 567.3,243.6 543.5,253.2 665.2,134.9 594.6,206.4 516.2,279.1 673.4,128.6 576.1,220.4 541.8,266.1 526.9,265.5 502.4,295.1 527.9,275.2 534.4,257.5 542.3,258.4 707.3,96.5 578.2,230.9 520.4,285.5 546.2,252.5 555.1,249.7 504.6,287.3 560.3,234.3 566.0,231.1 636.7,168.8 555.2,259.2 592.1,214.0 590.8,214.1 517.9,292.6 574.5,234.5 557.5,238.7 516.1,273.9 496.1,306.2 717.5,83.1 505.7,294.6 629.6,173.0 545.6,265.9 504.4,300.5 665.7,137.4 588.0,221.1 551.1,256.8 617.8,190.3 594.9,209.0 552.6,242.4 596.5,216.8 599.6,208.4 517.5,276.8 596.2,206.2 639.1,164.0 591.9,213.5 610.1,198.0 709.9,97.7 609.6,188.3 560.5,248.5 573.8,231.0 604.4,204.4 584.0,222.3 502.9,287.9 501.3,295.5 532.0,283.9 613.7,189.2 524.6,273.2 538.7,261.9 614.7,189.2 511.3,300.8 533.0,267.8 529.7,271.6 499.5,290.0 600.4,201.6 538.9,264.0 551.5,258.0 540.7,255.5 502.1,306.0 619.3,184.3 512.1,297.9 533.9,258.7 596.9,201.8 542.9,269.7 565.8,248.0 540.3,259.0 573.5,225.1 538.5,266.2 558.5,251.2 493.9,306.2 494.8,306.2 565.8,247.9 613.5,195.0 722.2,85.4 610.8,192.7 568.4,238.0 585.7,218.2 589.6,221.4 598.3,212.4 712.2,93.4 542.3,258.5 557.1,239.1 606.5,190.5 523.8,287.2 506.5,283.0 633.3,164.3 494.9,302.3 631.8,169.7 638.5,166.4 516.5,297.9 602.4,205.3 534.3,274.6 531.8,258.7 701.1,101.5 629.7,170.4 604.0,202.5 555.6,250.8 704.4,102.6 575.0,218.1 695.6,109.2 597.0,199.1 499.4,300.7 609.9,200.9 617.8,193.1 628.1,170.4 582.5,213.7 498.1,298.9 624.6,179.2 553.6,242.5 521.0,292.2 522.7,280.6 521.7,294.1 613.2,196.1 503.1,306.2 639.8,164.6 495.1,306.2 597.3,210.3 525.9,268.9 567.0,244.8 518.2,284.8 633.5,167.6 515.1,299.0 560.1,247.4 580.5,226.5 558.1,240.4 523.9,272.2 534.5,270.7 646.5,159.9 510.7,276.4 495.2,301.2 636.4,166.7 629.5,176.1 591.6,206.0 560.8,240.8 655.8,142.5 552.3,247.6 494.5,298.1 555.5,255.3 569.1,246.4 571.8,231.2 630.1,171.5 502.4,305.5 621.4,177.8 568.1,240.0 598.7,211.1 552.4,248.8 535.4,265.4 541.1,259.3 532.3,276.8 558.1,253.5 579.0,230.7 616.3,194.6 517.8,269.6 557.6,249.7 569.5,244.5 613.7,188.6 595.3,213.9 582.6,220.3 590.0,219.2 557.4,253.7 611.5,196.8 617.7,185.1 574.4,230.8 509.5,306.2 554.2,240.6 530.9,279.1 520.3,290.5 535.5,279.4 614.0,188.0 542.9,256.7 554.7,244.7 547.9,256.4 519.3,277.7 575.2,227.4 552.8,254.4 647.5,156.8 582.0,213.2 692.1,112.2 622.5,188.1 563.5,243.9 495.0,293.5 523.4,290.8 509.9,296.6 599.6,202.0 512.5,288.0 585.8,213.4 539.2,256.0 562.0,245.0 602.7,208.3 535.7,274.0 517.4,297.9 534.2,275.5 651.0,148.8 572.5,235.2 534.1,273.0 513.7,290.7 502.5,286.8 540.9,270.0 581.3,230.0 558.6,239.1 612.6,187.3 715.9,90.0 575.0,239.8 542.4,250.9 609.3,191.7 505.4,296.2 603.2,209.6 628.3,175.6 606.0,202.6 506.9,294.0 576.5,238.6 610.7,192.2 552.1,251.7 619.1,184.8 516.6,283.6 569.0,241.4 573.2,235.6 608.1,187.8 552.1,250.2 529.9,265.4 595.6,211.8 509.1,306.2 545.8,258.4 560.2,242.4 608.0,194.5 554.0,254.8 573.8,233.7 590.6,221.5 590.2,220.3 664.6,138.8 559.5,252.1 575.2,224.7 495.4,294.4 520.3,267.1 528.6,261.6 523.1,293.9 567.6,237.2 521.4,268.3 575.0,224.5 615.3,186.3 503.1,296.2 527.7,279.4 564.4,235.4 499.3,296.5 513.3,303.5 575.7,238.8 550.3,253.5 634.8,168.4 575.0,220.6 602.7,199.7 542.6,264.7 547.1,257.8 621.2,183.0 581.5,231.9 638.4,164.4 529.1,265.3 509.2,303.9 590.4,216.0 510.7,283.8 503.6,293.0 549.0,263.6 591.8,221.2 544.7,262.6 602.1,212.0 558.4,247.2 533.8,260.9 569.8,227.5 579.9,226.6 514.3,301.8 578.1,232.8 517.0,288.9 671.0,130.0 569.4,230.2 522.3,289.1 498.8,306.2 523.6,280.0 538.6,267.6 575.5,232.6 588.5,207.5 595.5,207.7 556.3,246.1 583.6,224.0 572.6,238.8 535.5,267.0 524.3,285.8 550.3,250.1 592.2,218.4 512.1,299.8 584.5,217.1 495.6,306.2 519.2,287.1 589.4,225.0 611.8,195.6 604.4,194.0 591.3,206.2 529.3,263.4 707.1,96.4 579.4,225.2 636.9,164.5 647.4,153.8 527.1,274.2 675.0,125.6 504.4,305.0 584.7,220.6 529.7,271.2 506.2,306.2 574.9,238.2 523.3,275.4 607.8,192.5 559.3,242.2 531.6,268.3 494.3,304.0 592.6,204.1 584.6,222.7 611.2,199.6 548.0,260.4 638.5,168.2 496.0,300.2 640.0,157.6 604.0,204.2 507.4,295.1 706.2,97.4 505.6,283.2 601.8,195.2 527.9,281.5 592.4,221.2 617.6,189.4 509.7,294.2 539.5,272.3 632.1,172.8 561.6,235.8 514.7,283.6 505.2,283.2 510.4,288.4 507.9,301.3 544.2,253.9 606.1,198.2 558.0,242.4 506.8,295.1 543.6,259.3 562.5,241.6 557.4,255.5 585.2,225.8 590.9,219.2 601.2,202.1 570.0,230.4 497.0,304.3 604.9,203.4 607.2,190.2 598.3,214.6 555.8,239.8 629.7,173.8 506.5,295.5 600.0,211.9 578.8,217.1 593.8,212.9 502.3,299.9 671.0,129.2 497.0,306.2 518.2,306.2 567.2,232.9 575.4,241.1 518.3,278.0 534.1,282.4 638.6,166.1 539.0,266.4 556.9,245.3 508.7,292.5 574.8,229.8 593.9,202.8 600.1,197.8 526.2,264.7 546.0,254.2 587.1,217.4 682.4,121.0 604.9,193.4 524.3,288.2 502.1,298.8 540.0,272.0 569.1,246.4 531.9,274.4 608.4,190.4 529.7,283.3 510.5,304.9 579.6,226.7 603.3,209.1 522.2,280.9 540.8,260.9 530.2,273.0 496.8,306.2 591.2,214.3 500.0,306.2 581.0,227.5 583.2,233.7 569.2,243.4 498.8,306.2 498.0,296.7 567.0,230.8 563.5,250.1 494.9,306.2 494.2,306.2 605.5,206.3 539.5,262.1 596.3,199.3 521.3,279.7 531.0,284.1 633.0,167.2 521.2,272.8 551.6,251.9 564.6,240.4 595.6,204.1 539.0,265.8 586.4,225.4 524.7,289.2 591.0,213.9 495.7,292.5 519.6,278.5 501.4,293.2 507.4,288.9 601.3,200.1 559.7,235.0 607.2,195.6 686.7,115.9 519.5,297.3 604.7,201.6 680.0,116.0 537.3,258.5 503.8,294.6 559.3,255.7 571.0,243.8 592.0,222.5 575.1,226.9 536.2,264.2 516.1,284.7 541.7,252.0 560.3,245.6 519.4,289.4 535.8,259.0 628.9,173.8 553.8,254.1 510.7,291.8 588.8,219.8 543.9,258.5 567.0,241.9 549.3,253.2 509.2,285.0 599.5,204.5 574.8,230.4 708.6,96.0 493.3,306.2 576.0,231.3 554.1,255.3 555.4,243.2 597.2,214.0 527.6,263.6 550.4,262.0 511.9,305.7 574.5,225.7 555.8,255.5 498.8,306.2 525.9,271.2 549.7,263.5 569.4,232.0 506.0,287.8 582.1,229.8 613.6,197.0 540.7,258.3 502.3,288.4 513.8,274.0 603.7,200.0 569.5,234.8 512.3,274.5 516.9,298.8 616.8,189.4 590.8,210.6 593.1,204.8 512.9,283.0 710.5,93.0 529.3,275.0 543.8,250.1 526.4,269.6 650.5,153.1 583.8,223.5 572.5,226.4 552.5,249.2 596.4,203.7 560.3,239.8 559.3,248.7 514.6,284.1 614.8,191.6 502.2,306.2 636.0,166.2 639.1,161.2 568.2,231.6 516.2,285.2 524.1,290.4 512.8,293.1 593.9,205.7 545.0,260.9 699.2,110.1 541.9,264.4 540.3,268.8 590.4,206.8 627.4,181.4 568.7,231.0 510.3,287.3 517.3,298.7 596.0,218.5 604.2,205.3 709.8,99.3 575.4,224.3 607.0,200.1 590.1,207.6 572.0,241.2 611.8,203.7 522.1,275.2 514.7,306.2 537.4,253.6 548.2,255.2 654.3,150.3 615.1,187.3 600.7,203.6 631.0,174.0 548.0,258.1 702.8,97.4 636.0,166.4 519.4,274.9 547.2,254.2 537.1,259.1 520.5,283.2 647.8,155.9 549.1,262.5 625.0,177.9 578.8,222.6 501.3,298.9 555.2,257.3 606.7,197.2 538.7,274.2 534.9,267.5 506.1,295.6 561.1,249.9 650.3,154.6 495.3,306.2 629.7,176.4 579.2,231.7 533.1,268.9 633.1,170.7 643.4,163.8 682.9,121.3 559.5,243.1 552.5,246.5 588.6,221.2 630.3,177.1 543.2,255.8 540.6,258.7 551.7,259.4 495.7,306.2 618.2,192.9 558.7,253.4 560.0,246.5 584.0,227.2 611.9,187.9 594.6,205.6 540.8,257.4 535.2,270.7 540.7,278.6 569.5,230.1 612.3,192.9 493.8,305.5 580.0,224.0 619.1,187.9 573.7,230.8 547.7,245.8 561.1,236.5 566.9,237.5 583.2,230.4 503.5,295.1 608.9,194.1 572.3,240.5 532.7,264.1 638.8,165.7 550.2,255.6 605.8,200.1 535.6,257.0 571.8,233.7 520.1,281.8 532.1,278.7 540.2,258.4 513.4,288.2 603.3,198.4 557.7,255.0 542.8,253.4 577.1,222.4 525.8,270.6 555.9,243.9 574.6,228.3 581.6,220.0 553.6,257.5 600.4,200.8 624.4,183.8 664.4,135.3 573.5,232.0 666.4,139.1 648.3,153.6 587.3,216.2 512.1,303.9 585.2,219.4 569.3,245.0 594.1,203.7 531.7,268.6 713.6,90.0 542.7,259.6 724.4,82.5 532.6,268.5 561.6,237.8 591.1,213.2 530.1,263.8 551.3,250.6 588.2,211.0 602.0,202.5 639.2,162.6 572.3,236.6 663.9,136.2 533.4,271.2 580.6,231.2 602.8,202.5 504.6,289.5 607.9,202.9 613.9,193.1 573.9,234.3 641.8,163.5 593.7,207.6 545.6,259.5 611.5,198.8 567.6,236.8 591.3,211.8 707.6,101.5 593.2,211.6 606.2,195.9 613.3,193.5 521.6,287.6 498.1,296.6 503.6,286.2 559.8,241.1 667.0,138.0 557.1,245.3 641.9,165.8 535.0,278.2 513.1,287.7 551.3,258.6 619.2,189.6 669.5,131.0 570.4,236.9 547.5,247.5 608.0,202.8 554.0,252.9 536.3,274.9 602.6,196.9 504.6,305.7 606.1,199.4 657.1,144.9 507.5,291.9 607.0,194.7 496.0,302.2 510.7,286.9 534.9,274.3 723.7,84.6 500.3,297.0 558.5,257.1 556.5,244.7 518.2,295.9 691.9,111.3 526.8,280.2 634.0,167.7 571.1,224.6 595.7,209.2 600.5,207.6 590.1,215.4 612.0,192.1 628.2,175.4 513.1,296.6 505.5,291.8 558.1,246.6 508.2,297.6 578.0,233.1 649.9,154.4 567.0,224.0 516.9,284.4 509.5,289.1 569.5,244.8 600.5,203.1 611.4,195.7 602.5,197.2 559.7,246.9 626.6,171.8 570.7,236.4 591.3,215.9 493.0,306.2 563.5,235.4 505.2,306.2 523.3,280.6 536.1,278.4 575.5,222.6 503.7,286.6 595.6,212.9 549.6,250.0 524.1,273.0 658.2,150.0 588.1,219.7 541.1,259.0 510.4,292.4 563.4,240.4 605.2,206.5 566.6,234.0 537.4,257.7 508.9,295.0 525.0,289.2 608.5,203.2 515.7,291.9 697.0,109.2 598.3,201.7 550.9,243.0 519.9,282.3 559.9,248.6 656.1,146.9 509.8,278.5 527.8,276.4 503.7,306.2 597.4,215.5 655.1,142.2 573.0,228.0 535.6,272.7 664.9,141.4 577.4,222.3 661.5,147.0 546.5,265.3 513.7,292.2 502.7,305.9 531.2,275.8 555.2,249.7 603.8,206.9 560.3,234.6 531.5,269.6 633.7,169.0 576.0,220.4 579.7,226.7 614.1,192.2 589.5,212.6 527.5,274.1 656.3,148.6 515.9,274.9 515.8,289.1 586.3,227.8 576.8,235.0 525.7,270.6 594.1,201.6 507.0,300.5 561.3,240.9 652.8,152.1 632.3,172.0 579.8,235.0 609.0,195.1 588.4,218.0 526.3,277.1 622.4,180.7 580.9,233.3 578.7,228.1 656.5,148.2 573.4,236.5 539.7,263.2 553.6,248.1 572.9,229.6 625.7,182.2 618.7,185.8 550.1,245.1 563.2,243.2 499.8,306.2 584.9,215.9 610.7,194.0 521.2,271.4 584.4,227.2 512.9,294.1 618.0,181.6 598.4,207.7 646.5,160.5 533.6,265.4 517.2,278.9 575.1,232.0 501.0,295.0 614.3,196.3 522.2,292.9 511.9,300.9 514.0,288.1 594.3,217.7 499.8,306.2 553.5,260.3 518.9,279.4 606.8,199.5 500.4,287.5 521.0,282.6 605.2,197.8 567.1,233.1 509.3,281.8 710.0,100.6 546.2,266.4 553.2,258.7 600.2,204.8 563.7,243.9 616.0,192.3 570.0,226.1 528.1,269.1 570.0,222.6 617.9,179.0 533.1,281.4 584.4,213.7 576.3,227.6 592.7,209.6 544.6,252.7 525.4,276.9 588.6,217.3 619.9,180.5 560.7,243.8 512.4,278.1 611.0,194.8 568.9,233.2 591.2,205.1 507.3,288.1 607.5,191.8 546.4,259.8 630.6,170.0 528.4,288.4 493.5,298.6 538.7,254.9 597.4,207.8 596.8,200.2 619.9,187.0 523.0,278.7 578.4,227.8 503.2,300.0 525.1,276.4 499.2,306.2 583.5,215.0 632.2,171.8 579.4,234.5 579.7,224.9 634.8,170.4 540.2,257.3 573.0,236.7 612.0,193.9 520.7,285.6 594.2,205.0 503.8,285.7 546.0,263.7 519.3,287.5 555.1,247.2 522.1,268.8 501.5,306.2 556.8,250.7 549.0,250.8 599.0,206.2 494.7,306.2 584.4,225.5 499.0,298.3 562.8,241.0 495.6,306.2 637.1,166.2 563.1,246.3 561.5,237.5 502.9,298.9 607.8,198.1 531.1,260.9 560.5,251.4 597.1,207.7 608.7,194.4 548.4,245.7 501.4,305.9 704.5,100.2 529.5,268.0 498.7,306.2 582.2,214.3 626.1,176.9 505.3,304.5 499.2,306.2 590.4,222.4 575.3,236.3 530.0,286.4 530.9,273.3 604.5,201.4 495.7,303.2 527.4,276.7 545.0,268.1 605.7,196.6 538.0,257.0 500.5,294.5 600.5,195.7 592.0,219.3 511.0,280.8 598.1,212.7 582.6,221.6 545.8,259.1 576.1,237.3 565.2,238.8 609.1,197.7 655.5,143.7 541.9,255.7 505.7,290.3 545.3,255.5 579.2,218.5 529.7,285.5 515.0,296.0 523.2,294.0 620.1,190.7 595.9,209.6 510.8,289.7 535.9,269.8 531.8,279.3 508.9,294.4 618.0,187.4 534.4,275.4 574.2,240.2 547.9,254.1 502.8,293.9 497.9,302.9 593.0,212.6 583.3,221.1 563.7,244.4 518.2,269.5 541.8,262.7 565.8,246.6 523.8,276.3 575.9,224.5 618.1,185.2 518.3,282.2 644.9,156.0 566.0,236.5 691.5,111.9 670.2,138.6 501.9,288.8 591.1,214.6 527.8,269.7 582.3,213.2 630.5,175.3 558.8,251.6 586.9,209.0 589.1,219.6 519.7,273.3 554.1,250.7 534.7,271.6 562.4,244.4 603.7,210.3 513.6,275.6 572.5,239.3 565.4,244.8 548.2,253.3 618.6,184.4 543.2,275.1 610.2,192.5 502.8,301.7 556.1,237.5 508.4,304.8 619.7,180.3 588.6,221.9 523.3,271.9 546.4,253.9 511.0,303.2 629.2,173.3 631.4,168.6 631.3,173.2 580.1,226.4 530.8,265.8 558.5,249.5 588.6,217.5 554.1,251.0 501.0,302.1 568.5,232.8 505.3,297.3 526.6,278.4 613.5,183.9 581.3,222.9 609.7,200.4 590.7,213.1 587.6,220.6 528.3,289.5 595.0,209.4 510.9,295.2 495.3,298.7 541.6,258.0 515.3,284.3 593.0,206.1 533.9,276.5 497.6,306.2 605.9,196.1 646.7,161.1 595.4,218.1 657.9,144.5 607.2,192.7 644.2,155.6 589.8,217.0 607.5,199.2 609.4,202.0 509.5,293.8 538.8,259.2 581.7,213.8 539.1,265.7 625.9,175.7 500.5,306.2 511.1,305.0 540.0,259.2 542.1,260.3 616.7,184.3 494.8,306.2 615.5,191.5 681.4,125.0 499.8,297.0 655.7,146.0 588.0,214.5 511.7,303.4 616.4,185.8 509.8,305.5 548.1,253.8 527.1,277.5 548.1,257.5 513.7,293.6 547.4,245.9 574.8,233.2 559.7,248.8 568.0,243.7 631.6,172.6 620.8,188.7 508.9,286.3 599.1,206.2 609.5,198.9 636.6,164.6 549.4,249.1 641.6,170.3 573.0,225.7 560.3,242.7 566.0,241.8 552.2,258.3 592.3,209.2 569.4,228.2 627.3,178.6 560.4,224.3 500.2,305.4 515.3,293.5 552.2,246.2 560.7,242.3 612.8,196.6 577.9,234.4 517.1,287.7 536.3,264.8 570.1,245.2 609.0,195.6 595.1,212.2 585.1,218.3 529.5,281.9 575.0,235.6 528.1,296.1 502.1,288.2 603.0,202.4 586.5,222.8 707.8,97.3 601.1,205.3 529.1,288.7 496.7,306.2 554.8,249.9 541.7,257.4 567.1,229.4 546.7,256.9 499.6,294.8 502.5,306.2 544.4,252.1 577.7,218.3 518.0,272.8 518.6,281.0 526.1,266.9 600.2,207.6 603.9,201.2 563.0,239.5 500.5,297.7 649.3,156.4 624.9,178.2 536.2,275.8 493.9,295.4 563.7,231.4 516.9,295.7 547.5,255.3 550.4,260.1 537.6,263.3 638.0,162.8 548.9,260.7 508.8,291.4 575.7,225.2 630.1,163.3 526.1,272.1 565.9,240.6 547.2,263.2 590.2,212.5 537.7,265.5 529.5,273.6 662.1,139.7 614.8,186.5 594.2,210.1 587.4,224.7 646.2,155.5 500.9,306.2 556.3,248.6 582.6,214.4 511.2,287.2 717.0,86.1 591.8,220.9 603.1,201.5 667.5,138.8 576.1,220.3 637.9,166.4 546.5,252.5 641.0,161.4 565.9,240.2 605.8,198.5 531.9,266.7 561.4,247.9 573.0,236.0 567.1,234.0 641.7,161.8 558.6,248.2 626.8,177.1 508.7,300.7 523.0,294.4 518.0,279.8 519.0,277.4 577.2,236.0 507.3,297.1 589.9,213.3 625.6,178.9 641.4,164.3 500.6,284.0 528.2,272.5 556.3,240.1 494.7,296.5 589.9,206.1 558.3,255.9 554.3,247.8 515.1,297.4 502.6,305.9 628.9,175.4 579.1,230.3 542.7,260.5 627.9,176.4 509.5,302.8 550.1,252.0 503.2,306.2 609.1,202.5 628.6,174.5 533.8,275.8 613.7,194.5 655.6,150.9 525.9,286.2 667.1,139.1 541.1,271.0 595.0,209.5 570.1,245.4 543.1,250.4 579.5,220.1 492.8,306.2 565.1,249.1 564.7,241.5 584.2,220.3 604.1,196.5 627.9,172.4 610.6,200.2 625.6,177.8 546.9,263.9 507.9,305.3 586.6,214.5 499.1,291.1 657.5,145.1 562.3,250.8 529.7,273.7 497.1,301.1 618.9,188.3 616.9,188.8 512.0,283.2 605.3,203.7 505.2,305.0 593.2,213.7 569.6,245.0 585.2,220.0 512.4,303.8 608.9,197.5 607.9,191.8 618.6,178.8 550.8,249.7 530.0,287.4 572.0,226.4 593.5,213.1 603.3,201.3 557.5,247.8 580.6,223.4 586.0,219.3 578.1,215.5 596.5,208.7 537.3,254.3 526.6,277.9 534.3,258.5 608.8,187.8 671.9,127.2 538.5,262.5 587.1,212.5 576.6,226.4 627.9,179.3 494.8,300.5 582.4,218.2 625.2,179.9 666.1,137.3 552.8,260.1 562.2,249.9 618.2,186.6 646.6,155.9 526.7,267.8 630.0,176.7 510.0,282.4 500.1,299.6 497.4,299.5 503.5,297.2 506.5,291.1 526.5,279.2 534.2,270.7 674.1,124.0 610.7,188.3 507.6,295.6 520.5,268.8 592.8,211.1 579.4,222.1 557.0,257.5 554.1,256.0 600.9,207.5 563.6,240.9 596.8,202.8 494.3,306.2 507.1,297.8 519.5,281.8 578.2,227.9 576.7,238.3 624.9,178.7 629.7,179.0 611.7,192.8 540.5,257.4 501.1,299.4 629.2,178.1 644.7,158.0 496.2,303.3 493.2,301.9 518.3,277.6 544.7,248.0 594.6,206.7 558.5,238.4 588.1,216.8 612.9,192.7 518.1,277.9 537.4,265.3 677.4,127.7 570.8,238.4 563.8,242.8 572.2,238.1 571.7,243.8 597.5,200.4 625.3,172.2 582.8,223.6 583.8,211.8 576.2,230.2 527.2,272.6 603.9,205.9 521.3,280.0 529.8,260.0 541.7,262.9 568.4,236.1 613.7,197.6 544.1,264.8 579.7,233.2 555.5,247.0 557.1,247.0 668.1,136.8 586.2,220.7 495.2,300.6 623.8,178.8 565.0,243.6 664.6,140.4 510.6,302.8 661.2,148.0 587.3,225.0 582.4,228.1 564.5,245.7 669.1,128.7 617.5,184.9 568.3,240.7 546.8,254.8 548.7,262.2 561.6,238.8 518.6,272.6 526.4,280.2 588.2,214.2 605.1,200.2 635.7,164.3 515.5,297.6 537.3,270.7 519.3,276.7 583.1,213.0 536.2,267.6 538.9,261.2 502.4,306.2 605.5,200.0 645.4,154.8 512.3,288.2 563.4,232.5 607.6,199.3 625.0,179.8 543.4,258.1 501.3,297.7 604.3,196.6 595.2,210.1 549.8,247.0 700.0,101.2 596.2,217.2 575.0,228.0 577.8,233.3 504.2,300.6 661.2,140.6 709.7,96.9 516.4,293.8 604.7,188.6 576.3,219.4 549.6,263.7 577.9,220.6 510.1,290.7 543.2,257.7 540.8,272.1 591.0,212.8 568.9,232.0 496.4,303.9 534.3,273.6 548.1,259.2 545.1,266.6 607.9,200.3 615.9,192.3 655.6,148.4 649.5,150.5 563.2,235.9 573.3,233.7 579.7,223.3 565.9,239.1 498.1,303.2 508.6,304.0 609.6,195.6 602.1,205.9 537.5,253.6 521.2,291.7 574.8,229.9 620.0,182.4 500.6,298.2 586.8,208.8 525.2,287.6 529.6,276.0 556.4,253.4 516.3,300.8 600.8,197.4 506.5,292.0 564.2,231.4 589.2,217.2 616.1,192.1 572.5,235.8 511.4,296.5 611.9,187.0 648.5,157.0 497.0,305.5 638.6,167.2 582.4,226.2 578.9,223.9 548.7,253.1 516.1,275.9 579.4,235.0 629.2,168.4 496.1,302.7 572.8,234.2 584.7,217.9 640.1,162.5 494.8,299.0 546.0,255.8 511.0,289.4 537.5,261.4 635.9,166.4 518.6,286.2 544.5,250.2 614.4,189.7 601.5,205.9 639.3,168.8 510.5,287.3 503.0,306.2 524.7,276.5 564.1,247.6 590.8,211.5 509.6,295.5 583.3,215.2 524.7,286.9 663.7,135.7 572.9,239.0 512.8,287.5 616.7,188.1 564.0,242.4 604.9,196.5 570.9,234.5 629.2,176.8 533.3,257.6 674.8,127.0 495.2,306.2 547.1,260.0 515.4,278.7 706.6,98.8 495.5,303.8 534.3,266.7 548.7,250.5 503.5,306.2 639.7,166.6 605.1,195.6 570.4,243.5 551.3,262.4 520.7,277.5 516.4,288.3 551.3,249.2 581.2,232.9 621.3,186.7 527.8,271.2 623.4,181.0 588.2,215.2 515.6,274.9 497.2,306.2 496.2,306.2 665.2,134.4 528.1,290.1 502.2,294.0 587.8,221.7 532.4,267.8 651.1,152.4 588.5,214.2 629.7,174.4 586.6,216.6 598.7,202.8 559.2,245.6 554.0,241.0 606.9,198.1 519.0,288.2 502.1,279.7 637.2,162.0 548.0,261.8 573.4,230.7 549.6,250.7 600.6,205.1 606.1,194.4 519.1,278.8 605.3,198.7 538.5,269.1 574.9,236.2 562.4,248.3 619.6,190.1 553.0,245.8 615.2,183.4 649.6,151.5 575.7,223.3 613.3,191.4 629.8,178.9 525.6,292.0 557.8,245.5 634.0,167.4 603.4,202.1 619.7,181.6 579.6,225.4 547.4,257.1 607.9,200.6 542.5,253.8 576.7,230.0 523.1,288.2 550.5,247.7 557.4,256.2 509.1,284.4 507.3,286.0 629.4,169.9 704.4,98.5 516.0,289.9 545.5,255.2 590.0,211.8 513.3,285.7 502.3,287.6 635.5,169.2 533.4,280.2 658.4,144.1 567.8,235.3 577.4,230.0 570.6,232.5 565.9,249.9 531.4,283.1 583.1,225.0 556.2,245.7 620.1,189.7 534.4,267.3 520.5,288.3 623.0,181.5 570.0,244.8 525.7,267.7 606.3,193.1 534.0,264.6 596.7,208.1 587.4,214.9 534.8,278.1 585.4,221.3 563.3,242.0 496.9,306.2 692.2,111.9 530.3,276.6 548.1,256.2 627.9,175.8 592.3,214.0 517.2,283.2 585.3,215.6 495.8,293.2 601.4,205.1 580.0,226.6 588.3,218.6 574.6,230.6 543.8,255.1 587.3,217.4 559.0,243.7 601.4,200.7 497.7,302.3 530.9,283.5 515.2,293.5 566.5,240.8 582.3,218.8 524.4,270.7 652.3,148.5 546.2,253.6 494.6,295.7 597.8,201.5 508.8,305.9 494.7,293.4 534.4,270.1 560.4,244.0 527.4,267.2 540.4,255.6 511.6,296.4 544.2,258.6 609.5,202.8 537.6,257.0 576.6,230.9 523.0,285.3 510.6,304.7 538.6,268.7 497.4,299.9 561.0,244.2 594.6,199.5 553.5,242.5 525.2,274.6 539.5,263.7 614.0,193.8 527.5,285.8 540.5,267.8 591.8,207.0 528.6,288.0 644.4,159.9 517.6,287.2 496.2,297.5 554.3,251.9 570.7,228.4 574.9,234.0 539.4,262.6 606.7,203.1 619.3,190.7 563.1,250.7 614.1,190.4 611.1,190.3 518.4,283.7 512.9,280.3 511.7,277.4 505.1,304.2 606.1,191.3 547.8,257.1 513.1,284.3 571.9,243.2 535.4,263.8 499.5,306.2 552.5,258.5 615.3,196.4 594.5,208.4 704.0,101.3 561.2,251.9 664.3,134.8 547.9,247.5 563.3,246.4 600.9,209.1 558.9,241.4 516.8,299.9 595.3,206.9 639.0,165.8 544.1,245.5 552.7,254.4 537.3,263.5 592.1,207.1 563.7,240.2 525.8,263.2 633.1,167.3 494.7,306.2 617.1,184.5 623.8,183.3 506.3,302.7 495.1,306.2 586.0,217.3 576.9,220.0 517.6,281.0 555.1,249.3 506.5,288.3 552.4,245.8 568.5,238.6 632.0,171.8 546.8,261.0 515.5,276.6 655.4,142.6 584.6,224.3 512.1,303.5 501.3,295.6 547.7,249.8 527.6,275.7 545.6,245.0 531.9,264.7 637.7,167.1 612.5,198.3 589.5,219.5 505.6,301.0 608.7,202.3 550.0,260.1 624.9,176.0 500.0,306.2 513.7,288.3 511.4,283.5 613.3,197.7 656.9,144.1 600.9,209.5 537.1,268.2 500.1,306.2 665.0,136.9 517.3,275.9 612.2,188.3 560.7,253.8 541.6,261.0 551.9,244.2 503.8,306.2 509.5,283.6 624.5,174.5 558.0,248.6 589.7,218.5 540.7,256.6 562.3,240.4 609.3,191.2 585.9,218.8 550.2,245.5 559.2,235.6 705.1,99.3 497.3,298.9 550.7,254.4 511.4,280.6 507.8,282.7 500.3,306.2 604.2,207.1 558.6,254.5 571.9,235.9 536.2,267.7 549.6,251.9 557.9,251.0 615.9,186.7 505.8,284.3 518.6,270.4 517.1,292.0 559.9,242.7 561.6,236.5 590.9,210.6 707.8,91.3 639.3,163.5 527.3,260.2 551.5,256.2 569.3,237.4 608.6,195.1 566.5,246.7 515.7,274.4 499.9,306.2 541.7,255.4 580.3,229.5 518.6,267.1 558.3,250.2 548.0,251.5 661.7,145.6 593.7,220.7 687.9,121.1 567.6,233.9 563.6,238.6 691.1,112.8 551.5,247.9 572.5,226.1 496.1,298.2 517.0,293.8 534.1,271.8 528.0,278.2 555.2,242.7 630.4,175.9 522.9,292.5 499.5,294.1 573.9,227.6 545.1,255.2 499.4,306.2 603.2,195.4 648.0,153.9 600.8,195.5 610.2,192.1 603.0,200.0 693.3,114.3 512.8,293.0 627.0,172.9 594.0,213.7 654.3,151.3 619.8,181.0 572.4,235.2 587.7,208.0 528.2,268.3 540.9,269.7 514.2,289.9 550.8,261.6 615.4,191.3 541.9,250.0 628.3,180.0 520.9,281.3 586.1,223.4 526.4,278.2 584.6,221.9 607.8,199.0 627.4,176.4 603.6,196.4 513.2,301.2 591.6,211.2 535.1,269.1 565.7,244.6 513.0,290.9 556.5,243.4 587.7,211.1 509.1,302.9 577.7,221.1 629.2,169.7 568.7,233.3 539.8,258.3 522.4,277.7 559.6,238.2 549.6,252.4 592.8,215.2 600.0,212.1 593.4,215.8 602.9,198.8 608.4,195.3 597.7,203.5 528.8,271.9 576.0,237.3 549.1,258.7 503.8,288.3 583.5,213.4 513.1,278.0 591.7,209.7 570.3,237.2 502.9,304.7 553.5,253.8 571.6,235.9 528.6,287.6 644.9,157.3 655.1,146.1 507.6,285.3 596.4,204.5 554.4,251.5 616.8,186.7 647.6,150.0 564.9,230.5 584.2,222.2 545.7,262.6 588.8,212.5 711.0,91.4 540.6,262.6 496.9,305.2 678.0,123.5 496.6,306.2 592.0,218.1 576.4,226.0 551.0,253.0 644.3,156.7 510.0,286.0 527.1,283.6 615.9,181.1 493.6,306.2 530.6,271.1 517.1,278.5 553.4,240.9 599.4,204.6 656.2,152.2 527.9,279.7 494.5,306.2 600.3,202.9 636.7,166.9 494.7,306.2 581.3,231.3 578.4,220.0 572.8,234.8 583.2,220.1 532.9,274.5 631.8,171.1 524.6,269.4 651.9,153.8 655.6,149.9 616.4,183.7 548.5,250.5 652.9,147.4 523.6,280.8 563.6,233.3 565.5,232.1 512.8,284.6 705.0,99.8 518.8,277.3 561.9,241.7 505.0,293.2 533.2,274.7 616.2,195.1 590.7,209.2 545.3,256.2 586.4,220.0 517.2,293.8 587.9,216.5 630.6,168.1 494.7,305.2 535.9,263.5 529.7,274.6 505.4,306.2 638.6,167.6 592.2,221.9 581.5,225.4 581.1,217.8 589.8,223.1 533.8,274.4 521.7,278.5 503.7,296.0 515.1,284.7 521.3,275.8 609.7,194.3 539.2,254.6 548.5,246.4 599.9,197.9 671.8,131.7 507.6,284.0 577.4,236.0 553.0,256.1 518.8,297.7 541.7,267.3 607.2,204.5 531.4,271.0 573.5,241.4 558.4,252.9 495.3,306.2 622.7,181.2 623.2,181.0 617.3,189.6 555.5,254.6 554.6,246.5 589.9,215.7 705.1,98.6 564.7,242.9 535.7,271.9 561.2,238.0 575.2,223.7 583.6,221.4 649.1,157.5 576.2,224.3 614.5,188.4 560.8,253.8 558.1,254.4 635.7,166.8 533.7,271.6 536.3,273.5 571.6,241.9 508.7,288.6 516.5,286.8 567.2,235.5 585.1,215.9 695.0,109.7 508.9,294.4 498.7,306.2 592.0,214.1 632.3,173.9 505.9,295.1 535.6,265.6 591.0,206.7 585.2,215.5 625.1,183.5 588.3,215.3 653.3,153.4 535.0,267.7 600.8,208.6 577.8,228.3 549.5,260.8 596.9,200.2 619.4,183.2 576.3,227.3 596.2,212.1 552.1,244.1 622.8,181.0 548.2,257.7 582.7,221.6 578.7,222.6 566.8,232.7 639.7,161.5 594.3,215.1 577.7,226.8 595.8,205.4 595.1,213.8 540.4,255.8 538.3,260.4 580.7,222.5 512.8,292.6 612.3,194.7 604.8,192.9 585.2,220.4 540.7,270.0 693.2,115.1 600.3,213.3 623.1,179.5 596.7,200.6 573.3,232.0 533.6,276.2 518.7,284.4 613.4,198.8 582.4,222.1 526.8,287.5 522.8,278.5 562.9,238.5 584.3,219.2 603.6,207.2 562.0,246.9 528.8,262.8 590.4,220.6 511.4,289.7 517.4,289.2 546.3,259.3 573.8,240.3 495.4,293.0 512.2,302.2 594.9,208.5 552.0,254.6 557.2,256.4 560.8,241.2 517.9,282.5 666.1,138.2 641.6,161.3 584.2,224.5 505.9,304.3 591.9,214.2 611.9,193.1 541.0,268.9 514.4,287.7 597.8,207.8 584.4,219.5 549.3,249.8 535.3,266.8 643.9,162.2 505.2,290.0 537.4,267.5 561.8,235.4 577.7,231.2 529.6,275.2 578.4,226.5 508.9,289.4 569.4,233.5 504.9,299.5 549.0,254.2 595.6,210.2 521.5,291.3 514.6,299.0 666.6,139.6 554.6,244.5 500.9,304.7 554.1,249.9 532.0,262.6 613.6,181.0 627.6,178.5 603.6,203.6 589.9,209.6 575.1,222.2 501.0,303.0 586.6,219.5 548.5,257.5 533.3,260.2 574.2,223.7 527.6,276.0 706.4,101.7 579.0,231.9 601.4,211.0 508.3,296.6 497.9,303.0 517.5,281.1 519.3,279.5 572.1,227.3 587.4,220.1 632.3,170.2 506.4,302.8 564.5,231.3 587.9,225.7 552.7,258.3 503.1,303.3 506.6,292.6 493.9,301.6 539.0,256.8 515.8,279.1 654.2,146.3 583.7,214.4 506.8,301.7 588.7,223.2 565.5,236.8 616.2,194.8 519.8,278.3 542.7,254.9 563.2,237.7 566.5,242.8 513.3,293.1 616.2,184.1 515.4,277.2 559.5,247.0 574.8,239.8 555.9,249.6 541.8,258.9 597.1,199.0 568.3,247.1 591.3,209.6 603.6,199.7 641.9,163.3 563.8,238.2 552.9,259.5 640.3,161.3 666.8,139.6 626.0,174.9 522.0,271.8 636.3,171.0 586.0,219.9 568.1,239.5 511.6,306.2 516.1,283.8 624.2,179.3 534.3,273.2 561.1,243.0 554.4,246.5 548.3,245.2 554.1,249.0 533.1,276.1 633.5,168.1 566.9,239.2 535.1,264.8 523.3,289.0 610.5,196.5 608.3,202.5 614.3,191.4 578.6,224.6 540.3,263.7 523.2,283.1 546.5,248.4 505.6,296.2 532.4,260.2 542.8,267.4 509.3,286.2 514.6,298.1 509.9,283.7 548.8,265.2 643.0,162.4 660.7,145.5 507.6,306.2 578.6,225.9 493.4,306.2 588.9,214.3 583.0,227.5 566.7,242.7 532.8,259.8 559.8,247.4 498.2,298.3 587.3,210.4 606.3,200.4 505.0,306.2 723.0,83.3 518.2,269.4 638.8,164.4 693.6,108.6 553.9,254.4 618.4,192.6 573.8,239.4 532.0,270.4 591.9,206.1 544.5,253.3 514.8,281.4 605.2,205.6 520.1,283.0 646.4,156.1 521.3,265.2 539.3,259.7 610.5,193.1 617.4,187.5 550.6,253.0 580.6,229.0 651.1,152.5 534.6,263.8 531.4,261.7 507.8,291.5 592.1,219.2 592.4,210.7 510.4,291.4 596.8,210.6 534.2,269.6 566.5,236.7 573.8,225.3 576.9,227.3 572.4,230.4 550.3,254.8 593.9,213.2 523.0,276.8 625.1,180.5 548.7,258.8 605.4,205.8 580.5,227.5 557.8,240.7 561.3,242.6 568.5,234.5 553.1,258.1 573.7,229.6 561.4,246.6 619.0,186.6 530.4,270.6 602.0,207.3 552.1,254.6 620.8,185.3 615.7,195.9 503.5,303.1 643.3,164.7 612.6,189.0 587.3,219.9 520.3,290.1 616.6,184.3 578.1,222.4 526.1,269.4 585.0,212.5 510.0,295.7 593.7,220.9 520.5,251.6 536.8,263.7 495.9,306.2 546.6,250.7 580.2,230.4 587.4,213.3 552.7,247.0 533.1,262.0 506.4,289.0 544.1,257.4 607.0,203.2 645.9,157.2 640.7,161.9 504.8,297.0 511.1,276.0 545.8,260.9 573.4,240.9 499.9,293.4 505.6,306.2 615.1,187.3 718.6,86.6 555.9,254.7 608.9,191.8 594.2,202.7 604.7,197.6 553.4,247.8 644.1,160.9 510.4,299.8 531.1,273.2 584.4,228.5 528.7,266.6 618.0,187.5 614.4,190.5 608.3,199.9 627.3,179.2 584.4,224.9 519.0,281.6 540.1,262.2 493.3,306.2 549.7,247.1 584.5,217.3 593.3,214.6 596.0,212.6 530.1,271.6 641.8,164.9 571.3,237.6 522.6,278.3 647.6,147.6 589.7,213.5 591.2,218.8 580.4,222.9 492.8,306.2 572.3,231.4 597.1,195.7 588.8,210.0 523.7,293.8 561.2,245.7 597.4,201.2 634.2,169.3 525.8,275.0 575.4,221.3 502.6,298.3 518.0,296.3 547.4,264.7 495.1,306.2 543.8,254.5 625.4,178.2 536.3,272.9 514.4,296.0 507.7,306.2 572.4,232.5 550.7,260.5 583.1,216.0 550.7,250.0 568.8,245.9 551.2,251.4 534.3,273.4 494.1,304.3 533.5,283.2 600.3,201.1 542.5,262.6 605.3,200.6 498.7,305.6 594.3,214.8 615.2,189.6 527.8,281.2 547.4,247.9 530.8,275.1 555.6,243.4 640.1,163.9 593.3,212.8 507.7,297.1 718.9,84.7 590.8,213.4 612.9,184.8 618.2,179.6 640.2,162.6 606.1,191.2 531.6,285.8 601.1,205.9 589.2,220.6 552.9,256.1 625.2,180.7 494.3,299.3 565.5,247.7 629.0,176.7 569.5,220.8 547.8,245.2 508.2,300.9 520.1,274.9 530.9,265.5 713.8,89.3 571.8,234.2 537.0,266.2 629.7,172.5 580.8,224.2 535.2,272.9 587.1,209.9 496.3,306.2 568.0,227.1 568.6,227.8 502.5,287.9 588.0,214.3 496.0,306.2 520.7,270.4 600.2,200.7 550.6,255.9 596.9,202.2 570.5,239.8 559.7,236.6 578.2,234.8 495.6,300.5 493.1,306.2 648.1,155.6 592.3,211.1 519.2,273.1 592.8,217.8 642.7,157.7 617.6,188.2 585.3,217.5 568.5,226.7 582.5,224.6 519.0,273.5 557.1,255.1 626.7,175.7 545.1,251.5 531.3,253.3 567.8,240.7 612.7,198.2 628.4,169.8 722.3,88.2 665.4,136.7 508.2,274.4 558.5,237.5 572.4,234.8 590.5,211.1 508.7,288.6 545.2,249.3 547.0,248.5 580.4,226.6 545.9,258.4 538.2,260.5 519.5,279.6 588.4,209.0 537.2,272.4 522.2,275.2 637.3,167.7 548.2,261.9 533.9,268.0 505.7,306.2 567.7,238.0 541.9,258.8 577.1,229.3 537.5,272.1 560.4,236.2 511.2,277.2 501.6,306.2 645.9,157.3 599.1,207.0 553.2,247.5 521.4,273.5 588.4,217.8 579.7,223.3 582.3,229.3 691.6,114.9 543.6,250.5 643.7,156.8 555.2,252.3 686.8,118.2 681.1,124.5 552.6,247.3 564.7,236.3 632.1,170.9 631.4,169.0 506.4,306.2 565.5,237.9 506.8,296.5 619.7,185.7 531.6,260.7 540.2,267.0 538.8,271.7 596.6,203.8 539.4,269.9 556.3,255.4 626.2,173.0 556.2,250.2 639.6,163.6 639.3,160.6 558.2,239.1 526.1,280.5 648.3,154.0 573.2,233.0 543.9,256.7 501.2,301.8 559.6,233.3 497.6,301.7 583.2,227.3 549.6,261.1 534.7,270.4 524.4,269.3 602.7,199.0 633.3,166.9 493.9,306.2 569.1,240.5 503.9,304.9 497.7,306.2 700.3,100.0 537.9,255.8 569.7,235.5 634.5,163.2 585.4,226.7 543.1,260.8 594.1,213.0 607.2,197.0 585.9,220.4 548.5,258.0 602.5,202.4 546.6,249.6 544.9,247.4 533.3,269.5 684.5,118.6 509.9,282.1 500.3,295.5 534.8,268.2 510.5,293.4 545.5,257.1 648.4,158.0 653.3,156.9 525.6,264.1 535.3,261.8 550.7,256.3 654.4,146.6 530.9,262.7 603.7,206.2 584.9,224.3 627.7,173.4 532.6,279.2 643.6,158.9 718.6,86.6 549.9,257.4 647.0,154.7 598.7,204.7 525.2,289.5 556.4,250.3 528.9,285.7 634.5,169.7 525.8,270.3 627.2,175.2 532.6,266.6 631.1,177.0 609.0,201.4 598.8,210.1 531.4,263.8 596.3,215.2 583.2,222.7 542.8,255.5 705.0,100.3 658.9,143.2 587.0,212.7 636.1,164.6 540.9,263.5 517.2,296.1 541.0,259.3 574.7,232.4 634.1,166.3 618.0,183.5 527.4,272.8 613.7,190.0 629.1,175.5 576.9,224.6 564.2,232.5 560.5,251.3 521.1,275.5 529.8,278.8 565.8,230.9 566.6,238.9 569.3,243.4 557.2,253.2 620.3,187.0 516.8,295.5 518.3,271.5 645.3,153.0 577.2,224.5 581.8,221.0 560.8,237.4 554.5,240.4 543.3,266.1 569.7,237.8 615.5,190.0 499.0,301.5 650.3,150.9 520.0,277.4 563.3,238.1 615.6,185.3 511.8,286.8 586.6,211.1 580.1,225.0 572.7,238.6 616.1,189.1 511.4,282.8 524.4,277.9 637.4,167.0 654.1,145.0 510.6,294.2 589.5,220.9 506.8,301.2 646.4,156.1 650.9,145.3 592.4,215.2 561.9,246.2 586.7,222.8 573.5,230.0 615.1,182.9 616.8,191.4 623.0,178.1 617.8,188.8 524.5,286.0 522.4,286.6 593.3,211.0 572.2,228.0 671.4,132.0 500.8,300.4 551.0,243.0 624.6,177.4 557.5,249.9 512.0,279.5 539.9,248.5 663.2,138.0 605.2,191.4 618.1,191.0 530.2,262.8 610.7,196.3 493.4,306.2 524.3,270.7 583.0,231.0 587.7,223.9 558.4,253.4 660.6,143.3 546.0,255.1 531.9,267.7 522.1,294.4 601.1,205.9 613.4,189.9 615.0,185.4 582.5,221.4 497.7,305.4 552.5,243.3 516.8,274.6 533.5,266.7 496.6,303.0 592.9,214.6 528.8,263.2 573.9,229.7 663.1,139.0 526.7,267.0 533.9,258.5 529.7,265.2 502.2,302.6 574.6,225.8 572.4,225.3 579.1,228.5 663.9,144.2 575.9,226.8 580.7,221.5 630.7,174.2 626.3,181.1 568.3,234.9 580.1,216.9 545.6,247.9 564.5,250.6 562.4,245.6 569.2,228.6 526.7,287.8 579.4,228.0 533.6,258.0 537.5,259.2 536.9,256.9 607.5,205.6 502.8,294.7 716.4,92.4 516.5,288.0 582.0,220.7 526.2,280.7 591.5,222.4 621.9,187.6 555.3,244.7 560.3,237.1 701.2,101.9 577.7,232.6 545.5,268.0 525.9,278.8 620.2,177.3 593.6,211.7 537.6,264.7 565.7,239.2 512.5,291.2 606.1,191.3 633.6,173.7 598.0,211.6 595.5,218.9 511.4,289.8 637.2,164.5 578.6,223.5 632.4,173.9 601.0,202.5 630.1,170.0 611.8,194.5 598.5,211.8 579.2,217.7 532.9,281.1 528.9,279.1 638.6,161.8 609.8,196.2 529.1,277.2 507.7,297.8 626.9,175.7 494.6,295.4 582.8,219.3 594.9,205.7 554.0,245.6 638.1,168.8 585.9,220.4 713.0,90.3 592.4,210.9 573.2,236.1 504.2,305.9 628.2,179.4 509.6,301.1 532.5,272.6 586.3,210.7 591.4,205.5 642.6,163.8 652.2,150.1 641.0,163.5 608.4,196.1 547.8,257.3 597.4,206.1 515.1,285.5 539.5,261.0 718.3,91.8 585.0,215.5 643.9,161.3 516.6,299.9 579.1,221.6 519.2,284.5 594.8,205.3 643.2,159.3 555.7,240.6 495.2,292.8 540.7,251.3 505.2,302.0 558.7,242.4 610.6,196.2 698.0,107.8 532.8,279.2 514.2,279.7 499.5,290.6 537.1,273.0 529.9,272.4 522.6,273.8 629.1,169.8 533.9,261.6 515.6,278.4 514.4,299.4 597.6,203.4 554.8,248.1 548.7,260.2 594.5,214.4 583.9,226.7 559.3,253.7 582.1,220.2 537.2,259.1 555.0,249.9 590.2,208.9 495.8,304.4 551.6,251.6 547.8,251.3 539.3,261.1 565.0,236.1 592.2,206.1 599.8,196.5 605.0,194.2 582.2,216.7 494.9,306.2 528.3,270.5 589.1,218.3 509.6,280.3 576.4,230.0 494.8,303.8 618.0,193.0 516.8,293.5 555.4,247.1 510.1,290.7 518.1,269.4 560.7,249.7 567.9,238.5 623.6,176.3 522.6,289.2 628.4,178.7 526.9,282.6 549.5,262.7 660.7,142.6 566.9,235.4 529.4,286.9 558.1,237.0 614.6,193.0 625.3,183.9 508.9,289.2 567.1,230.9 546.8,261.6 504.7,301.6 556.1,258.2 535.2,269.2 599.7,200.2 495.0,306.2 558.0,256.6 542.4,260.6 553.4,251.4 555.2,239.3 693.4,112.6 591.6,218.2 548.1,255.9 541.3,265.2 555.7,251.2 646.2,159.6 578.8,224.0 656.9,147.0 522.3,292.0 567.9,242.3 597.0,217.5 615.1,190.4 507.6,290.2 551.3,250.6 625.8,179.8 581.3,224.7 513.1,300.0 553.4,246.6 565.1,237.2 492.9,306.2 553.4,249.0 561.1,243.1 663.7,138.0 567.4,231.5 568.7,235.5 503.7,297.6 498.0,306.2 559.1,251.2 583.7,221.9 524.1,277.2 575.4,227.6 506.4,294.8 532.2,260.4 568.0,233.6 537.0,257.0 556.9,252.5 595.7,212.2 518.4,285.6 587.3,208.2 662.6,141.3 615.1,183.6 546.8,257.0 584.9,222.4 508.9,290.9 597.1,204.2 601.3,204.7 524.6,279.0 547.5,261.5 580.0,217.8 587.7,213.1 582.2,217.5 601.4,208.4 620.6,184.4 560.4,255.8 494.8,306.2 611.4,191.9 508.4,305.3 569.2,231.5 595.8,213.0 611.6,199.0 569.2,231.2 584.1,212.3 665.6,137.5 605.0,193.4 533.7,260.3 646.6,155.3 590.6,212.8 536.3,270.4 532.5,278.5 556.6,248.8 566.2,243.5 619.3,182.9 558.6,250.4 595.5,208.2 541.0,261.4 560.4,240.7 539.5,252.4 549.3,245.4 593.7,214.1 526.1,277.5 563.3,251.3 600.3,207.5 494.1,306.2 551.7,247.5 605.4,195.0 587.4,220.8 613.1,187.7 529.8,270.0 581.4,214.4 537.1,263.5 504.8,306.2 607.7,194.8 535.8,259.0 598.8,207.9 605.1,203.0 611.4,197.5 534.5,272.1 610.6,201.9 527.9,279.4 588.6,224.8 493.9,296.2 607.6,194.1 501.7,294.3 596.5,201.6 584.0,228.4 501.7,289.0 576.8,230.4 594.7,216.6 611.7,198.6 697.6,114.0 527.3,275.6 554.1,256.3 545.6,253.3 588.3,219.3 520.1,268.8 573.5,234.2 527.1,285.5 522.7,277.2 602.3,196.2 571.8,231.2 606.4,196.8 588.3,209.6 620.6,183.6 561.4,236.4 494.5,306.2 724.9,86.0 525.8,279.5 614.8,194.9 521.4,285.6 566.4,236.6 534.3,266.1 587.5,207.9 504.1,294.4 503.0,298.9 559.3,241.1 620.2,184.6 559.9,235.6 509.7,300.8 713.6,92.5 507.9,279.7 537.4,267.4 574.3,236.2 531.5,270.3 593.7,206.1 553.2,246.6 609.3,195.4 504.5,306.2 614.6,193.8 634.5,174.1 529.3,269.8 526.9,273.1 628.4,178.7 552.4,243.4 550.1,260.1 577.0,224.1 571.9,229.1 612.7,190.3 589.4,222.3 594.6,214.6 554.8,245.6 566.8,239.6 621.6,179.8 624.3,178.9 580.9,232.1 578.0,221.3 536.4,276.9 562.0,242.7 521.0,269.9 562.8,244.5 501.3,306.2 529.9,255.1 533.8,281.0 561.0,244.1 591.1,213.2 506.8,301.6 585.2,220.9 605.8,197.6 516.6,282.7 512.7,291.6 507.3,297.6 584.0,225.7 549.9,246.0 498.2,301.1 509.4,300.7 545.1,252.6 500.2,306.2 609.0,197.2 520.6,292.5 612.2,198.6 497.7,306.2 541.4,263.0 644.3,162.6 514.5,297.2 497.9,306.2 617.7,189.5 609.7,189.4 564.3,245.7 510.9,305.7 535.0,279.5 556.8,246.7 664.1,136.0 523.5,278.8 588.1,217.6 594.8,217.1 625.3,185.1 590.0,212.2 546.7,250.4 556.5,248.6 561.3,238.7 577.6,233.2 569.5,240.4 507.4,280.6 605.5,191.6 545.3,251.5 582.9,215.2 537.6,261.7 557.2,248.2 717.5,82.4 494.7,306.2 585.0,211.7 519.9,285.9 657.6,143.8 614.2,192.7 616.5,194.6 617.7,189.6 542.3,255.0 565.7,243.8 641.3,165.1 560.7,246.9 649.0,153.5 612.9,192.4 563.1,232.0 568.7,234.8 567.7,231.5 531.4,272.0 543.2,256.4 554.4,259.4 569.6,245.0 626.7,172.0 562.6,226.6 573.3,231.1 594.8,216.2 610.1,189.1 681.9,122.2 599.8,208.9 579.1,216.0 596.4,211.9 510.3,306.2 599.8,204.1 524.3,272.2 627.9,180.1 625.8,178.3 583.4,228.1 648.2,154.8 500.0,292.4 503.6,304.0 564.2,252.6 521.3,276.9 495.9,302.3 661.1,138.5 553.1,256.3 618.2,179.4 533.9,270.9 583.9,215.4 502.6,296.5 582.1,217.8 594.7,201.7 581.8,214.1 562.1,244.5 599.7,196.4 525.2,287.8 590.1,220.0 534.1,264.0 502.0,303.7 546.7,262.0 602.0,201.9 516.5,283.2 605.8,196.7 544.3,264.4 563.7,246.4 502.7,304.9 516.8,295.0 588.8,217.0 638.2,165.2 531.2,262.8 592.0,217.4 627.8,180.5 619.6,190.7 655.5,146.3 508.2,279.6 589.2,212.4 534.7,277.6 498.8,294.2 564.7,249.8 659.5,141.9 542.5,252.5 530.4,269.6 711.1,96.0 589.6,207.8 515.3,285.9 495.6,306.2 504.5,288.6 504.5,306.2 629.6,175.7 594.2,210.4 518.9,296.7 555.2,254.5 557.5,245.2 623.6,184.9 683.6,122.6 493.9,303.3 496.5,305.2 581.2,220.0 500.5,302.5 552.5,250.9 584.7,216.8 567.2,230.8 519.5,267.8 534.1,281.9 570.6,233.9 514.7,298.7 644.3,156.9 529.3,284.5 619.2,183.4 520.9,295.3 564.8,245.5 614.0,186.7 588.6,214.6 512.1,286.7 530.0,287.5 547.9,255.9 565.6,238.2 667.2,133.5 543.0,255.7 544.8,252.9 570.2,229.6 525.6,268.8 616.2,187.4 492.8,306.2 601.8,202.9 638.1,165.3 540.5,257.8 604.0,197.7 597.8,214.6 606.4,204.8 588.8,223.7 571.6,226.8 533.6,259.1 554.0,244.6 509.3,301.7 584.4,211.0 567.0,246.2 502.2,290.5 508.7,300.0 540.0,266.3 521.0,272.0 521.0,273.2 605.6,199.6 540.0,256.8 502.0,305.3 640.4,161.9 656.8,145.8 615.4,193.5 557.9,249.3 665.4,134.0 636.1,169.8 586.2,225.5 593.3,210.8 597.1,203.9 571.7,240.9 628.0,170.5 623.7,182.3 601.9,211.1 594.9,216.8 559.9,235.2 541.3,251.4 667.9,137.3 576.3,232.6 649.0,150.9 524.7,279.0 516.6,289.5 599.5,212.0 589.0,211.7 552.7,258.3 567.4,225.9 644.1,161.1 590.9,216.4 572.1,228.2 533.1,271.1 517.1,283.5 547.4,253.1 536.6,271.1 594.8,218.1 713.0,85.1 622.9,174.8 533.4,273.2 536.1,278.0 579.0,218.7 620.2,184.2 536.7,263.9 533.2,269.7 561.8,248.5 605.2,198.3 558.4,247.5 494.5,306.2 591.8,222.5 630.1,175.8 592.6,222.0 497.5,301.8 531.8,272.0 568.3,233.9 564.3,244.9 504.1,302.1 533.7,260.4 551.1,250.0 565.4,237.0 700.9,105.1 596.4,204.8 568.9,233.8 494.0,306.2 497.3,306.2 605.7,197.5 574.4,224.8 590.2,221.6 511.2,287.2 688.6,119.3 566.9,239.9 575.6,220.3 591.1,217.9 584.0,219.0 607.9,201.8 523.0,280.4 501.6,298.6 553.7,258.1 606.6,200.5 602.3,202.2 548.8,246.8 601.1,209.7 605.9,203.8 609.4,197.7 662.4,139.8 559.4,240.0 598.4,202.2 638.7,167.8 534.6,269.5 702.7,102.1 541.4,258.8 588.7,217.8 512.6,302.0 520.1,285.9 505.8,303.5 584.8,222.9 496.4,306.2 562.4,244.2 600.6,208.7 531.8,268.4 520.5,291.2 663.8,140.6 522.0,270.9 577.2,238.0 559.6,249.9 635.6,166.8 583.7,232.8 562.3,240.9 529.3,259.9 617.7,192.9 537.9,253.7 612.3,186.0 593.6,209.1 572.6,230.8 718.1,88.9 585.7,222.0 579.0,236.1 594.7,201.5 516.8,281.9 556.1,251.1 492.8,300.2 512.3,294.3 497.7,306.2 575.5,232.6 539.7,268.4 517.6,275.7 550.3,254.0 654.6,145.7 500.7,294.1 508.8,297.6 626.9,175.6 524.1,273.6 588.8,215.0 505.3,292.6 498.0,297.6 581.8,218.2 600.3,204.3 521.8,281.8 559.5,243.6 515.7,287.6 615.8,181.6 512.1,266.5 573.9,239.0 652.0,151.7 523.2,272.7 598.2,201.8 563.9,240.5 623.0,181.0 623.8,175.4 564.7,246.0 560.6,244.5 604.8,194.7 595.8,213.4 540.3,261.5 651.2,151.8 565.4,230.2 528.3,276.8 549.7,258.8 550.6,260.6 564.8,241.1 542.5,259.0 558.8,241.8 683.5,122.2 713.5,90.6 529.6,260.3 537.2,257.4 547.2,250.5 526.0,288.3 524.7,278.0 562.7,234.0 552.8,256.8 503.8,283.8 567.8,236.3 561.0,236.4 655.7,144.9 620.9,176.5 585.4,219.9 568.3,232.8 508.9,298.8 585.7,243.0 645.8,150.7 667.5,133.3 644.1,157.2 599.7,200.1 542.4,262.2 518.8,277.0 524.8,280.9 549.6,260.0 509.4,297.6 536.7,266.7 681.0,122.7 601.0,210.4 594.3,207.6 515.5,288.1 565.8,234.7 563.6,239.5 642.7,155.7 589.4,209.1 536.2,275.5 530.1,280.7 508.1,296.6 564.7,242.6 583.3,228.0 550.3,260.7 648.5,157.7 601.9,207.1 572.0,236.7 549.8,259.3 587.5,222.7 592.5,216.6 599.2,206.7 538.0,258.2 550.8,247.9 526.6,276.4 512.5,286.6 537.3,265.7 530.2,274.5 533.6,272.4 561.8,251.8 548.1,261.6 598.8,205.7 529.8,277.9 596.1,210.5 630.6,176.1 564.8,240.3 611.4,198.5 503.8,304.6 530.4,278.3 505.2,292.2 563.9,248.6 547.4,259.4 562.3,241.5 526.0,275.6 497.7,296.5 603.2,202.6 648.1,155.0 520.2,290.5 599.7,204.0 543.4,267.0 600.2,198.8 579.5,230.6 602.5,206.0 710.2,94.0 533.4,268.6 627.7,173.3 522.3,283.8 609.3,198.3 515.4,275.3 521.6,282.5 554.7,258.9 522.6,286.7 611.6,188.0 498.0,306.2 542.6,260.5 575.2,231.0 610.4,194.1 687.8,116.0 570.1,230.5 520.4,269.3 525.7,278.0 580.9,232.1 513.9,297.8 619.7,188.8 618.7,188.6 597.5,216.3 678.3,124.8 557.6,249.6 661.2,140.1 521.5,271.8 529.7,260.2 569.4,232.2 630.0,174.8 494.0,306.2 621.8,186.0 546.5,261.5 623.5,182.6 622.1,180.2 629.8,174.3 574.1,235.0 510.0,277.0 536.2,274.9 543.8,264.4 586.5,211.7 541.6,267.4 563.5,244.6 544.8,250.0 582.3,225.1 514.7,294.2 548.8,249.2 627.5,182.0 533.9,266.0 563.0,242.9 606.3,193.7 592.9,217.3 560.0,235.4 503.3,293.1 624.5,186.1 640.4,165.9 608.6,190.1 604.2,207.5 629.1,174.6 626.2,180.3 561.2,242.1 549.2,256.2 558.4,242.3 511.9,300.3 520.4,278.2 592.0,216.7 599.6,204.6 592.7,219.4 576.2,222.8 515.0,276.4 547.2,255.9 655.1,144.1 656.2,150.8 535.2,276.6 546.7,248.8 519.3,281.4 544.5,250.1 557.3,247.6 533.4,266.8 635.8,167.4 503.7,291.8 492.8,299.9 492.8,305.6 492.8,297.5 492.8,294.9 492.8,292.6 492.8,296.5 492.8,296.4 492.8,289.3 492.8,300.9 492.8,293.6 492.8,293.2 492.8,303.4 492.8,296.8 492.8,299.1 492.8,297.1 492.8,282.4 492.8,296.5 492.8,288.9 492.8,296.4 492.8,303.1 492.8,302.8 492.8,305.4 492.8,293.3 492.8,303.5 492.8,304.5 492.8,302.6 492.8,297.2 492.8,297.8 492.8,305.1 492.8,297.5 492.8,299.6 492.8,300.4 492.8,303.7 492.8,306.2 492.8,290.0 492.8,302.8 492.8,293.1 492.8,292.9 492.8,305.5 492.8,302.7 492.8,295.3 492.8,299.7 492.8,305.4 492.8,305.4 492.8,293.9 492.8,300.5 492.8,299.4 492.8,300.7 492.8,301.0 492.8,303.6 492.8,295.6 492.8,291.3 492.8,295.6 492.8,296.5 492.8,302.0 492.8,298.9 492.8,274.5 492.8,300.2 492.8,304.2 492.8,294.4 492.8,301.9 492.8,301.0 492.8,292.7 492.8,295.5 492.8,306.2 492.8,293.5 492.8,301.7 492.8,299.8 492.8,301.4 492.8,298.5 492.8,304.2 492.8,296.6 492.8,285.1 492.8,303.0 492.8,304.6 492.8,290.5 492.8,306.0 492.8,301.0 492.8,296.8 492.8,298.1 492.8,295.8 492.8,302.7 492.8,292.0 492.8,302.0 492.8,295.4 492.8,301.3 492.8,299.3 492.8,305.3 492.8,285.2 492.8,299.8 492.8,301.9 492.8,305.6 492.8,290.7 492.8,302.6 492.8,302.6 492.8,290.4 492.8,304.6 492.8,293.1 492.8,305.3 492.8,292.2 492.8,274.8 492.8,305.1 492.8,293.5 492.8,299.0 492.8,305.4 492.8,304.8 492.8,306.1 492.8,304.3 492.8,293.4 492.8,275.5 492.8,287.4 492.8,288.2 492.8,279.1 492.8,286.7 492.8,283.1 492.8,289.2 492.8,281.5 492.8,285.2 492.8,272.9 492.8,266.9 492.8,288.1 492.8,270.1 492.8,276.9 520.6,306.2 537.3,306.2 517.0,306.2 535.0,306.2 527.5,306.2 507.3,306.2 501.9,306.2 496.5,306.2 524.0,306.2 512.8,306.2 530.0,306.2 501.8,306.2 548.3,306.2 494.9,306.2 531.4,306.2 512.5,306.2 502.0,306.2 511.3,306.2 494.8,306.2 536.1,306.2 497.1,306.2 512.6,306.2 529.6,306.2 530.0,306.2 509.4,306.2 523.2,306.2 513.7,306.2 511.9,306.2 517.3,306.2 519.7,306.2 509.7,306.2 521.9,306.2 494.1,306.2 518.0,306.2 500.7,306.2 514.5,306.2 522.6,306.2 504.3,306.2 547.6,306.2 493.5,306.2 503.5,306.2 515.6,306.2 517.3,306.2 505.0,306.2 499.7,306.2 501.0,306.2 514.0,306.2 493.3,306.2 501.5,306.2 497.8,306.2 540.1,306.2 513.4,306.2 542.7,306.2 508.6,306.2 499.5,306.2 528.4,306.2 506.7,306.2 555.4,306.2 530.3,306.2 528.7,306.2 518.7,306.2 512.2,306.2 538.7,306.2 532.0,306.2 495.4,306.2 506.9,306.2 498.4,306.2 494.3,306.2 501.4,306.2 540.9,306.2 515.2,306.2 507.3,306.2 508.5,306.2 509.3,306.2 498.5,306.2 513.4,306.2 545.5,306.2 523.7,306.2 495.9,306.2 532.5,306.2 503.2,306.2 500.8,306.2 499.7,306.2 507.6,306.2 504.0,306.2 500.9,306.2 496.3,306.2 530.9,306.2 493.5,306.2 500.2,306.2 549.1,306.2 541.8,306.2 549.9,306.2 572.4,306.2 568.4,306.2 527.7,306.2 574.8,306.2 561.2,306.2 559.5,306.2 575.0,306.2 525.0,306.2 548.5,306.2 554.1,306.2 558.8,306.2 525.4,306.2 536.1,306.2 569.6,306.2 547.7,306.2 540.3,306.2 547.0,306.2 532.2,306.2 557.8,306.2 548.3,306.2 552.8,306.2 540.6,306.2 528.2,306.2 530.0,306.2 551.7,306.2 567.0,306.2 530.0,306.2 537.0,306.2 562.4,306.2 539.2,306.2 568.2,306.2 578.3,238.6 589.1,235.6 555.2,266.0 574.9,247.6 569.2,266.2 574.0,242.9 568.7,262.7 552.9,270.1 532.9,292.9 595.6,226.8 527.9,295.2 540.9,274.3 559.8,268.0 530.7,293.4 581.9,235.3 542.2,274.2 562.8,260.5 525.5,294.8 535.6,288.6 556.2,263.3 564.1,264.2 555.1,262.7 556.8,263.6 568.5,257.4 562.8,257.1 531.4,296.7 554.6,266.8 542.3,273.6 577.2,240.4 557.7,267.8 578.9,238.9 549.9,266.5 544.1,274.9 558.6,261.3 536.8,280.8 572.9,268.8 550.2,268.7 550.2,277.4 554.7,272.2 536.5,281.3 567.8,261.6 587.6,233.0 533.9,288.9 569.0,248.0 560.6,263.9 549.7,269.4 588.8,235.8 549.6,267.7 584.3,236.3 532.2,299.9 539.1,280.0 563.8,258.5 566.6,253.7 578.4,246.4 572.1,248.4 572.5,269.9 544.1,282.7 563.2,256.9 555.1,264.6 535.3,300.1 553.6,302.4 531.7,296.8 574.3,251.0 551.9,264.0 563.8,258.8 566.6,266.2 568.6,248.7 567.4,262.6 550.2,268.6 543.8,285.8 566.9,251.7 560.2,256.5 575.1,266.9 567.7,249.2 556.9,265.3 584.2,236.8 546.7,276.5 578.0,239.2 580.8,243.8 550.1,270.7 550.7,265.2 559.9,258.2 533.2,288.4 557.0,260.8 566.9,252.1 534.5,297.8 542.9,298.8 558.2,278.1 542.3,272.2 536.5,292.6 560.4,261.9 557.8,261.4 551.5,277.8 536.7,279.9 540.2,280.4 591.3,226.8 554.6,267.0 553.2,286.6 551.2,269.6 555.2,260.9 545.1,277.9 596.2,220.9 551.6,288.6 562.6,268.0 559.8,257.3 552.6,269.6 554.3,279.8 584.5,232.3 521.6,298.6 580.6,262.0 545.9,269.2 557.4,258.7 556.7,264.8 565.8,251.7 574.2,248.6 558.6,271.8 559.7,261.5 558.6,259.2 572.8,247.9 585.1,240.2 561.0,257.4 535.3,285.3 560.6,256.1 551.9,273.8 570.6,249.0 567.9,287.6 533.2,286.9 600.2,224.7 576.7,245.0 555.3,262.0 536.0,283.1 535.2,290.0 550.4,270.4 561.6,261.3 587.8,237.4 587.8,232.4 540.5,274.2 598.5,224.9 575.9,242.6 542.5,279.8 540.9,284.3 604.8,212.2 579.3,241.1 585.0,236.4 551.5,268.7 540.2,276.0 569.1,255.5 525.2,295.8 530.6,294.9 528.0,292.0 542.8,281.3 606.7,208.9 535.6,296.3 578.4,241.6 537.3,291.2 558.0,259.2 583.3,246.9 563.3,254.7 554.3,261.6 571.7,252.2 578.6,254.4 527.6,295.0 543.9,271.6 573.5,245.6 573.0,269.2 543.2,277.6 533.7,285.3 547.6,270.4 528.0,293.0 546.5,268.6 531.7,294.5 548.3,269.8 594.0,228.0 536.9,279.8 520.4,302.5 540.7,283.2 587.7,232.7 546.0,275.7 575.0,244.3 577.9,242.4 538.5,280.5 559.9,257.7 571.2,262.7 601.1,217.7 548.5,266.6 539.5,275.6 570.7,258.2 586.2,247.5 577.4,241.0 560.1,262.5 576.9,246.4 554.4,271.4 586.8,235.7 539.9,275.6 542.2,297.1 551.8,275.9 558.0,259.7 539.3,275.3 560.3,261.9 543.3,272.7 536.8,281.2 557.4,279.3 557.8,259.4 526.4,294.7 558.4,266.5 578.8,238.6 589.5,235.6 549.6,269.4 547.3,268.4 542.5,279.1 526.7,293.0 581.9,242.1 539.1,291.7 571.3,247.5 542.9,279.0 560.7,256.0 583.6,233.1 537.1,283.2 556.1,276.2 565.1,293.7 549.2,287.0 531.9,292.2 554.7,268.9 558.5,264.0 581.5,244.7 553.7,270.9 562.6,271.7 578.5,259.6 551.1,269.2 541.3,277.6 565.5,257.7 545.6,278.5 574.4,258.9 554.2,263.7 539.3,277.1 544.2,282.5 562.4,257.3 555.4,273.2 573.2,243.6 541.2,280.7 565.8,251.6 573.3,252.6 570.2,255.3 565.1,255.8 576.2,242.8 589.6,249.4 611.3,219.3 549.0,295.6 593.0,241.7 606.6,230.9 623.1,205.7 549.8,276.2 565.4,287.5 623.9,189.7 618.2,223.5 549.8,286.2 576.1,243.7 598.8,229.5 553.7,300.4 578.6,263.9 614.9,217.6 550.8,291.2 580.8,260.4 626.2,201.5 609.6,210.9 562.9,282.1 614.7,231.7 555.4,297.2 620.8,196.6 572.6,258.9 612.5,223.0 598.6,232.3 607.3,214.0 600.5,226.8 594.4,260.2 601.7,246.7 555.4,262.8 573.6,257.5 608.0,228.1 572.4,265.2 626.7,203.0 622.4,195.3 599.8,247.4 572.4,247.5 603.6,219.9 565.7,262.2 594.2,243.1 556.8,292.3 617.7,220.9 622.2,225.6 573.3,281.4 573.4,264.2 573.2,255.0 562.2,277.7 546.4,297.0 558.2,286.8 618.7,212.5 586.1,241.4 553.0,267.2 577.7,245.7 582.7,236.6 608.3,237.4 625.4,187.7 624.3,215.6 546.7,287.7 569.1,284.9 621.8,194.5 616.6,216.7 569.0,271.3 604.6,235.0 547.2,276.9 610.4,214.3 577.2,267.2 588.3,240.1 552.3,283.0 563.6,277.1 612.9,227.3 599.8,220.2 616.7,230.4 600.0,244.0 570.3,217.5 633.9,157.4 627.1,166.6 547.2,235.5 641.2,151.3 574.4,218.3 513.6,268.8 578.9,201.2 512.9,266.6 522.8,254.9 644.3,150.0 565.6,224.1 500.2,283.3 559.3,232.0 501.7,278.1 520.2,263.9 577.5,212.1 595.3,197.5 635.0,160.8 592.8,200.2 619.5,169.4 610.9,178.0 551.2,227.3 576.5,201.4 628.0,156.8 547.8,239.4 622.4,171.4 635.0,159.1 538.0,249.6 606.4,178.9 512.9,269.2 583.1,208.2 637.9,154.6 510.2,272.6 561.0,229.5 518.1,262.8 578.9,208.2 622.6,170.2 515.1,263.5 531.0,253.6 571.6,208.7 517.0,259.9 514.9,266.0 537.2,249.0 505.2,279.8 496.7,285.6 499.0,274.8 644.3,151.8 581.4,211.6 564.2,218.8 596.0,188.6 581.3,208.9 615.1,178.2 531.0,254.1 529.2,247.6 642.5,148.1 644.6,144.4 546.7,234.1 521.1,259.7 633.2,158.4 772.4,35.1 754.2,58.8 730.1,75.1 724.2,80.5 723.8,92.7 727.6,128.3 708.8,192.0 613.0,126.9 631.2,143.7 635.0,145.7 643.8,142.0 616.9,154.5 613.0,165.1 622.5,161.3 671.3,118.8 680.0,116.2 665.0,126.2 688.8,109.3 700.0,115.6 595.5,178.3 585.7,191.0 566.0,198.6 546.4,212.2 552.6,214.7 516.9,227.4 539.2,224.9 533.9,230.8 536.5,229.1 558.9,216.4 564.2,213.0 569.6,206.2 575.0,201.2 516.0,252.9 525.8,245.2 522.2,250.3 508.8,263.9 623.2,302.0 660.0,170.0 660.0,173.0 663.8,162.5 670.0,155.1 656.3,181.3 642.5,180.5 648.8,195.1 655.0,195.1 642.5,197.4 671.5,163.0 675.0,161.3 680.4,160.5 660.7,175.7 653.6,196.1 635.7,211.3 628.6,219.8 625.0,224.0 621.4,217.3 616.1,233.4 610.7,238.4 596.4,271.5 597.3,286.8 585.7,285.9 576.7,280.8 591.0,267.3 607.1,306.2 612.5,306.2 617.8,306.2 622.3,306.2 625.0,306.2 628.6,306.2 632.1,306.2 635.7,306.2 641.1,306.2 646.4,306.2 649.1,306.2 662.5,306.2 675.0,306.2 679.5,306.2 720.6,306.2 724.2,306.2 575.0,306.2 577.6,306.2 582.1,306.2 591.0,306.2 600.0,306.2 623.2,306.2 492.8,107.1 492.8,124.0 492.8,151.2 492.8,156.2 492.8,160.5 492.8,164.7 492.8,174.9 492.8,187.6 492.8,202.9 492.8,207.9 492.8,211.3 492.8,217.4 492.8,221.5 492.8,224.9 492.8,227.4 492.8,230.0 492.8,232.5 492.8,236.8 492.8,240.1 492.8,243.5 492.8,246.9 492.8,250.3 492.8,253.7 492.8,256.2 492.8,260.5 492.8,263.0 492.8,269.0 492.8,271.5 492.8,274.0 492.8,276.6 492.8,279.1 492.8,281.7"/>
<rect x="481.3" y="24" width="303.2" height="293" fill="none" stroke="#333" stroke-width="0.9"/>
<line x1="492.8" y1="317" x2="492.8" y2="322" stroke="#222" stroke-width="0.9"/><text x="492.8" y="337.5" font-size="8.5" text-anchor="middle" fill="#222">0</text><line x1="476.3" y1="306.2" x2="481.3" y2="306.2" stroke="#222" stroke-width="0.9"/><text transform="translate(468.8,306.2) rotate(-90)" font-size="8.5" text-anchor="middle" fill="#222">0</text>
<line x1="582.1" y1="317" x2="582.1" y2="322" stroke="#222" stroke-width="0.9"/><text x="582.1" y="337.5" font-size="8.5" text-anchor="middle" fill="#222">5</text><line x1="476.3" y1="221.5" x2="481.3" y2="221.5" stroke="#222" stroke-width="0.9"/><text transform="translate(468.8,221.5) rotate(-90)" font-size="8.5" text-anchor="middle" fill="#222">5</text>
<line x1="671.5" y1="317" x2="671.5" y2="322" stroke="#222" stroke-width="0.9"/><text x="671.5" y="337.5" font-size="8.5" text-anchor="middle" fill="#222">10</text><line x1="476.3" y1="136.8" x2="481.3" y2="136.8" stroke="#222" stroke-width="0.9"/><text transform="translate(468.8,136.8) rotate(-90)" font-size="8.5" text-anchor="middle" fill="#222">10</text>
<line x1="760.8" y1="317" x2="760.8" y2="322" stroke="#222" stroke-width="0.9"/><text x="760.8" y="337.5" font-size="8.5" text-anchor="middle" fill="#222">15</text><line x1="476.3" y1="52.0" x2="481.3" y2="52.0" stroke="#222" stroke-width="0.9"/><text transform="translate(468.8,52.0) rotate(-90)" font-size="8.5" text-anchor="middle" fill="#222">15</text>
<text x="634" y="20.5" font-size="16" text-anchor="middle" fill="#333">5-6hr</text><text x="532.5" y="75.5" font-size="15.2" fill="#111">r = 0.975</text><text class="b" x="432" y="172.8" font-size="16.5" fill="#000">WT</text><text class="b" x="612.5" y="351.7" font-size="17" fill="#000">SP+</text>
<line x1="676.0" y1="232.1" x2="653.6" y2="238.0" stroke="#ee1018" stroke-width="2.2"/><polygon points="631.4,243.9 654.0,231.7 657.1,243.3" fill="#ee1018"/>
</g>
<text class="b" x="14.6" y="403.1" font-size="28" fill="#000">B</text>
<text class="b" x="173.25" y="424" font-size="18.6" text-anchor="middle" fill="#000">chromosome X</text><text class="b" x="425.75" y="424" font-size="18.6" text-anchor="middle" fill="#000">chromosome 2</text><text class="b" x="676.75" y="424" font-size="18.6" text-anchor="middle" fill="#000">chromosome 3</text>
<text transform="translate(32.4,477.7) rotate(-90)" font-size="13.2" letter-spacing="0.7" text-anchor="middle" fill="#222">2-3 hr</text><text transform="translate(32.4,613) rotate(-90)" font-size="13.2" letter-spacing="0.7" text-anchor="middle" fill="#222">5-6 hr</text>
<g id="X23"><rect x="37.5" y="432" width="251.10000000000002" height="116.20000000000005" fill="#fff" stroke="#a6a6a6" stroke-width="1"/><line x1="43.7" y1="496.3" x2="285.4" y2="496.3" stroke="#333" stroke-width="0.9"/><line x1="43.7" y1="450" x2="43.7" y2="547" stroke="#666" stroke-width="1.1"/><text x="43.900000000000006" y="447.4" font-size="5.6" text-anchor="end" fill="#222" stroke="#222" stroke-width="0.15">6</text><text x="43.900000000000006" y="464.4" font-size="5.6" text-anchor="end" fill="#222" stroke="#222" stroke-width="0.15">4</text><text x="43.900000000000006" y="481.4" font-size="5.6" text-anchor="end" fill="#222" stroke="#222" stroke-width="0.15">2</text><text x="43.900000000000006" y="498.4" font-size="5.6" text-anchor="end" fill="#222" stroke="#222" stroke-width="0.15">0</text><text x="43.900000000000006" y="515.4" font-size="5.6" text-anchor="end" fill="#222" stroke="#222" stroke-width="0.15">-2</text><text x="43.900000000000006" y="531.9" font-size="5.6" text-anchor="end" fill="#222" stroke="#222" stroke-width="0.15">-4</text><text x="43.900000000000006" y="546.4" font-size="5.6" text-anchor="end" fill="#222" stroke="#222" stroke-width="0.15">-6</text><line x1="45.4" y1="487.7" x2="45.4" y2="496.3" stroke="#2a2a2a" stroke-width="0.9"/><line x1="72.9" y1="487.7" x2="72.9" y2="496.3" stroke="#2a2a2a" stroke-width="0.9"/><line x1="86" y1="484.8" x2="86" y2="496.3" stroke="#2a2a2a" stroke-width="0.9"/><line x1="118.4" y1="486.9" x2="118.4" y2="496.3" stroke="#2a2a2a" stroke-width="0.9"/><line x1="141.3" y1="487.7" x2="141.3" y2="496.3" stroke="#2a2a2a" stroke-width="0.9"/><line x1="146.6" y1="484" x2="146.6" y2="496.3" stroke="#2a2a2a" stroke-width="0.9"/><line x1="147.6" y1="480.4" x2="147.6" y2="496.3" stroke="#2a2a2a" stroke-width="1.4"/><line x1="148.5" y1="482" x2="148.5" y2="496.3" stroke="#2a2a2a" stroke-width="0.9"/><line x1="150.2" y1="465" x2="150.2" y2="496.3" stroke="#2a2a2a" stroke-width="0.9"/><line x1="164.1" y1="476" x2="164.1" y2="496.3" stroke="#2a2a2a" stroke-width="0.9"/><line x1="164.9" y1="485.2" x2="164.9" y2="496.3" stroke="#2a2a2a" stroke-width="0.9"/><line x1="169.4" y1="483.3" x2="169.4" y2="496.3" stroke="#2a2a2a" stroke-width="0.9"/><line x1="178.4" y1="484" x2="178.4" y2="496.3" stroke="#2a2a2a" stroke-width="0.9"/><line x1="187.3" y1="481.2" x2="187.3" y2="496.3" stroke="#2a2a2a" stroke-width="0.9"/><line x1="194.4" y1="469.8" x2="194.4" y2="496.3" stroke="#2a2a2a" stroke-width="0.9"/><line x1="197.4" y1="475.8" x2="197.4" y2="496.3" stroke="#2a2a2a" stroke-width="0.9"/><line x1="203.4" y1="486.9" x2="203.4" y2="496.3" stroke="#2a2a2a" stroke-width="0.9"/><line x1="221.7" y1="484.1" x2="221.7" y2="496.3" stroke="#2a2a2a" stroke-width="0.9"/><line x1="231.5" y1="485.2" x2="231.5" y2="496.3" stroke="#2a2a2a" stroke-width="0.9"/><line x1="232.6" y1="475.5" x2="232.6" y2="496.3" stroke="#2a2a2a" stroke-width="0.9"/><line x1="242.2" y1="474.2" x2="242.2" y2="496.3" stroke="#2a2a2a" stroke-width="0.9"/><line x1="251.5" y1="478.4" x2="251.5" y2="496.3" stroke="#2a2a2a" stroke-width="0.9"/><line x1="253.6" y1="477.1" x2="253.6" y2="496.3" stroke="#2a2a2a" stroke-width="0.9"/><line x1="260.3" y1="484.4" x2="260.3" y2="496.3" stroke="#2a2a2a" stroke-width="0.9"/><line x1="268.5" y1="478.4" x2="268.5" y2="496.3" stroke="#2a2a2a" stroke-width="0.9"/><line x1="271.1" y1="486.9" x2="271.1" y2="496.3" stroke="#2a2a2a" stroke-width="0.9"/><line x1="56.6" y1="496.3" x2="56.6" y2="500.2" stroke="#2a2a2a" stroke-width="0.9"/><line x1="92.5" y1="496.3" x2="92.5" y2="508.8" stroke="#2a2a2a" stroke-width="0.9"/><line x1="95.5" y1="496.3" x2="95.5" y2="513.7" stroke="#2a2a2a" stroke-width="0.9"/><line x1="119.2" y1="496.3" x2="119.2" y2="508.8" stroke="#2a2a2a" stroke-width="0.9"/><line x1="184.4" y1="496.3" x2="184.4" y2="507.7" stroke="#2a2a2a" stroke-width="0.9"/><line x1="214.1" y1="496.3" x2="214.1" y2="509.1" stroke="#2a2a2a" stroke-width="0.9"/><line x1="246.3" y1="496.3" x2="246.3" y2="506.4" stroke="#2a2a2a" stroke-width="0.9"/><line x1="256.5" y1="496.3" x2="256.5" y2="510.4" stroke="#2a2a2a" stroke-width="0.9"/><line x1="64.6" y1="432.5" x2="64.6" y2="547.5" stroke="#2a2a2a" stroke-width="1.0"/><line x1="83.4" y1="474.7" x2="83.4" y2="509.6" stroke="#2a2a2a" stroke-width="0.9"/><line x1="195.3" y1="485" x2="195.3" y2="506" stroke="#2a2a2a" stroke-width="0.9"/><line x1="234.7" y1="473" x2="234.7" y2="516.1" stroke="#2a2a2a" stroke-width="0.9"/><line x1="236" y1="489.3" x2="236" y2="501.5" stroke="#2a2a2a" stroke-width="1.3"/></g>
<g id="X56"><rect x="37.5" y="551.8" width="251.10000000000002" height="116.20000000000005" fill="#fff" stroke="#c4c4c4" stroke-width="1.3"/><line x1="41.7" y1="616.6" x2="285.4" y2="616.6" stroke="#333" stroke-width="0.9"/><line x1="41.7" y1="569.5" x2="41.7" y2="663.7" stroke="#666" stroke-width="1.1"/><line x1="69.3" y1="610.1" x2="69.3" y2="616.6" stroke="#2a2a2a" stroke-width="0.9"/><line x1="71.4" y1="605.2" x2="71.4" y2="616.6" stroke="#2a2a2a" stroke-width="0.9"/><line x1="82" y1="605.2" x2="82" y2="616.6" stroke="#2a2a2a" stroke-width="0.9"/><line x1="93.2" y1="608.2" x2="93.2" y2="616.6" stroke="#2a2a2a" stroke-width="0.9"/><line x1="127.3" y1="609.6" x2="127.3" y2="616.6" stroke="#2a2a2a" stroke-width="0.9"/><line x1="133.8" y1="608.8" x2="133.8" y2="616.6" stroke="#2a2a2a" stroke-width="0.9"/><line x1="163.8" y1="601.7" x2="163.8" y2="616.6" stroke="#2a2a2a" stroke-width="0.9"/><line x1="177.5" y1="607.2" x2="177.5" y2="616.6" stroke="#2a2a2a" stroke-width="0.9"/><line x1="194.4" y1="593.5" x2="194.4" y2="616.6" stroke="#2a2a2a" stroke-width="0.9"/><line x1="222.1" y1="606.4" x2="222.1" y2="616.6" stroke="#2a2a2a" stroke-width="0.9"/><line x1="231" y1="609.3" x2="231" y2="616.6" stroke="#2a2a2a" stroke-width="0.9"/><line x1="232.5" y1="599.1" x2="232.5" y2="616.6" stroke="#2a2a2a" stroke-width="1.4"/><line x1="254.1" y1="596" x2="254.1" y2="616.6" stroke="#2a2a2a" stroke-width="0.9"/><line x1="267.6" y1="597.1" x2="267.6" y2="616.6" stroke="#2a2a2a" stroke-width="0.9"/><line x1="280.4" y1="589" x2="280.4" y2="616.6" stroke="#2a2a2a" stroke-width="0.9"/><line x1="117.2" y1="616.6" x2="117.2" y2="621.5" stroke="#2a2a2a" stroke-width="0.9"/><line x1="63.1" y1="586.1" x2="63.1" y2="662.1" stroke="#2a2a2a" stroke-width="1.0"/><line x1="236" y1="610.1" x2="236" y2="623.1" stroke="#2a2a2a" stroke-width="1.4"/></g>
<g id="C2_23"><rect x="291.5" y="432" width="251.0" height="115.39999999999998" fill="#fff" stroke="#a6a6a6" stroke-width="1"/><line x1="296.9" y1="495.5" x2="539.5" y2="495.5" stroke="#333" stroke-width="0.9"/><line x1="296.9" y1="448.2" x2="296.9" y2="546.2" stroke="#666" stroke-width="1.1"/><text x="297.09999999999997" y="446.9" font-size="5.6" text-anchor="end" fill="#222" stroke="#222" stroke-width="0.15">6</text><text x="297.09999999999997" y="464.4" font-size="5.6" text-anchor="end" fill="#222" stroke="#222" stroke-width="0.15">4</text><text x="297.09999999999997" y="480.59999999999997" font-size="5.6" text-anchor="end" fill="#222" stroke="#222" stroke-width="0.15">2</text><text x="297.09999999999997" y="496.9" font-size="5.6" text-anchor="end" fill="#222" stroke="#222" stroke-width="0.15">0</text><text x="297.09999999999997" y="515.6" font-size="5.6" text-anchor="end" fill="#222" stroke="#222" stroke-width="0.15">-2</text><text x="297.09999999999997" y="530.1999999999999" font-size="5.6" text-anchor="end" fill="#222" stroke="#222" stroke-width="0.15">-4</text><text x="297.09999999999997" y="545.6" font-size="5.6" text-anchor="end" fill="#222" stroke="#222" stroke-width="0.15">-6</text><line x1="301.3" y1="458.9" x2="301.3" y2="495.5" stroke="#2a2a2a" stroke-width="0.9"/><line x1="306.7" y1="481.2" x2="306.7" y2="495.5" stroke="#2a2a2a" stroke-width="0.9"/><line x1="316.9" y1="471.9" x2="316.9" y2="495.5" stroke="#2a2a2a" stroke-width="0.9"/><line x1="318.9" y1="477.4" x2="318.9" y2="495.5" stroke="#2a2a2a" stroke-width="0.9"/><line x1="321.3" y1="479.6" x2="321.3" y2="495.5" stroke="#2a2a2a" stroke-width="0.9"/><line x1="322.1" y1="477.1" x2="322.1" y2="495.5" stroke="#2a2a2a" stroke-width="0.9"/><line x1="323.4" y1="478.7" x2="323.4" y2="495.5" stroke="#2a2a2a" stroke-width="0.9"/><line x1="325.4" y1="479.6" x2="325.4" y2="495.5" stroke="#2a2a2a" stroke-width="0.9"/><line x1="326.7" y1="478.3" x2="326.7" y2="495.5" stroke="#2a2a2a" stroke-width="0.9"/><line x1="331.2" y1="485.2" x2="331.2" y2="495.5" stroke="#2a2a2a" stroke-width="0.9"/><line x1="340.5" y1="480" x2="340.5" y2="495.5" stroke="#2a2a2a" stroke-width="0.9"/><line x1="341.6" y1="473.1" x2="341.6" y2="495.5" stroke="#2a2a2a" stroke-width="0.9"/><line x1="345.4" y1="480.4" x2="345.4" y2="495.5" stroke="#2a2a2a" stroke-width="0.9"/><line x1="348.1" y1="487.7" x2="348.1" y2="495.5" stroke="#2a2a2a" stroke-width="0.9"/><line x1="351.2" y1="478.4" x2="351.2" y2="495.5" stroke="#2a2a2a" stroke-width="0.9"/><line x1="356.4" y1="483.3" x2="356.4" y2="495.5" stroke="#2a2a2a" stroke-width="0.9"/><line x1="366.2" y1="489.6" x2="366.2" y2="495.5" stroke="#2a2a2a" stroke-width="0.9"/><line x1="373.3" y1="480" x2="373.3" y2="495.5" stroke="#2a2a2a" stroke-width="0.9"/><line x1="374.3" y1="467.4" x2="374.3" y2="495.5" stroke="#2a2a2a" stroke-width="0.9"/><line x1="375.3" y1="465.7" x2="375.3" y2="495.5" stroke="#2a2a2a" stroke-width="0.9"/><line x1="383.9" y1="475.8" x2="383.9" y2="495.5" stroke="#2a2a2a" stroke-width="0.9"/><line x1="389.4" y1="481.2" x2="389.4" y2="495.5" stroke="#2a2a2a" stroke-width="0.9"/><line x1="393.5" y1="479.6" x2="393.5" y2="495.5" stroke="#2a2a2a" stroke-width="0.9"/><line x1="402.6" y1="484.4" x2="402.6" y2="495.5" stroke="#2a2a2a" stroke-width="0.9"/><line x1="414.2" y1="478.4" x2="414.2" y2="495.5" stroke="#2a2a2a" stroke-width="0.9"/><line x1="418.5" y1="485.6" x2="418.5" y2="495.5" stroke="#2a2a2a" stroke-width="0.9"/><line x1="420.5" y1="476.8" x2="420.5" y2="495.5" stroke="#2a2a2a" stroke-width="0.9"/><line x1="429.9" y1="481.2" x2="429.9" y2="495.5" stroke="#2a2a2a" stroke-width="0.9"/><line x1="439.2" y1="493.4" x2="439.2" y2="495.5" stroke="#2a2a2a" stroke-width="0.9"/><line x1="447.5" y1="487.7" x2="447.5" y2="495.5" stroke="#2a2a2a" stroke-width="0.9"/><line x1="453.5" y1="475.5" x2="453.5" y2="495.5" stroke="#2a2a2a" stroke-width="0.9"/><line x1="457.4" y1="477.9" x2="457.4" y2="495.5" stroke="#2a2a2a" stroke-width="0.9"/><line x1="458.7" y1="474.2" x2="458.7" y2="495.5" stroke="#2a2a2a" stroke-width="0.9"/><line x1="463.6" y1="485.2" x2="463.6" y2="495.5" stroke="#2a2a2a" stroke-width="0.9"/><line x1="469.6" y1="486.9" x2="469.6" y2="495.5" stroke="#2a2a2a" stroke-width="0.9"/><line x1="470.5" y1="471.4" x2="470.5" y2="495.5" stroke="#2a2a2a" stroke-width="0.9"/><line x1="473.1" y1="483.6" x2="473.1" y2="495.5" stroke="#2a2a2a" stroke-width="0.9"/><line x1="477.9" y1="485.6" x2="477.9" y2="495.5" stroke="#2a2a2a" stroke-width="0.9"/><line x1="481.4" y1="490.9" x2="481.4" y2="495.5" stroke="#2a2a2a" stroke-width="0.9"/><line x1="482.4" y1="471.9" x2="482.4" y2="495.5" stroke="#2a2a2a" stroke-width="0.9"/><line x1="488.9" y1="477.9" x2="488.9" y2="495.5" stroke="#2a2a2a" stroke-width="0.9"/><line x1="489.9" y1="462.2" x2="489.9" y2="495.5" stroke="#2a2a2a" stroke-width="0.9"/><line x1="494.3" y1="484" x2="494.3" y2="495.5" stroke="#2a2a2a" stroke-width="0.9"/><line x1="508.6" y1="478.4" x2="508.6" y2="495.5" stroke="#2a2a2a" stroke-width="0.9"/><line x1="512.5" y1="480.4" x2="512.5" y2="495.5" stroke="#2a2a2a" stroke-width="0.9"/><line x1="520.3" y1="471.9" x2="520.3" y2="495.5" stroke="#2a2a2a" stroke-width="0.9"/><line x1="522.9" y1="477.1" x2="522.9" y2="495.5" stroke="#2a2a2a" stroke-width="0.9"/><line x1="524.2" y1="472.7" x2="524.2" y2="495.5" stroke="#2a2a2a" stroke-width="0.9"/><line x1="526.4" y1="472.6" x2="526.4" y2="495.5" stroke="#2a2a2a" stroke-width="0.9"/><line x1="530.7" y1="470.9" x2="530.7" y2="495.5" stroke="#2a2a2a" stroke-width="0.9"/><line x1="532.3" y1="481.2" x2="532.3" y2="495.5" stroke="#2a2a2a" stroke-width="0.9"/><line x1="538.6" y1="492.6" x2="538.6" y2="495.5" stroke="#2a2a2a" stroke-width="0.9"/><line x1="315.3" y1="495.5" x2="315.3" y2="509.3" stroke="#2a2a2a" stroke-width="0.9"/><line x1="328" y1="495.5" x2="328" y2="511.6" stroke="#2a2a2a" stroke-width="0.9"/><line x1="334.3" y1="495.5" x2="334.3" y2="497" stroke="#2a2a2a" stroke-width="0.9"/><line x1="337.9" y1="495.5" x2="337.9" y2="512.5" stroke="#2a2a2a" stroke-width="0.9"/><line x1="367.1" y1="495.5" x2="367.1" y2="511.7" stroke="#2a2a2a" stroke-width="0.9"/><line x1="380" y1="495.5" x2="380" y2="510.4" stroke="#2a2a2a" stroke-width="0.9"/><line x1="451.5" y1="495.5" x2="451.5" y2="503.1" stroke="#2a2a2a" stroke-width="0.9"/><line x1="468.8" y1="495.5" x2="468.8" y2="511.2" stroke="#2a2a2a" stroke-width="0.9"/><line x1="471.2" y1="495.5" x2="471.2" y2="507.2" stroke="#2a2a2a" stroke-width="0.9"/><line x1="496.7" y1="495.5" x2="496.7" y2="499.5" stroke="#2a2a2a" stroke-width="0.9"/><line x1="506.6" y1="495.5" x2="506.6" y2="511.2" stroke="#2a2a2a" stroke-width="0.9"/><line x1="349.1" y1="482.3" x2="349.1" y2="506.4" stroke="#2a2a2a" stroke-width="0.9"/><line x1="445.2" y1="471.4" x2="445.2" y2="508.8" stroke="#2a2a2a" stroke-width="0.9"/><line x1="492.8" y1="486.1" x2="492.8" y2="506.4" stroke="#2a2a2a" stroke-width="0.9"/><line x1="498.3" y1="485.2" x2="498.3" y2="527.5" stroke="#2a2a2a" stroke-width="0.9"/><circle cx="410.2" cy="494.5" r="2.1" fill="#e0143c"/></g>
<g id="C2_56"><rect x="291.6" y="551.8" width="250.89999999999998" height="116.20000000000005" fill="#fff" stroke="#c4c4c4" stroke-width="1.3"/><line x1="296.4" y1="616.6" x2="540.4" y2="616.6" stroke="#333" stroke-width="0.9"/><line x1="296.4" y1="569.2" x2="296.4" y2="665.7" stroke="#666" stroke-width="1.1"/><text x="296.59999999999997" y="567.6999999999999" font-size="5.6" text-anchor="end" fill="#222" stroke="#222" stroke-width="0.15">6</text><text x="296.59999999999997" y="586.0" font-size="5.6" text-anchor="end" fill="#222" stroke="#222" stroke-width="0.15">4</text><text x="296.59999999999997" y="602.3" font-size="5.6" text-anchor="end" fill="#222" stroke="#222" stroke-width="0.15">2</text><text x="296.59999999999997" y="618.1999999999999" font-size="5.6" text-anchor="end" fill="#222" stroke="#222" stroke-width="0.15">0</text><text x="296.59999999999997" y="636.1" font-size="5.6" text-anchor="end" fill="#222" stroke="#222" stroke-width="0.15">-2</text><text x="296.59999999999997" y="650.1999999999999" font-size="5.6" text-anchor="end" fill="#222" stroke="#222" stroke-width="0.15">-4</text><text x="296.59999999999997" y="665.9" font-size="5.6" text-anchor="end" fill="#222" stroke="#222" stroke-width="0.15">-6</text><line x1="296.9" y1="609.3" x2="296.9" y2="616.6" stroke="#2a2a2a" stroke-width="0.9"/><line x1="300.2" y1="583.3" x2="300.2" y2="616.6" stroke="#2a2a2a" stroke-width="0.9"/><line x1="301.8" y1="602.8" x2="301.8" y2="616.6" stroke="#2a2a2a" stroke-width="0.9"/><line x1="306.7" y1="608.5" x2="306.7" y2="616.6" stroke="#2a2a2a" stroke-width="0.9"/><line x1="316.4" y1="593.9" x2="316.4" y2="616.6" stroke="#2a2a2a" stroke-width="0.9"/><line x1="322.4" y1="598.7" x2="322.4" y2="616.6" stroke="#2a2a2a" stroke-width="0.9"/><line x1="328.6" y1="610.1" x2="328.6" y2="616.6" stroke="#2a2a2a" stroke-width="0.9"/><line x1="329.8" y1="596.3" x2="329.8" y2="616.6" stroke="#2a2a2a" stroke-width="0.9"/><line x1="373" y1="610.9" x2="373" y2="616.6" stroke="#2a2a2a" stroke-width="0.9"/><line x1="375.1" y1="597.9" x2="375.1" y2="616.6" stroke="#2a2a2a" stroke-width="0.9"/><line x1="383.9" y1="602.8" x2="383.9" y2="616.6" stroke="#2a2a2a" stroke-width="0.9"/><line x1="392.5" y1="608.8" x2="392.5" y2="616.6" stroke="#2a2a2a" stroke-width="0.9"/><line x1="393.6" y1="597.6" x2="393.6" y2="616.6" stroke="#2a2a2a" stroke-width="0.9"/><line x1="394.4" y1="607.7" x2="394.4" y2="616.6" stroke="#2a2a2a" stroke-width="0.9"/><line x1="415.2" y1="601.7" x2="415.2" y2="616.6" stroke="#2a2a2a" stroke-width="0.9"/><line x1="418.9" y1="600.4" x2="418.9" y2="616.6" stroke="#2a2a2a" stroke-width="0.9"/><line x1="425.7" y1="606.9" x2="425.7" y2="616.6" stroke="#2a2a2a" stroke-width="0.9"/><line x1="430.2" y1="602.8" x2="430.2" y2="616.6" stroke="#2a2a2a" stroke-width="0.9"/><line x1="445.2" y1="607.7" x2="445.2" y2="616.6" stroke="#2a2a2a" stroke-width="0.9"/><line x1="446" y1="596.3" x2="446" y2="616.6" stroke="#2a2a2a" stroke-width="1.5"/><line x1="459.8" y1="602.5" x2="459.8" y2="616.6" stroke="#2a2a2a" stroke-width="0.9"/><line x1="464.4" y1="609" x2="464.4" y2="616.6" stroke="#2a2a2a" stroke-width="0.9"/><line x1="471.4" y1="591.9" x2="471.4" y2="616.6" stroke="#2a2a2a" stroke-width="0.9"/><line x1="483.5" y1="596" x2="483.5" y2="616.6" stroke="#2a2a2a" stroke-width="0.9"/><line x1="489.2" y1="597.1" x2="489.2" y2="616.6" stroke="#2a2a2a" stroke-width="0.9"/><line x1="491.2" y1="588.2" x2="491.2" y2="616.6" stroke="#2a2a2a" stroke-width="0.9"/><line x1="506.6" y1="598.4" x2="506.6" y2="616.6" stroke="#2a2a2a" stroke-width="0.9"/><line x1="509.1" y1="580.1" x2="509.1" y2="616.6" stroke="#2a2a2a" stroke-width="0.9"/><line x1="531.5" y1="607.7" x2="531.5" y2="616.6" stroke="#2a2a2a" stroke-width="0.9"/><line x1="414.3" y1="616.6" x2="414.3" y2="619.5" stroke="#2a2a2a" stroke-width="0.9"/><line x1="421.8" y1="616.6" x2="421.8" y2="626.4" stroke="#2a2a2a" stroke-width="0.9"/><line x1="484.7" y1="616.6" x2="484.7" y2="627.2" stroke="#2a2a2a" stroke-width="0.9"/><line x1="513.4" y1="616.6" x2="513.4" y2="622.3" stroke="#2a2a2a" stroke-width="0.9"/><line x1="370.5" y1="608.2" x2="370.5" y2="629.6" stroke="#2a2a2a" stroke-width="0.9"/><line x1="453.8" y1="611.7" x2="453.8" y2="627.2" stroke="#2a2a2a" stroke-width="0.9"/><line x1="490.2" y1="606.9" x2="490.2" y2="631.3" stroke="#2a2a2a" stroke-width="1.5"/><line x1="521.4" y1="611.7" x2="521.4" y2="630.1" stroke="#2a2a2a" stroke-width="0.9"/><circle cx="409.9" cy="616.6" r="2.1" fill="#e0143c"/></g>
<g id="C3_23"><rect x="546.5" y="431.6" width="250.70000000000005" height="116.39999999999998" fill="#fff" stroke="#777" stroke-width="1"/><line x1="551.8" y1="496.3" x2="794.8" y2="496.3" stroke="#333" stroke-width="0.9"/><line x1="551.8" y1="449.2" x2="551.8" y2="547" stroke="#666" stroke-width="1.1"/><text x="552.0" y="447.29999999999995" font-size="5.6" text-anchor="end" fill="#222" stroke="#222" stroke-width="0.15">6</text><text x="552.0" y="465.2" font-size="5.6" text-anchor="end" fill="#222" stroke="#222" stroke-width="0.15">4</text><text x="552.0" y="480.59999999999997" font-size="5.6" text-anchor="end" fill="#222" stroke="#222" stroke-width="0.15">2</text><text x="552.0" y="497.7" font-size="5.6" text-anchor="end" fill="#222" stroke="#222" stroke-width="0.15">0</text><text x="552.0" y="515.6" font-size="5.6" text-anchor="end" fill="#222" stroke="#222" stroke-width="0.15">-2</text><text x="552.0" y="530.1999999999999" font-size="5.6" text-anchor="end" fill="#222" stroke="#222" stroke-width="0.15">-4</text><text x="552.0" y="546.4" font-size="5.6" text-anchor="end" fill="#222" stroke="#222" stroke-width="0.15">-6</text><line x1="553.7" y1="487.7" x2="553.7" y2="496.3" stroke="#2a2a2a" stroke-width="0.9"/><line x1="554.9" y1="486.1" x2="554.9" y2="496.3" stroke="#2a2a2a" stroke-width="0.9"/><line x1="557" y1="461.2" x2="557" y2="496.3" stroke="#2a2a2a" stroke-width="0.9"/><line x1="565.1" y1="485.2" x2="565.1" y2="496.3" stroke="#2a2a2a" stroke-width="0.9"/><line x1="570.8" y1="486.9" x2="570.8" y2="496.3" stroke="#2a2a2a" stroke-width="0.9"/><line x1="574.1" y1="473.1" x2="574.1" y2="496.3" stroke="#2a2a2a" stroke-width="0.9"/><line x1="575.2" y1="474.7" x2="575.2" y2="496.3" stroke="#2a2a2a" stroke-width="0.9"/><line x1="576.2" y1="478.7" x2="576.2" y2="496.3" stroke="#2a2a2a" stroke-width="0.9"/><line x1="577.3" y1="473.5" x2="577.3" y2="496.3" stroke="#2a2a2a" stroke-width="0.9"/><line x1="578.4" y1="480.4" x2="578.4" y2="496.3" stroke="#2a2a2a" stroke-width="0.9"/><line x1="580.6" y1="477.1" x2="580.6" y2="496.3" stroke="#2a2a2a" stroke-width="0.9"/><line x1="581.7" y1="472.2" x2="581.7" y2="496.3" stroke="#2a2a2a" stroke-width="0.9"/><line x1="583.5" y1="485.6" x2="583.5" y2="496.3" stroke="#2a2a2a" stroke-width="0.9"/><line x1="590" y1="472.2" x2="590" y2="496.3" stroke="#2a2a2a" stroke-width="0.9"/><line x1="592.7" y1="486.1" x2="592.7" y2="496.3" stroke="#2a2a2a" stroke-width="0.9"/><line x1="593.7" y1="481.7" x2="593.7" y2="496.3" stroke="#2a2a2a" stroke-width="0.9"/><line x1="599.2" y1="478.4" x2="599.2" y2="496.3" stroke="#2a2a2a" stroke-width="0.9"/><line x1="600.5" y1="472.7" x2="600.5" y2="496.3" stroke="#2a2a2a" stroke-width="0.9"/><line x1="601.7" y1="486.1" x2="601.7" y2="496.3" stroke="#2a2a2a" stroke-width="0.9"/><line x1="603.5" y1="472.7" x2="603.5" y2="496.3" stroke="#2a2a2a" stroke-width="0.9"/><line x1="607" y1="488.8" x2="607" y2="496.3" stroke="#2a2a2a" stroke-width="0.9"/><line x1="609.8" y1="494.7" x2="609.8" y2="496.3" stroke="#2a2a2a" stroke-width="0.9"/><line x1="614.7" y1="477.4" x2="614.7" y2="496.3" stroke="#2a2a2a" stroke-width="0.9"/><line x1="616.6" y1="480" x2="616.6" y2="496.3" stroke="#2a2a2a" stroke-width="0.9"/><line x1="619.2" y1="486.1" x2="619.2" y2="496.3" stroke="#2a2a2a" stroke-width="0.9"/><line x1="626.9" y1="464.1" x2="626.9" y2="496.3" stroke="#2a2a2a" stroke-width="0.9"/><line x1="628.8" y1="477" x2="628.8" y2="496.3" stroke="#2a2a2a" stroke-width="0.9"/><line x1="629.6" y1="472.6" x2="629.6" y2="496.3" stroke="#2a2a2a" stroke-width="0.9"/><line x1="631.7" y1="485.2" x2="631.7" y2="496.3" stroke="#2a2a2a" stroke-width="0.9"/><line x1="632.6" y1="480.4" x2="632.6" y2="496.3" stroke="#2a2a2a" stroke-width="0.9"/><line x1="633.4" y1="482" x2="633.4" y2="496.3" stroke="#2a2a2a" stroke-width="0.9"/><line x1="637.4" y1="481.2" x2="637.4" y2="496.3" stroke="#2a2a2a" stroke-width="0.9"/><line x1="641" y1="486.1" x2="641" y2="496.3" stroke="#2a2a2a" stroke-width="0.9"/><line x1="642" y1="481.2" x2="642" y2="496.3" stroke="#2a2a2a" stroke-width="0.9"/><line x1="645.9" y1="476.3" x2="645.9" y2="496.3" stroke="#2a2a2a" stroke-width="0.9"/><line x1="651.9" y1="476.3" x2="651.9" y2="496.3" stroke="#2a2a2a" stroke-width="0.9"/><line x1="652.7" y1="487.7" x2="652.7" y2="496.3" stroke="#2a2a2a" stroke-width="0.9"/><line x1="654.8" y1="461.7" x2="654.8" y2="496.3" stroke="#2a2a2a" stroke-width="0.9"/><line x1="656.9" y1="487.7" x2="656.9" y2="496.3" stroke="#2a2a2a" stroke-width="0.9"/><line x1="658.1" y1="474.2" x2="658.1" y2="496.3" stroke="#2a2a2a" stroke-width="0.9"/><line x1="661.6" y1="461.4" x2="661.6" y2="496.3" stroke="#2a2a2a" stroke-width="0.9"/><line x1="665.9" y1="486.9" x2="665.9" y2="496.3" stroke="#2a2a2a" stroke-width="0.9"/><line x1="669.1" y1="489.3" x2="669.1" y2="496.3" stroke="#2a2a2a" stroke-width="0.9"/><line x1="670.6" y1="450.3" x2="670.6" y2="496.3" stroke="#2a2a2a" stroke-width="0.9"/><line x1="671.4" y1="463.3" x2="671.4" y2="496.3" stroke="#2a2a2a" stroke-width="1.2"/><line x1="672.9" y1="478.7" x2="672.9" y2="496.3" stroke="#2a2a2a" stroke-width="0.9"/><line x1="674.9" y1="487.7" x2="674.9" y2="496.3" stroke="#2a2a2a" stroke-width="0.9"/><line x1="691.1" y1="482.3" x2="691.1" y2="496.3" stroke="#2a2a2a" stroke-width="0.9"/><line x1="693.2" y1="476.8" x2="693.2" y2="496.3" stroke="#2a2a2a" stroke-width="0.9"/><line x1="698.6" y1="486.1" x2="698.6" y2="496.3" stroke="#2a2a2a" stroke-width="0.9"/><line x1="701" y1="470.6" x2="701" y2="496.3" stroke="#2a2a2a" stroke-width="0.9"/><line x1="703.3" y1="490.1" x2="703.3" y2="496.3" stroke="#2a2a2a" stroke-width="0.9"/><line x1="705.4" y1="480.7" x2="705.4" y2="496.3" stroke="#2a2a2a" stroke-width="0.9"/><line x1="706.7" y1="487.7" x2="706.7" y2="496.3" stroke="#2a2a2a" stroke-width="0.9"/><line x1="707.5" y1="476" x2="707.5" y2="496.3" stroke="#2a2a2a" stroke-width="0.9"/><line x1="708.3" y1="486.9" x2="708.3" y2="496.3" stroke="#2a2a2a" stroke-width="0.9"/><line x1="711.8" y1="484.4" x2="711.8" y2="496.3" stroke="#2a2a2a" stroke-width="0.9"/><line x1="713.1" y1="480.4" x2="713.1" y2="496.3" stroke="#2a2a2a" stroke-width="0.9"/><line x1="714.2" y1="477.4" x2="714.2" y2="496.3" stroke="#2a2a2a" stroke-width="0.9"/><line x1="715.3" y1="477.9" x2="715.3" y2="496.3" stroke="#2a2a2a" stroke-width="0.9"/><line x1="716.6" y1="480" x2="716.6" y2="496.3" stroke="#2a2a2a" stroke-width="0.9"/><line x1="724.8" y1="483.6" x2="724.8" y2="496.3" stroke="#2a2a2a" stroke-width="0.9"/><line x1="727.5" y1="485.6" x2="727.5" y2="496.3" stroke="#2a2a2a" stroke-width="0.9"/><line x1="730.9" y1="483.3" x2="730.9" y2="496.3" stroke="#2a2a2a" stroke-width="0.9"/><line x1="731.9" y1="478.3" x2="731.9" y2="496.3" stroke="#2a2a2a" stroke-width="0.9"/><line x1="732.7" y1="490.1" x2="732.7" y2="496.3" stroke="#2a2a2a" stroke-width="0.9"/><line x1="736.6" y1="481.2" x2="736.6" y2="496.3" stroke="#2a2a2a" stroke-width="0.9"/><line x1="739.5" y1="478.7" x2="739.5" y2="496.3" stroke="#2a2a2a" stroke-width="0.9"/><line x1="745.6" y1="486.5" x2="745.6" y2="496.3" stroke="#2a2a2a" stroke-width="0.9"/><line x1="747.5" y1="478.4" x2="747.5" y2="496.3" stroke="#2a2a2a" stroke-width="0.9"/><line x1="749.6" y1="482.8" x2="749.6" y2="496.3" stroke="#2a2a2a" stroke-width="0.9"/><line x1="758.9" y1="479.6" x2="758.9" y2="496.3" stroke="#2a2a2a" stroke-width="0.9"/><line x1="759.9" y1="486.1" x2="759.9" y2="496.3" stroke="#2a2a2a" stroke-width="1.4"/><line x1="762.3" y1="472.2" x2="762.3" y2="496.3" stroke="#2a2a2a" stroke-width="0.9"/><line x1="770.4" y1="469" x2="770.4" y2="496.3" stroke="#2a2a2a" stroke-width="0.9"/><line x1="771.7" y1="482.8" x2="771.7" y2="496.3" stroke="#2a2a2a" stroke-width="0.9"/><line x1="774.5" y1="486.9" x2="774.5" y2="496.3" stroke="#2a2a2a" stroke-width="0.9"/><line x1="775.6" y1="476.6" x2="775.6" y2="496.3" stroke="#2a2a2a" stroke-width="0.9"/><line x1="777.6" y1="482.8" x2="777.6" y2="496.3" stroke="#2a2a2a" stroke-width="0.9"/><line x1="779.2" y1="490.1" x2="779.2" y2="496.3" stroke="#2a2a2a" stroke-width="0.9"/><line x1="781.6" y1="482" x2="781.6" y2="496.3" stroke="#2a2a2a" stroke-width="0.9"/><line x1="783.7" y1="476" x2="783.7" y2="496.3" stroke="#2a2a2a" stroke-width="0.9"/><line x1="786.2" y1="476" x2="786.2" y2="496.3" stroke="#2a2a2a" stroke-width="0.9"/><line x1="787.3" y1="488.5" x2="787.3" y2="496.3" stroke="#2a2a2a" stroke-width="0.9"/><line x1="789.6" y1="480.4" x2="789.6" y2="496.3" stroke="#2a2a2a" stroke-width="0.9"/><line x1="791.1" y1="492" x2="791.1" y2="496.3" stroke="#2a2a2a" stroke-width="0.9"/><line x1="794.5" y1="485.2" x2="794.5" y2="496.3" stroke="#2a2a2a" stroke-width="0.9"/><line x1="596.8" y1="496.3" x2="596.8" y2="509.6" stroke="#2a2a2a" stroke-width="0.9"/><line x1="598.1" y1="496.3" x2="598.1" y2="510.9" stroke="#2a2a2a" stroke-width="0.9"/><line x1="605.7" y1="496.3" x2="605.7" y2="507.2" stroke="#2a2a2a" stroke-width="0.9"/><line x1="618.3" y1="496.3" x2="618.3" y2="499.9" stroke="#2a2a2a" stroke-width="0.9"/><line x1="726.9" y1="496.3" x2="726.9" y2="505.6" stroke="#2a2a2a" stroke-width="0.9"/><line x1="740.5" y1="496.3" x2="740.5" y2="505.6" stroke="#2a2a2a" stroke-width="0.9"/><line x1="746.2" y1="496.3" x2="746.2" y2="507.7" stroke="#2a2a2a" stroke-width="0.9"/><line x1="782.4" y1="496.3" x2="782.4" y2="509.6" stroke="#2a2a2a" stroke-width="0.9"/><line x1="792.7" y1="496.3" x2="792.7" y2="512.1" stroke="#2a2a2a" stroke-width="0.9"/><line x1="563.5" y1="492" x2="563.5" y2="506" stroke="#2a2a2a" stroke-width="0.9"/><line x1="595.5" y1="481.2" x2="595.5" y2="508" stroke="#2a2a2a" stroke-width="0.9"/><line x1="627.8" y1="475" x2="627.8" y2="528.3" stroke="#2a2a2a" stroke-width="0.9"/><line x1="668" y1="478.7" x2="668" y2="511.2" stroke="#2a2a2a" stroke-width="0.9"/><line x1="684" y1="483.3" x2="684" y2="506.4" stroke="#2a2a2a" stroke-width="0.9"/><line x1="784.9" y1="476" x2="784.9" y2="514.8" stroke="#2a2a2a" stroke-width="0.9"/><circle cx="659.9" cy="496.6" r="2.1" fill="#e0143c"/></g>
<g id="C3_56"><rect x="546.5" y="552.4" width="250.70000000000005" height="115.39999999999998" fill="#fff" stroke="#777" stroke-width="1"/><line x1="546.5" y1="667.8" x2="797.2" y2="667.8" stroke="#111" stroke-width="1.4"/><line x1="551.3" y1="616.1" x2="794.8" y2="616.1" stroke="#333" stroke-width="0.9"/><line x1="551.3" y1="567.9" x2="551.3" y2="665.4" stroke="#666" stroke-width="1.1"/><text x="551.5" y="566.5" font-size="5.6" text-anchor="end" fill="#222" stroke="#222" stroke-width="0.15">6</text><text x="551.5" y="583.9" font-size="5.6" text-anchor="end" fill="#222" stroke="#222" stroke-width="0.15">4</text><text x="551.5" y="600.6" font-size="5.6" text-anchor="end" fill="#222" stroke="#222" stroke-width="0.15">2</text><text x="551.5" y="616.9" font-size="5.6" text-anchor="end" fill="#222" stroke="#222" stroke-width="0.15">0</text><text x="551.5" y="635.3" font-size="5.6" text-anchor="end" fill="#222" stroke="#222" stroke-width="0.15">-2</text><text x="551.5" y="649.1" font-size="5.6" text-anchor="end" fill="#222" stroke="#222" stroke-width="0.15">-4</text><text x="551.5" y="664.8" font-size="5.6" text-anchor="end" fill="#222" stroke="#222" stroke-width="0.15">-6</text><line x1="555.4" y1="606.9" x2="555.4" y2="616.1" stroke="#2a2a2a" stroke-width="0.9"/><line x1="564.3" y1="608.5" x2="564.3" y2="616.1" stroke="#2a2a2a" stroke-width="0.9"/><line x1="568.4" y1="597.6" x2="568.4" y2="616.1" stroke="#2a2a2a" stroke-width="0.9"/><line x1="572.9" y1="608.5" x2="572.9" y2="616.1" stroke="#2a2a2a" stroke-width="0.9"/><line x1="574.2" y1="593.9" x2="574.2" y2="616.1" stroke="#2a2a2a" stroke-width="0.9"/><line x1="575.2" y1="596.3" x2="575.2" y2="616.1" stroke="#2a2a2a" stroke-width="0.9"/><line x1="576.5" y1="597.1" x2="576.5" y2="616.1" stroke="#2a2a2a" stroke-width="0.9"/><line x1="580.4" y1="596.6" x2="580.4" y2="616.1" stroke="#2a2a2a" stroke-width="0.9"/><line x1="581.7" y1="607.7" x2="581.7" y2="616.1" stroke="#2a2a2a" stroke-width="0.9"/><line x1="591.4" y1="607.7" x2="591.4" y2="616.1" stroke="#2a2a2a" stroke-width="0.9"/><line x1="592.4" y1="595.2" x2="592.4" y2="616.1" stroke="#2a2a2a" stroke-width="0.9"/><line x1="593.6" y1="602.8" x2="593.6" y2="616.1" stroke="#2a2a2a" stroke-width="0.9"/><line x1="594.5" y1="606.9" x2="594.5" y2="616.1" stroke="#2a2a2a" stroke-width="0.9"/><line x1="595.3" y1="606.9" x2="595.3" y2="616.1" stroke="#2a2a2a" stroke-width="0.9"/><line x1="598.4" y1="606.1" x2="598.4" y2="616.1" stroke="#2a2a2a" stroke-width="0.9"/><line x1="600.5" y1="608.8" x2="600.5" y2="616.1" stroke="#2a2a2a" stroke-width="0.9"/><line x1="601.7" y1="608.8" x2="601.7" y2="616.1" stroke="#2a2a2a" stroke-width="0.9"/><line x1="602.7" y1="595.5" x2="602.7" y2="616.1" stroke="#2a2a2a" stroke-width="0.9"/><line x1="604.1" y1="593.9" x2="604.1" y2="616.1" stroke="#2a2a2a" stroke-width="0.9"/><line x1="605.1" y1="593.5" x2="605.1" y2="616.1" stroke="#2a2a2a" stroke-width="0.9"/><line x1="607.7" y1="600.4" x2="607.7" y2="616.1" stroke="#2a2a2a" stroke-width="0.9"/><line x1="616.3" y1="607.7" x2="616.3" y2="616.1" stroke="#2a2a2a" stroke-width="0.9"/><line x1="626.5" y1="599.2" x2="626.5" y2="616.1" stroke="#2a2a2a" stroke-width="0.9"/><line x1="627.5" y1="599.2" x2="627.5" y2="616.1" stroke="#2a2a2a" stroke-width="0.9"/><line x1="628.5" y1="598.7" x2="628.5" y2="616.1" stroke="#2a2a2a" stroke-width="0.9"/><line x1="629.6" y1="606.9" x2="629.6" y2="616.1" stroke="#2a2a2a" stroke-width="0.9"/><line x1="632.7" y1="590.6" x2="632.7" y2="616.1" stroke="#2a2a2a" stroke-width="0.9"/><line x1="636.8" y1="599.6" x2="636.8" y2="616.1" stroke="#2a2a2a" stroke-width="0.9"/><line x1="638.2" y1="605.2" x2="638.2" y2="616.1" stroke="#2a2a2a" stroke-width="0.9"/><line x1="645.6" y1="596.8" x2="645.6" y2="616.1" stroke="#2a2a2a" stroke-width="0.9"/><line x1="651.6" y1="600.4" x2="651.6" y2="616.1" stroke="#2a2a2a" stroke-width="0.9"/><line x1="654.5" y1="593.1" x2="654.5" y2="616.1" stroke="#2a2a2a" stroke-width="0.9"/><line x1="657.7" y1="591.9" x2="657.7" y2="616.1" stroke="#2a2a2a" stroke-width="0.9"/><line x1="668" y1="610.4" x2="668" y2="616.1" stroke="#2a2a2a" stroke-width="0.9"/><line x1="687.9" y1="597.9" x2="687.9" y2="616.1" stroke="#2a2a2a" stroke-width="0.9"/><line x1="693.4" y1="596" x2="693.4" y2="616.1" stroke="#2a2a2a" stroke-width="0.9"/><line x1="703.5" y1="594.7" x2="703.5" y2="616.1" stroke="#2a2a2a" stroke-width="0.9"/><line x1="705.7" y1="593.5" x2="705.7" y2="616.1" stroke="#2a2a2a" stroke-width="0.9"/><line x1="708.5" y1="601.2" x2="708.5" y2="616.1" stroke="#2a2a2a" stroke-width="0.9"/><line x1="711.8" y1="598.7" x2="711.8" y2="616.1" stroke="#2a2a2a" stroke-width="0.9"/><line x1="713.5" y1="597.1" x2="713.5" y2="616.1" stroke="#2a2a2a" stroke-width="0.9"/><line x1="725.7" y1="578.9" x2="725.7" y2="616.1" stroke="#2a2a2a" stroke-width="0.9"/><line x1="732.1" y1="597.9" x2="732.1" y2="616.1" stroke="#2a2a2a" stroke-width="0.9"/><line x1="736.9" y1="594.4" x2="736.9" y2="616.1" stroke="#2a2a2a" stroke-width="0.9"/><line x1="743.6" y1="601.2" x2="743.6" y2="616.1" stroke="#2a2a2a" stroke-width="0.9"/><line x1="748" y1="596" x2="748" y2="616.1" stroke="#2a2a2a" stroke-width="0.9"/><line x1="770.3" y1="593.5" x2="770.3" y2="616.1" stroke="#2a2a2a" stroke-width="1.5"/><line x1="781.3" y1="607.7" x2="781.3" y2="616.1" stroke="#2a2a2a" stroke-width="0.9"/><line x1="784.6" y1="591.4" x2="784.6" y2="616.1" stroke="#2a2a2a" stroke-width="0.9"/><line x1="794.5" y1="589.8" x2="794.5" y2="616.1" stroke="#2a2a2a" stroke-width="0.9"/><line x1="556.3" y1="616.1" x2="556.3" y2="623.9" stroke="#2a2a2a" stroke-width="0.9"/><line x1="557.5" y1="616.1" x2="557.5" y2="626.4" stroke="#2a2a2a" stroke-width="0.9"/><line x1="560.2" y1="616.1" x2="560.2" y2="622.3" stroke="#2a2a2a" stroke-width="0.9"/><line x1="570.5" y1="616.1" x2="570.5" y2="632.1" stroke="#2a2a2a" stroke-width="0.9"/><line x1="668.8" y1="616.1" x2="668.8" y2="621.5" stroke="#2a2a2a" stroke-width="0.9"/><line x1="670.4" y1="616.1" x2="670.4" y2="622.8" stroke="#2a2a2a" stroke-width="0.9"/><line x1="698.4" y1="616.1" x2="698.4" y2="620.2" stroke="#2a2a2a" stroke-width="0.9"/><line x1="778.5" y1="616.1" x2="778.5" y2="620.5" stroke="#2a2a2a" stroke-width="0.9"/><line x1="782.4" y1="616.1" x2="782.4" y2="622.3" stroke="#2a2a2a" stroke-width="0.9"/><line x1="562.7" y1="603.6" x2="562.7" y2="622.3" stroke="#2a2a2a" stroke-width="0.9"/><line x1="577.6" y1="597.6" x2="577.6" y2="626.4" stroke="#2a2a2a" stroke-width="0.9"/><line x1="612.6" y1="608.5" x2="612.6" y2="628.5" stroke="#2a2a2a" stroke-width="0.9"/><line x1="617.4" y1="611" x2="617.4" y2="619" stroke="#2a2a2a" stroke-width="0.9"/><line x1="779.4" y1="600.9" x2="779.4" y2="631.3" stroke="#2a2a2a" stroke-width="0.9"/><line x1="791.2" y1="606.1" x2="791.2" y2="618" stroke="#2a2a2a" stroke-width="0.9"/><circle cx="659.9" cy="616.1" r="2.1" fill="#e0143c"/></g>
<text class="b" x="24.4" y="742.4" font-size="28" fill="#000">C</text>
<g id="table"><rect x="122.5" y="758.5" width="301.0" height="16.0" fill="#d8d8d8"/><rect x="37" y="774.5" width="85.5" height="49.0" fill="#ee2c4c"/><rect x="37" y="823.5" width="85.5" height="20.0" fill="#eef658"/><rect x="37" y="843.5" width="85.5" height="49.5" fill="#b4f8cc"/><line x1="122.5" y1="742.5" x2="423.5" y2="742.5" stroke="#888" stroke-width="0.9"/><line x1="122.5" y1="758.5" x2="423.5" y2="758.5" stroke="#999" stroke-width="0.9"/><line x1="122.5" y1="774.5" x2="423.5" y2="774.5" stroke="#555" stroke-width="0.9"/><line x1="37" y1="823.5" x2="423.5" y2="823.5" stroke="#555" stroke-width="0.9"/><line x1="122.5" y1="843.5" x2="423.5" y2="843.5" stroke="#555" stroke-width="0.9"/><line x1="37" y1="893" x2="423.5" y2="893" stroke="#555" stroke-width="0.9"/><line x1="37" y1="909.5" x2="423.5" y2="909.5" stroke="#555" stroke-width="0.9"/><line x1="37" y1="893" x2="37" y2="909.5" stroke="#555" stroke-width="0.9"/><line x1="122.5" y1="742.5" x2="122.5" y2="909.5" stroke="#555" stroke-width="0.9"/><line x1="272.5" y1="742.5" x2="272.5" y2="909.5" stroke="#555" stroke-width="0.9"/><line x1="423.5" y1="742.5" x2="423.5" y2="909.5" stroke="#888" stroke-width="0.9"/><line x1="196.5" y1="774.5" x2="196.5" y2="909.5" stroke="#555" stroke-width="0.9"/><line x1="346" y1="774.5" x2="346" y2="909.5" stroke="#555" stroke-width="0.9"/><line x1="37" y1="774.5" x2="37" y2="893" stroke="rgba(40,20,20,0.38)" stroke-width="0.9"/><line x1="37" y1="774.5" x2="122.5" y2="774.5" stroke="rgba(40,20,20,0.38)" stroke-width="0.9"/><line x1="37" y1="843.5" x2="122.5" y2="843.5" stroke="rgba(40,40,20,0.45)" stroke-width="0.9"/><line x1="196.5" y1="758.5" x2="196.5" y2="774.5" stroke="#eee" stroke-width="0.9"/><line x1="346" y1="758.5" x2="346" y2="774.5" stroke="#eee" stroke-width="0.9"/><g font-size="12.2" fill="#222"><text x="135.5" y="755">2-3hr</text><text x="285.5" y="755">5-6hr</text><g text-anchor="middle"><text x="159.5" y="771">X-linked</text><text x="234.5" y="771">Autosomal</text><text x="309.2" y="771">X-linked</text><text x="384.8" y="771">Autosomal</text><text x="79.8" y="787.5">off to on</text><text x="159.5" y="787.5">6</text><text x="234.5" y="787.5">38</text><text x="309.2" y="787.5">0</text><text x="384.8" y="787.5">6</text><text x="79.8" y="803.5">&lt; 2 fold up</text><text x="159.5" y="803.5">8</text><text x="234.5" y="803.5">24</text><text x="309.2" y="803.5">13</text><text x="384.8" y="803.5">55</text><text x="79.8" y="819.5"><tspan text-decoration="underline">&gt;</tspan> 2 fold up</text><text x="159.5" y="819.5">26</text><text x="234.5" y="819.5">200</text><text x="309.2" y="819.5">6</text><text x="384.8" y="819.5">60</text><text x="79.8" y="838">unchanged</text><text x="159.5" y="838">2311</text><text x="234.5" y="838">12509</text><text x="309.2" y="838">2336</text><text x="384.8" y="838">12633</text><text x="79.8" y="857">&lt; 2 fold down</text><text x="159.5" y="857">8</text><text x="234.5" y="857">15</text><text x="309.2" y="857">0</text><text x="384.8" y="857">9</text><text x="79.8" y="873"><tspan text-decoration="underline">&gt;</tspan> 2 fold down</text><text x="159.5" y="873">1</text><text x="234.5" y="873">10</text><text x="309.2" y="873">0</text><text x="384.8" y="873">1</text><text x="79.8" y="889">on to off</text><text x="159.5" y="889">1</text><text x="234.5" y="889">9</text><text x="309.2" y="889">0</text><text x="384.8" y="889">1</text><text x="79.8" y="905.5">total</text><text x="159.5" y="905.5">2354</text><text x="234.5" y="905.5">12758</text><text x="309.2" y="905.5">2355</text><text x="384.8" y="905.5">12758</text></g></g></g>
<text class="b" x="471" y="743.9" font-size="28" fill="#000">D</text>
<g id="venn"><ellipse cx="584.1" cy="829.7" rx="110.1" ry="79.3" fill="#727478" stroke="#111" stroke-width="1.3"/><ellipse cx="686.2" cy="829" rx="110.4" ry="79.6" fill="#fff"/><ellipse cx="584.1" cy="829.7" rx="110.1" ry="79.3" fill="#dcdde0" clip-path="url(#cr)"/><ellipse cx="686.2" cy="829" rx="110.4" ry="79.6" fill="none" stroke="#111" stroke-width="1.3"/><g font-size="16.8" fill="#222"><text x="552.5" y="747">2-3hr</text><text x="676.4" y="747">5-6hr</text></g><g font-size="16.2" fill="#26262b"><text x="517.2" y="817.8">189</text><text x="516.5" y="845.5">31</text><text x="623.8" y="821.5">70</text><text x="631" y="847">2</text><text x="729.9" y="819">64</text><text x="733.3" y="848">10</text></g><line x1="508" y1="806.5" x2="508" y2="818.8" stroke="#111" stroke-width="1.1"/><polygon points="508,802.5 504.9,810.5 511.1,810.5" fill="#111"/><line x1="508" y1="834.5" x2="508" y2="843.5" stroke="#111" stroke-width="1.1"/><polygon points="508,847.5 504.9,840.0 511.1,840.0" fill="#111"/><line x1="615" y1="811.5" x2="615" y2="822.5" stroke="#111" stroke-width="1.1"/><polygon points="615,807.5 611.9,815.5 618.1,815.5" fill="#111"/><line x1="615" y1="833" x2="615" y2="843.5" stroke="#111" stroke-width="1.1"/><polygon points="615,847.5 611.9,840.0 618.1,840.0" fill="#111"/><line x1="721.5" y1="809.5" x2="721.5" y2="819.8" stroke="#111" stroke-width="1.1"/><polygon points="721.5,805.5 718.4,813.5 724.6,813.5" fill="#111"/><line x1="721.5" y1="834.5" x2="721.5" y2="845.5" stroke="#111" stroke-width="1.1"/><polygon points="721.5,849.5 718.4,842.0 724.6,842.0" fill="#111"/></g>
</g>
</svg>
</body></html>
